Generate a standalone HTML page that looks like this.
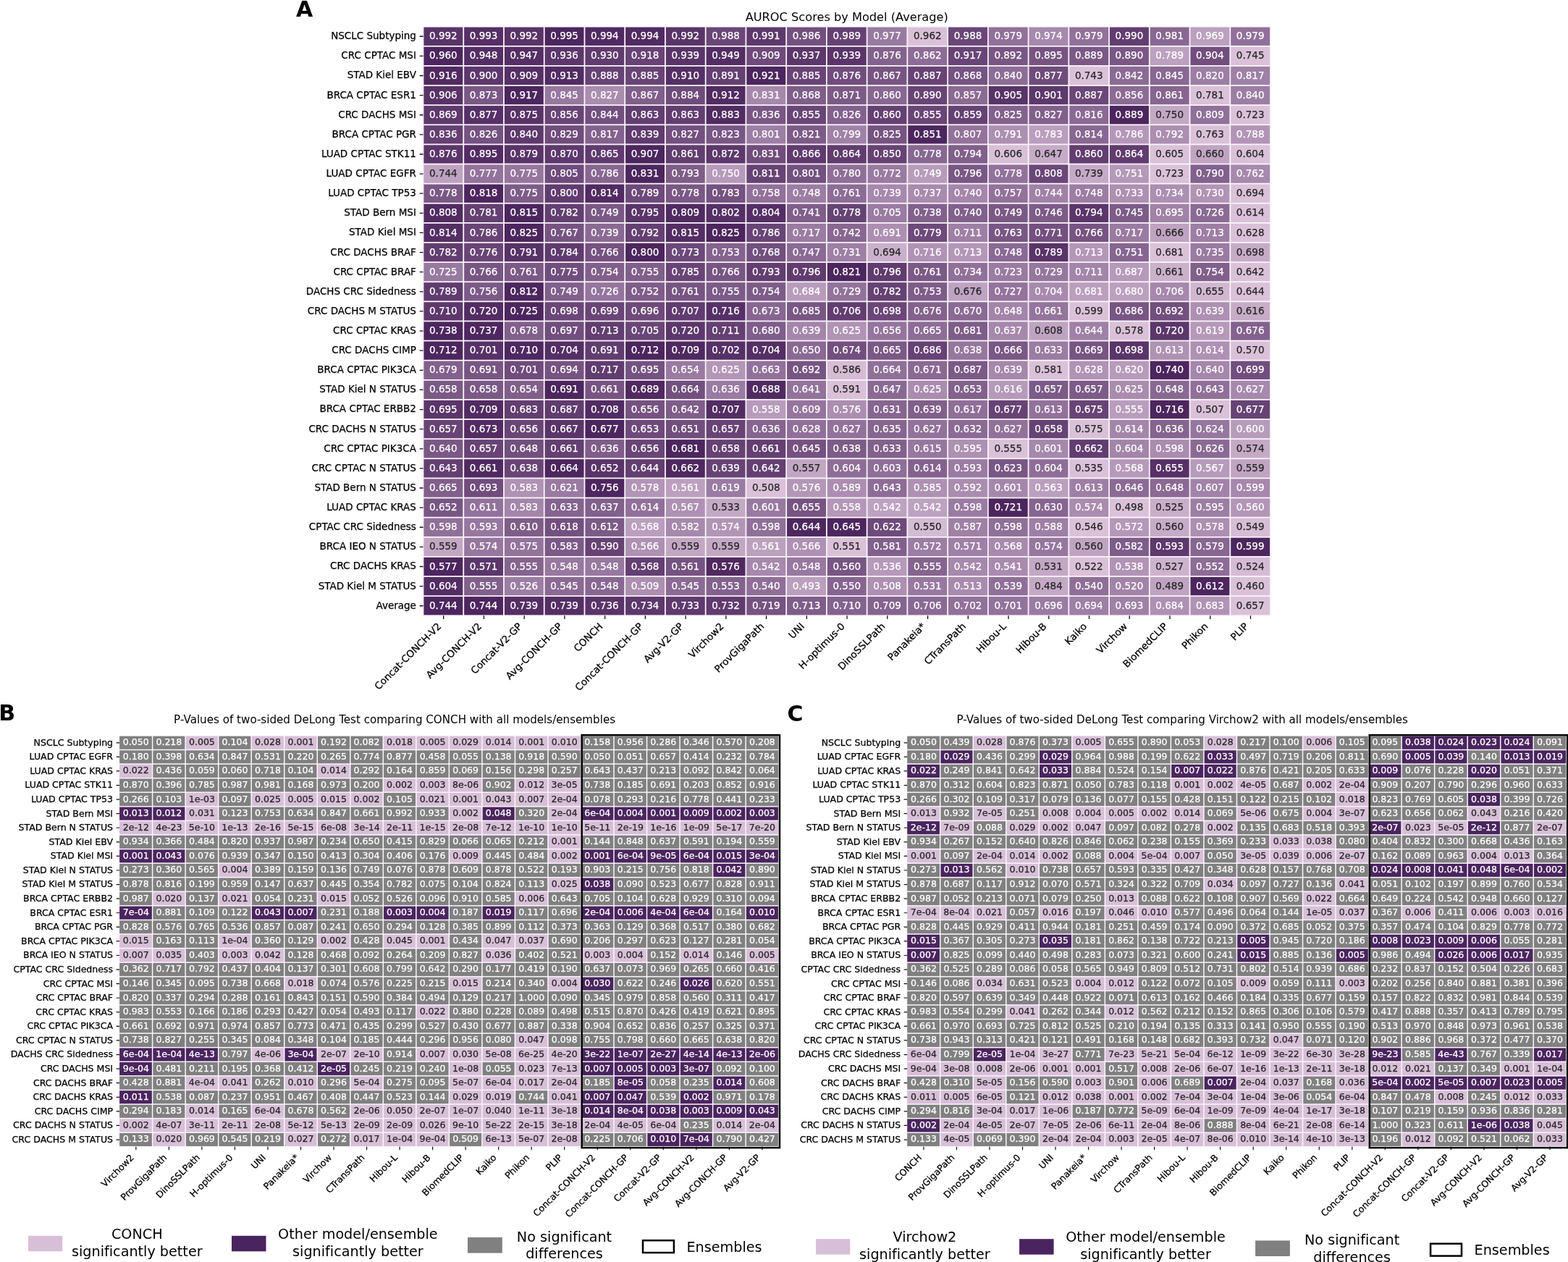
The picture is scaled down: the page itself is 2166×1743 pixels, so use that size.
<!DOCTYPE html>
<html><head><meta charset="utf-8"><title>AUROC heatmaps</title>
<style>
html,body{margin:0;padding:0;background:#fff;}
body{width:2166px;height:1743px;overflow:hidden;}
svg{display:block;font-family:'DejaVu Sans','Liberation Sans',sans-serif;font-variant-ligatures:none;font-feature-settings:'liga' 0;}
text{stroke-width:0.25px;}
</style></head><body>
<svg width="2166" height="1743" viewBox="0 0 2166 1743">
<rect width="2166" height="1743" fill="#fff"/>
<text x="1169.77" y="28.7" font-size="16.2" text-anchor="middle">AUROC Scores by Model (Average)</text>
<text x="409" y="22.8" font-size="30" font-weight="bold">A</text>
<rect x="583.60" y="35.80" width="1172.34" height="815.40" fill="#fbf6fb"/>
<rect x="585.40" y="37.60" width="53.94" height="25.32" fill="#593469"/>
<rect x="641.14" y="37.60" width="53.94" height="25.32" fill="#552f65"/>
<rect x="696.88" y="37.60" width="53.94" height="25.32" fill="#593469"/>
<rect x="752.62" y="37.60" width="53.94" height="25.32" fill="#4c265e"/>
<rect x="808.36" y="37.60" width="53.94" height="25.32" fill="#502b62"/>
<rect x="864.10" y="37.60" width="53.94" height="25.32" fill="#502b62"/>
<rect x="919.84" y="37.60" width="53.94" height="25.32" fill="#593469"/>
<rect x="975.58" y="37.60" width="53.94" height="25.32" fill="#6a4778"/>
<rect x="1031.32" y="37.60" width="53.94" height="25.32" fill="#5d396d"/>
<rect x="1087.06" y="37.60" width="53.94" height="25.32" fill="#735080"/>
<rect x="1142.80" y="37.60" width="53.94" height="25.32" fill="#664274"/>
<rect x="1198.54" y="37.60" width="53.94" height="25.32" fill="#997ba1"/>
<rect x="1254.28" y="37.60" width="53.94" height="25.32" fill="#dac1d9"/>
<rect x="1310.02" y="37.60" width="53.94" height="25.32" fill="#6a4778"/>
<rect x="1365.76" y="37.60" width="53.94" height="25.32" fill="#91719a"/>
<rect x="1421.50" y="37.60" width="53.94" height="25.32" fill="#a689ac"/>
<rect x="1477.24" y="37.60" width="53.94" height="25.32" fill="#91719a"/>
<rect x="1532.98" y="37.60" width="53.94" height="25.32" fill="#623d71"/>
<rect x="1588.72" y="37.60" width="53.94" height="25.32" fill="#886892"/>
<rect x="1644.46" y="37.60" width="53.94" height="25.32" fill="#bca0bf"/>
<rect x="1700.20" y="37.60" width="53.94" height="25.32" fill="#91719a"/>
<rect x="585.40" y="64.72" width="53.94" height="25.32" fill="#4c265e"/>
<rect x="641.14" y="64.72" width="53.94" height="25.32" fill="#542f65"/>
<rect x="696.88" y="64.72" width="53.94" height="25.32" fill="#552f65"/>
<rect x="752.62" y="64.72" width="53.94" height="25.32" fill="#5c376c"/>
<rect x="808.36" y="64.72" width="53.94" height="25.32" fill="#603c6f"/>
<rect x="864.10" y="64.72" width="53.94" height="25.32" fill="#684476"/>
<rect x="919.84" y="64.72" width="53.94" height="25.32" fill="#5a356a"/>
<rect x="975.58" y="64.72" width="53.94" height="25.32" fill="#532e64"/>
<rect x="1031.32" y="64.72" width="53.94" height="25.32" fill="#6e4b7b"/>
<rect x="1087.06" y="64.72" width="53.94" height="25.32" fill="#5b376b"/>
<rect x="1142.80" y="64.72" width="53.94" height="25.32" fill="#5a356a"/>
<rect x="1198.54" y="64.72" width="53.94" height="25.32" fill="#83638e"/>
<rect x="1254.28" y="64.72" width="53.94" height="25.32" fill="#8d6d96"/>
<rect x="1310.02" y="64.72" width="53.94" height="25.32" fill="#684577"/>
<rect x="1365.76" y="64.72" width="53.94" height="25.32" fill="#795785"/>
<rect x="1421.50" y="64.72" width="53.94" height="25.32" fill="#775583"/>
<rect x="1477.24" y="64.72" width="53.94" height="25.32" fill="#7b5987"/>
<rect x="1532.98" y="64.72" width="53.94" height="25.32" fill="#7a5886"/>
<rect x="1588.72" y="64.72" width="53.94" height="25.32" fill="#bda1c0"/>
<rect x="1644.46" y="64.72" width="53.94" height="25.32" fill="#714e7e"/>
<rect x="1700.20" y="64.72" width="53.94" height="25.32" fill="#dac1d9"/>
<rect x="585.40" y="91.84" width="53.94" height="25.32" fill="#502a61"/>
<rect x="641.14" y="91.84" width="53.94" height="25.32" fill="#5d386d"/>
<rect x="696.88" y="91.84" width="53.94" height="25.32" fill="#563066"/>
<rect x="752.62" y="91.84" width="53.94" height="25.32" fill="#522d64"/>
<rect x="808.36" y="91.84" width="53.94" height="25.32" fill="#664375"/>
<rect x="864.10" y="91.84" width="53.94" height="25.32" fill="#694577"/>
<rect x="919.84" y="91.84" width="53.94" height="25.32" fill="#553066"/>
<rect x="975.58" y="91.84" width="53.94" height="25.32" fill="#644073"/>
<rect x="1031.32" y="91.84" width="53.94" height="25.32" fill="#4c265e"/>
<rect x="1087.06" y="91.84" width="53.94" height="25.32" fill="#694577"/>
<rect x="1142.80" y="91.84" width="53.94" height="25.32" fill="#704d7d"/>
<rect x="1198.54" y="91.84" width="53.94" height="25.32" fill="#775583"/>
<rect x="1254.28" y="91.84" width="53.94" height="25.32" fill="#674475"/>
<rect x="1310.02" y="91.84" width="53.94" height="25.32" fill="#765483"/>
<rect x="1365.76" y="91.84" width="53.94" height="25.32" fill="#8d6d96"/>
<rect x="1421.50" y="91.84" width="53.94" height="25.32" fill="#6f4c7c"/>
<rect x="1477.24" y="91.84" width="53.94" height="25.32" fill="#dac1d9"/>
<rect x="1532.98" y="91.84" width="53.94" height="25.32" fill="#8b6b95"/>
<rect x="1588.72" y="91.84" width="53.94" height="25.32" fill="#896893"/>
<rect x="1644.46" y="91.84" width="53.94" height="25.32" fill="#9d7ea4"/>
<rect x="1700.20" y="91.84" width="53.94" height="25.32" fill="#9f81a6"/>
<rect x="585.40" y="118.96" width="53.94" height="25.32" fill="#573368"/>
<rect x="641.14" y="118.96" width="53.94" height="25.32" fill="#7a5886"/>
<rect x="696.88" y="118.96" width="53.94" height="25.32" fill="#4c265e"/>
<rect x="752.62" y="118.96" width="53.94" height="25.32" fill="#97789f"/>
<rect x="808.36" y="118.96" width="53.94" height="25.32" fill="#aa8daf"/>
<rect x="864.10" y="118.96" width="53.94" height="25.32" fill="#805f8b"/>
<rect x="919.84" y="118.96" width="53.94" height="25.32" fill="#6e4c7c"/>
<rect x="975.58" y="118.96" width="53.94" height="25.32" fill="#512c63"/>
<rect x="1031.32" y="118.96" width="53.94" height="25.32" fill="#a688ac"/>
<rect x="1087.06" y="118.96" width="53.94" height="25.32" fill="#7f5e8a"/>
<rect x="1142.80" y="118.96" width="53.94" height="25.32" fill="#7c5a88"/>
<rect x="1198.54" y="118.96" width="53.94" height="25.32" fill="#886792"/>
<rect x="1254.28" y="118.96" width="53.94" height="25.32" fill="#684576"/>
<rect x="1310.02" y="118.96" width="53.94" height="25.32" fill="#8b6a94"/>
<rect x="1365.76" y="118.96" width="53.94" height="25.32" fill="#593469"/>
<rect x="1421.50" y="118.96" width="53.94" height="25.32" fill="#5d386c"/>
<rect x="1477.24" y="118.96" width="53.94" height="25.32" fill="#6b4879"/>
<rect x="1532.98" y="118.96" width="53.94" height="25.32" fill="#8c6c95"/>
<rect x="1588.72" y="118.96" width="53.94" height="25.32" fill="#866691"/>
<rect x="1644.46" y="118.96" width="53.94" height="25.32" fill="#dac1d9"/>
<rect x="1700.20" y="118.96" width="53.94" height="25.32" fill="#9c7ea4"/>
<rect x="585.40" y="146.08" width="53.94" height="25.32" fill="#5d396d"/>
<rect x="641.14" y="146.08" width="53.94" height="25.32" fill="#563167"/>
<rect x="696.88" y="146.08" width="53.94" height="25.32" fill="#583368"/>
<rect x="752.62" y="146.08" width="53.94" height="25.32" fill="#684576"/>
<rect x="808.36" y="146.08" width="53.94" height="25.32" fill="#72507f"/>
<rect x="864.10" y="146.08" width="53.94" height="25.32" fill="#623e71"/>
<rect x="919.84" y="146.08" width="53.94" height="25.32" fill="#623e71"/>
<rect x="975.58" y="146.08" width="53.94" height="25.32" fill="#512c62"/>
<rect x="1031.32" y="146.08" width="53.94" height="25.32" fill="#795785"/>
<rect x="1087.06" y="146.08" width="53.94" height="25.32" fill="#694677"/>
<rect x="1142.80" y="146.08" width="53.94" height="25.32" fill="#82618d"/>
<rect x="1198.54" y="146.08" width="53.94" height="25.32" fill="#654173"/>
<rect x="1254.28" y="146.08" width="53.94" height="25.32" fill="#694677"/>
<rect x="1310.02" y="146.08" width="53.94" height="25.32" fill="#664274"/>
<rect x="1365.76" y="146.08" width="53.94" height="25.32" fill="#83628d"/>
<rect x="1421.50" y="146.08" width="53.94" height="25.32" fill="#81608c"/>
<rect x="1477.24" y="146.08" width="53.94" height="25.32" fill="#8a6a94"/>
<rect x="1532.98" y="146.08" width="53.94" height="25.32" fill="#4c265e"/>
<rect x="1588.72" y="146.08" width="53.94" height="25.32" fill="#c3a8c5"/>
<rect x="1644.46" y="146.08" width="53.94" height="25.32" fill="#907199"/>
<rect x="1700.20" y="146.08" width="53.94" height="25.32" fill="#dac1d9"/>
<rect x="585.40" y="173.20" width="53.94" height="25.32" fill="#644073"/>
<rect x="641.14" y="173.20" width="53.94" height="25.32" fill="#745281"/>
<rect x="696.88" y="173.20" width="53.94" height="25.32" fill="#5e396d"/>
<rect x="752.62" y="173.20" width="53.94" height="25.32" fill="#704d7d"/>
<rect x="808.36" y="173.20" width="53.94" height="25.32" fill="#83628e"/>
<rect x="864.10" y="173.20" width="53.94" height="25.32" fill="#5f3b6f"/>
<rect x="919.84" y="173.20" width="53.94" height="25.32" fill="#735080"/>
<rect x="975.58" y="173.20" width="53.94" height="25.32" fill="#795785"/>
<rect x="1031.32" y="173.20" width="53.94" height="25.32" fill="#9d7ea4"/>
<rect x="1087.06" y="173.20" width="53.94" height="25.32" fill="#7c5b88"/>
<rect x="1142.80" y="173.20" width="53.94" height="25.32" fill="#a082a7"/>
<rect x="1198.54" y="173.20" width="53.94" height="25.32" fill="#765482"/>
<rect x="1254.28" y="173.20" width="53.94" height="25.32" fill="#4c265e"/>
<rect x="1310.02" y="173.20" width="53.94" height="25.32" fill="#93739b"/>
<rect x="1365.76" y="173.20" width="53.94" height="25.32" fill="#ad90b2"/>
<rect x="1421.50" y="173.20" width="53.94" height="25.32" fill="#ba9ebd"/>
<rect x="1477.24" y="173.20" width="53.94" height="25.32" fill="#886792"/>
<rect x="1532.98" y="173.20" width="53.94" height="25.32" fill="#b598b9"/>
<rect x="1588.72" y="173.20" width="53.94" height="25.32" fill="#ab8eb0"/>
<rect x="1644.46" y="173.20" width="53.94" height="25.32" fill="#dac1d9"/>
<rect x="1700.20" y="173.20" width="53.94" height="25.32" fill="#b295b6"/>
<rect x="585.40" y="200.32" width="53.94" height="25.32" fill="#5b366b"/>
<rect x="641.14" y="200.32" width="53.94" height="25.32" fill="#522c63"/>
<rect x="696.88" y="200.32" width="53.94" height="25.32" fill="#593469"/>
<rect x="752.62" y="200.32" width="53.94" height="25.32" fill="#5d396d"/>
<rect x="808.36" y="200.32" width="53.94" height="25.32" fill="#603b6f"/>
<rect x="864.10" y="200.32" width="53.94" height="25.32" fill="#4c265e"/>
<rect x="919.84" y="200.32" width="53.94" height="25.32" fill="#623e71"/>
<rect x="975.58" y="200.32" width="53.94" height="25.32" fill="#5c386c"/>
<rect x="1031.32" y="200.32" width="53.94" height="25.32" fill="#704d7d"/>
<rect x="1087.06" y="200.32" width="53.94" height="25.32" fill="#5f3b6f"/>
<rect x="1142.80" y="200.32" width="53.94" height="25.32" fill="#603c6f"/>
<rect x="1198.54" y="200.32" width="53.94" height="25.32" fill="#674375"/>
<rect x="1254.28" y="200.32" width="53.94" height="25.32" fill="#886892"/>
<rect x="1310.02" y="200.32" width="53.94" height="25.32" fill="#81608c"/>
<rect x="1365.76" y="200.32" width="53.94" height="25.32" fill="#d9c0d8"/>
<rect x="1421.50" y="200.32" width="53.94" height="25.32" fill="#c6abc8"/>
<rect x="1477.24" y="200.32" width="53.94" height="25.32" fill="#623e71"/>
<rect x="1532.98" y="200.32" width="53.94" height="25.32" fill="#603c6f"/>
<rect x="1588.72" y="200.32" width="53.94" height="25.32" fill="#dac0d9"/>
<rect x="1644.46" y="200.32" width="53.94" height="25.32" fill="#c0a4c2"/>
<rect x="1700.20" y="200.32" width="53.94" height="25.32" fill="#dac1d9"/>
<rect x="585.40" y="227.44" width="53.94" height="25.32" fill="#bea3c1"/>
<rect x="641.14" y="227.44" width="53.94" height="25.32" fill="#93739b"/>
<rect x="696.88" y="227.44" width="53.94" height="25.32" fill="#96769e"/>
<rect x="752.62" y="227.44" width="53.94" height="25.32" fill="#6e4b7c"/>
<rect x="808.36" y="227.44" width="53.94" height="25.32" fill="#876791"/>
<rect x="864.10" y="227.44" width="53.94" height="25.32" fill="#4c265e"/>
<rect x="919.84" y="227.44" width="53.94" height="25.32" fill="#7e5d89"/>
<rect x="975.58" y="227.44" width="53.94" height="25.32" fill="#b69aba"/>
<rect x="1031.32" y="227.44" width="53.94" height="25.32" fill="#664375"/>
<rect x="1087.06" y="227.44" width="53.94" height="25.32" fill="#735180"/>
<rect x="1142.80" y="227.44" width="53.94" height="25.32" fill="#8f6f98"/>
<rect x="1198.54" y="227.44" width="53.94" height="25.32" fill="#9a7ba1"/>
<rect x="1254.28" y="227.44" width="53.94" height="25.32" fill="#b89cbb"/>
<rect x="1310.02" y="227.44" width="53.94" height="25.32" fill="#7a5886"/>
<rect x="1365.76" y="227.44" width="53.94" height="25.32" fill="#92729a"/>
<rect x="1421.50" y="227.44" width="53.94" height="25.32" fill="#6a4778"/>
<rect x="1477.24" y="227.44" width="53.94" height="25.32" fill="#c5aac7"/>
<rect x="1532.98" y="227.44" width="53.94" height="25.32" fill="#b599b9"/>
<rect x="1588.72" y="227.44" width="53.94" height="25.32" fill="#dac1d9"/>
<rect x="1644.46" y="227.44" width="53.94" height="25.32" fill="#82618d"/>
<rect x="1700.20" y="227.44" width="53.94" height="25.32" fill="#a789ad"/>
<rect x="585.40" y="254.56" width="53.94" height="25.32" fill="#7a5886"/>
<rect x="641.14" y="254.56" width="53.94" height="25.32" fill="#4c265e"/>
<rect x="696.88" y="254.56" width="53.94" height="25.32" fill="#7d5c89"/>
<rect x="752.62" y="254.56" width="53.94" height="25.32" fill="#613c70"/>
<rect x="808.36" y="254.56" width="53.94" height="25.32" fill="#512b62"/>
<rect x="864.10" y="254.56" width="53.94" height="25.32" fill="#6d4a7b"/>
<rect x="919.84" y="254.56" width="53.94" height="25.32" fill="#7a5886"/>
<rect x="975.58" y="254.56" width="53.94" height="25.32" fill="#745281"/>
<rect x="1031.32" y="254.56" width="53.94" height="25.32" fill="#91719a"/>
<rect x="1087.06" y="254.56" width="53.94" height="25.32" fill="#9c7da3"/>
<rect x="1142.80" y="254.56" width="53.94" height="25.32" fill="#8d6d97"/>
<rect x="1198.54" y="254.56" width="53.94" height="25.32" fill="#a689ac"/>
<rect x="1254.28" y="254.56" width="53.94" height="25.32" fill="#a98bae"/>
<rect x="1310.02" y="254.56" width="53.94" height="25.32" fill="#a587ab"/>
<rect x="1365.76" y="254.56" width="53.94" height="25.32" fill="#92729b"/>
<rect x="1421.50" y="254.56" width="53.94" height="25.32" fill="#a182a7"/>
<rect x="1477.24" y="254.56" width="53.94" height="25.32" fill="#9c7da3"/>
<rect x="1532.98" y="254.56" width="53.94" height="25.32" fill="#ad90b2"/>
<rect x="1588.72" y="254.56" width="53.94" height="25.32" fill="#ac8fb1"/>
<rect x="1644.46" y="254.56" width="53.94" height="25.32" fill="#b194b5"/>
<rect x="1700.20" y="254.56" width="53.94" height="25.32" fill="#dac1d9"/>
<rect x="585.40" y="281.68" width="53.94" height="25.32" fill="#512b62"/>
<rect x="641.14" y="281.68" width="53.94" height="25.32" fill="#644073"/>
<rect x="696.88" y="281.68" width="53.94" height="25.32" fill="#4c265e"/>
<rect x="752.62" y="281.68" width="53.94" height="25.32" fill="#633f72"/>
<rect x="808.36" y="281.68" width="53.94" height="25.32" fill="#7b5986"/>
<rect x="864.10" y="281.68" width="53.94" height="25.32" fill="#5a356a"/>
<rect x="919.84" y="281.68" width="53.94" height="25.32" fill="#502b62"/>
<rect x="975.58" y="281.68" width="53.94" height="25.32" fill="#553066"/>
<rect x="1031.32" y="281.68" width="53.94" height="25.32" fill="#542e65"/>
<rect x="1087.06" y="281.68" width="53.94" height="25.32" fill="#805f8b"/>
<rect x="1142.80" y="281.68" width="53.94" height="25.32" fill="#664375"/>
<rect x="1198.54" y="281.68" width="53.94" height="25.32" fill="#9a7ba1"/>
<rect x="1254.28" y="281.68" width="53.94" height="25.32" fill="#82618d"/>
<rect x="1310.02" y="281.68" width="53.94" height="25.32" fill="#81608c"/>
<rect x="1365.76" y="281.68" width="53.94" height="25.32" fill="#7b5986"/>
<rect x="1421.50" y="281.68" width="53.94" height="25.32" fill="#7d5b88"/>
<rect x="1477.24" y="281.68" width="53.94" height="25.32" fill="#5b366b"/>
<rect x="1532.98" y="281.68" width="53.94" height="25.32" fill="#7d5c89"/>
<rect x="1588.72" y="281.68" width="53.94" height="25.32" fill="#a183a7"/>
<rect x="1644.46" y="281.68" width="53.94" height="25.32" fill="#8b6b94"/>
<rect x="1700.20" y="281.68" width="53.94" height="25.32" fill="#dac1d9"/>
<rect x="585.40" y="308.80" width="53.94" height="25.32" fill="#542f65"/>
<rect x="641.14" y="308.80" width="53.94" height="25.32" fill="#684576"/>
<rect x="696.88" y="308.80" width="53.94" height="25.32" fill="#4c265e"/>
<rect x="752.62" y="308.80" width="53.94" height="25.32" fill="#765482"/>
<rect x="808.36" y="308.80" width="53.94" height="25.32" fill="#8a6a94"/>
<rect x="864.10" y="308.80" width="53.94" height="25.32" fill="#644073"/>
<rect x="919.84" y="308.80" width="53.94" height="25.32" fill="#532e64"/>
<rect x="975.58" y="308.80" width="53.94" height="25.32" fill="#4c265e"/>
<rect x="1031.32" y="308.80" width="53.94" height="25.32" fill="#684576"/>
<rect x="1087.06" y="308.80" width="53.94" height="25.32" fill="#9a7ba1"/>
<rect x="1142.80" y="308.80" width="53.94" height="25.32" fill="#886792"/>
<rect x="1198.54" y="308.80" width="53.94" height="25.32" fill="#ad8fb2"/>
<rect x="1254.28" y="308.80" width="53.94" height="25.32" fill="#6d4a7b"/>
<rect x="1310.02" y="308.80" width="53.94" height="25.32" fill="#9e80a5"/>
<rect x="1365.76" y="308.80" width="53.94" height="25.32" fill="#795785"/>
<rect x="1421.50" y="308.80" width="53.94" height="25.32" fill="#735080"/>
<rect x="1477.24" y="308.80" width="53.94" height="25.32" fill="#775483"/>
<rect x="1532.98" y="308.80" width="53.94" height="25.32" fill="#9a7ba1"/>
<rect x="1588.72" y="308.80" width="53.94" height="25.32" fill="#bfa3c1"/>
<rect x="1644.46" y="308.80" width="53.94" height="25.32" fill="#9d7ea4"/>
<rect x="1700.20" y="308.80" width="53.94" height="25.32" fill="#dac1d9"/>
<rect x="585.40" y="335.92" width="53.94" height="25.32" fill="#613d71"/>
<rect x="641.14" y="335.92" width="53.94" height="25.32" fill="#694577"/>
<rect x="696.88" y="335.92" width="53.94" height="25.32" fill="#573267"/>
<rect x="752.62" y="335.92" width="53.94" height="25.32" fill="#5f3b6f"/>
<rect x="808.36" y="335.92" width="53.94" height="25.32" fill="#755281"/>
<rect x="864.10" y="335.92" width="53.94" height="25.32" fill="#4c265e"/>
<rect x="919.84" y="335.92" width="53.94" height="25.32" fill="#6c497a"/>
<rect x="975.58" y="335.92" width="53.94" height="25.32" fill="#84638f"/>
<rect x="1031.32" y="335.92" width="53.94" height="25.32" fill="#72507f"/>
<rect x="1087.06" y="335.92" width="53.94" height="25.32" fill="#8b6b95"/>
<rect x="1142.80" y="335.92" width="53.94" height="25.32" fill="#9e80a5"/>
<rect x="1198.54" y="335.92" width="53.94" height="25.32" fill="#cab0cc"/>
<rect x="1254.28" y="335.92" width="53.94" height="25.32" fill="#b093b5"/>
<rect x="1310.02" y="335.92" width="53.94" height="25.32" fill="#b497b8"/>
<rect x="1365.76" y="335.92" width="53.94" height="25.32" fill="#8a6a94"/>
<rect x="1421.50" y="335.92" width="53.94" height="25.32" fill="#593469"/>
<rect x="1477.24" y="335.92" width="53.94" height="25.32" fill="#b497b8"/>
<rect x="1532.98" y="335.92" width="53.94" height="25.32" fill="#866691"/>
<rect x="1588.72" y="335.92" width="53.94" height="25.32" fill="#dac1d9"/>
<rect x="1644.46" y="335.92" width="53.94" height="25.32" fill="#9a7ba1"/>
<rect x="1700.20" y="335.92" width="53.94" height="25.32" fill="#c6abc7"/>
<rect x="585.40" y="363.04" width="53.94" height="25.32" fill="#9879a0"/>
<rect x="641.14" y="363.04" width="53.94" height="25.32" fill="#785684"/>
<rect x="696.88" y="363.04" width="53.94" height="25.32" fill="#7c5a87"/>
<rect x="752.62" y="363.04" width="53.94" height="25.32" fill="#704e7e"/>
<rect x="808.36" y="363.04" width="53.94" height="25.32" fill="#81608c"/>
<rect x="864.10" y="363.04" width="53.94" height="25.32" fill="#805f8b"/>
<rect x="919.84" y="363.04" width="53.94" height="25.32" fill="#694577"/>
<rect x="975.58" y="363.04" width="53.94" height="25.32" fill="#785684"/>
<rect x="1031.32" y="363.04" width="53.94" height="25.32" fill="#623e71"/>
<rect x="1087.06" y="363.04" width="53.94" height="25.32" fill="#603c6f"/>
<rect x="1142.80" y="363.04" width="53.94" height="25.32" fill="#4c265e"/>
<rect x="1198.54" y="363.04" width="53.94" height="25.32" fill="#603c6f"/>
<rect x="1254.28" y="363.04" width="53.94" height="25.32" fill="#7c5a87"/>
<rect x="1310.02" y="363.04" width="53.94" height="25.32" fill="#91719a"/>
<rect x="1365.76" y="363.04" width="53.94" height="25.32" fill="#9a7ba1"/>
<rect x="1421.50" y="363.04" width="53.94" height="25.32" fill="#95769d"/>
<rect x="1477.24" y="363.04" width="53.94" height="25.32" fill="#a385aa"/>
<rect x="1532.98" y="363.04" width="53.94" height="25.32" fill="#b69aba"/>
<rect x="1588.72" y="363.04" width="53.94" height="25.32" fill="#cbb1cc"/>
<rect x="1644.46" y="363.04" width="53.94" height="25.32" fill="#81608c"/>
<rect x="1700.20" y="363.04" width="53.94" height="25.32" fill="#dac1d9"/>
<rect x="585.40" y="390.16" width="53.94" height="25.32" fill="#5f3b6f"/>
<rect x="641.14" y="390.16" width="53.94" height="25.32" fill="#7b5a87"/>
<rect x="696.88" y="390.16" width="53.94" height="25.32" fill="#4c265e"/>
<rect x="752.62" y="390.16" width="53.94" height="25.32" fill="#81608c"/>
<rect x="808.36" y="390.16" width="53.94" height="25.32" fill="#95759d"/>
<rect x="864.10" y="390.16" width="53.94" height="25.32" fill="#7f5d8a"/>
<rect x="919.84" y="390.16" width="53.94" height="25.32" fill="#775583"/>
<rect x="975.58" y="390.16" width="53.94" height="25.32" fill="#7c5b88"/>
<rect x="1031.32" y="390.16" width="53.94" height="25.32" fill="#7d5c88"/>
<rect x="1087.06" y="390.16" width="53.94" height="25.32" fill="#b89cbc"/>
<rect x="1142.80" y="390.16" width="53.94" height="25.32" fill="#92739b"/>
<rect x="1198.54" y="390.16" width="53.94" height="25.32" fill="#654274"/>
<rect x="1254.28" y="390.16" width="53.94" height="25.32" fill="#7e5c89"/>
<rect x="1310.02" y="390.16" width="53.94" height="25.32" fill="#bfa3c2"/>
<rect x="1365.76" y="390.16" width="53.94" height="25.32" fill="#94749c"/>
<rect x="1421.50" y="390.16" width="53.94" height="25.32" fill="#a78aad"/>
<rect x="1477.24" y="390.16" width="53.94" height="25.32" fill="#bb9fbe"/>
<rect x="1532.98" y="390.16" width="53.94" height="25.32" fill="#bca0bf"/>
<rect x="1588.72" y="390.16" width="53.94" height="25.32" fill="#a688ac"/>
<rect x="1644.46" y="390.16" width="53.94" height="25.32" fill="#d1b7d1"/>
<rect x="1700.20" y="390.16" width="53.94" height="25.32" fill="#dac1d9"/>
<rect x="585.40" y="417.28" width="53.94" height="25.32" fill="#5d386d"/>
<rect x="641.14" y="417.28" width="53.94" height="25.32" fill="#522c63"/>
<rect x="696.88" y="417.28" width="53.94" height="25.32" fill="#4c265e"/>
<rect x="752.62" y="417.28" width="53.94" height="25.32" fill="#6a4778"/>
<rect x="808.36" y="417.28" width="53.94" height="25.32" fill="#694677"/>
<rect x="864.10" y="417.28" width="53.94" height="25.32" fill="#6d4a7a"/>
<rect x="919.84" y="417.28" width="53.94" height="25.32" fill="#603c70"/>
<rect x="975.58" y="417.28" width="53.94" height="25.32" fill="#563167"/>
<rect x="1031.32" y="417.28" width="53.94" height="25.32" fill="#876691"/>
<rect x="1087.06" y="417.28" width="53.94" height="25.32" fill="#795785"/>
<rect x="1142.80" y="417.28" width="53.94" height="25.32" fill="#613d71"/>
<rect x="1198.54" y="417.28" width="53.94" height="25.32" fill="#6a4778"/>
<rect x="1254.28" y="417.28" width="53.94" height="25.32" fill="#83628e"/>
<rect x="1310.02" y="417.28" width="53.94" height="25.32" fill="#8a6a94"/>
<rect x="1365.76" y="417.28" width="53.94" height="25.32" fill="#a385a9"/>
<rect x="1421.50" y="417.28" width="53.94" height="25.32" fill="#94759c"/>
<rect x="1477.24" y="417.28" width="53.94" height="25.32" fill="#dac1d9"/>
<rect x="1532.98" y="417.28" width="53.94" height="25.32" fill="#785684"/>
<rect x="1588.72" y="417.28" width="53.94" height="25.32" fill="#714f7e"/>
<rect x="1644.46" y="417.28" width="53.94" height="25.32" fill="#ad90b2"/>
<rect x="1700.20" y="417.28" width="53.94" height="25.32" fill="#c7acc8"/>
<rect x="585.40" y="444.40" width="53.94" height="25.32" fill="#4c265e"/>
<rect x="641.14" y="444.40" width="53.94" height="25.32" fill="#4d275f"/>
<rect x="696.88" y="444.40" width="53.94" height="25.32" fill="#81608c"/>
<rect x="752.62" y="444.40" width="53.94" height="25.32" fill="#704e7e"/>
<rect x="808.36" y="444.40" width="53.94" height="25.32" fill="#623e71"/>
<rect x="864.10" y="444.40" width="53.94" height="25.32" fill="#694677"/>
<rect x="919.84" y="444.40" width="53.94" height="25.32" fill="#5c376c"/>
<rect x="975.58" y="444.40" width="53.94" height="25.32" fill="#644073"/>
<rect x="1031.32" y="444.40" width="53.94" height="25.32" fill="#7f5e8b"/>
<rect x="1087.06" y="444.40" width="53.94" height="25.32" fill="#a486aa"/>
<rect x="1142.80" y="444.40" width="53.94" height="25.32" fill="#b093b5"/>
<rect x="1198.54" y="444.40" width="53.94" height="25.32" fill="#95759d"/>
<rect x="1254.28" y="444.40" width="53.94" height="25.32" fill="#8d6d96"/>
<rect x="1310.02" y="444.40" width="53.94" height="25.32" fill="#7f5d8a"/>
<rect x="1365.76" y="444.40" width="53.94" height="25.32" fill="#a688ac"/>
<rect x="1421.50" y="444.40" width="53.94" height="25.32" fill="#bfa4c2"/>
<rect x="1477.24" y="444.40" width="53.94" height="25.32" fill="#9f81a6"/>
<rect x="1532.98" y="444.40" width="53.94" height="25.32" fill="#dac1d9"/>
<rect x="1588.72" y="444.40" width="53.94" height="25.32" fill="#5c376c"/>
<rect x="1644.46" y="444.40" width="53.94" height="25.32" fill="#b699b9"/>
<rect x="1700.20" y="444.40" width="53.94" height="25.32" fill="#83628e"/>
<rect x="585.40" y="471.52" width="53.94" height="25.32" fill="#4c265e"/>
<rect x="641.14" y="471.52" width="53.94" height="25.32" fill="#573268"/>
<rect x="696.88" y="471.52" width="53.94" height="25.32" fill="#4e2860"/>
<rect x="752.62" y="471.52" width="53.94" height="25.32" fill="#542f65"/>
<rect x="808.36" y="471.52" width="53.94" height="25.32" fill="#613d70"/>
<rect x="864.10" y="471.52" width="53.94" height="25.32" fill="#4c265e"/>
<rect x="919.84" y="471.52" width="53.94" height="25.32" fill="#4f2961"/>
<rect x="975.58" y="471.52" width="53.94" height="25.32" fill="#563167"/>
<rect x="1031.32" y="471.52" width="53.94" height="25.32" fill="#542f65"/>
<rect x="1087.06" y="471.52" width="53.94" height="25.32" fill="#8a6a94"/>
<rect x="1142.80" y="471.52" width="53.94" height="25.32" fill="#724f7f"/>
<rect x="1198.54" y="471.52" width="53.94" height="25.32" fill="#7b5987"/>
<rect x="1254.28" y="471.52" width="53.94" height="25.32" fill="#664275"/>
<rect x="1310.02" y="471.52" width="53.94" height="25.32" fill="#96779e"/>
<rect x="1365.76" y="471.52" width="53.94" height="25.32" fill="#7a5886"/>
<rect x="1421.50" y="471.52" width="53.94" height="25.32" fill="#9b7ca2"/>
<rect x="1477.24" y="471.52" width="53.94" height="25.32" fill="#775583"/>
<rect x="1532.98" y="471.52" width="53.94" height="25.32" fill="#5a356a"/>
<rect x="1588.72" y="471.52" width="53.94" height="25.32" fill="#af92b4"/>
<rect x="1644.46" y="471.52" width="53.94" height="25.32" fill="#ae91b3"/>
<rect x="1700.20" y="471.52" width="53.94" height="25.32" fill="#dac1d9"/>
<rect x="585.40" y="498.64" width="53.94" height="25.32" fill="#82618d"/>
<rect x="641.14" y="498.64" width="53.94" height="25.32" fill="#785684"/>
<rect x="696.88" y="498.64" width="53.94" height="25.32" fill="#6f4c7c"/>
<rect x="752.62" y="498.64" width="53.94" height="25.32" fill="#755382"/>
<rect x="808.36" y="498.64" width="53.94" height="25.32" fill="#613c70"/>
<rect x="864.10" y="498.64" width="53.94" height="25.32" fill="#745281"/>
<rect x="919.84" y="498.64" width="53.94" height="25.32" fill="#997aa1"/>
<rect x="975.58" y="498.64" width="53.94" height="25.32" fill="#b396b7"/>
<rect x="1031.32" y="498.64" width="53.94" height="25.32" fill="#91719a"/>
<rect x="1087.06" y="498.64" width="53.94" height="25.32" fill="#775583"/>
<rect x="1142.80" y="498.64" width="53.94" height="25.32" fill="#d6bcd5"/>
<rect x="1198.54" y="498.64" width="53.94" height="25.32" fill="#907099"/>
<rect x="1254.28" y="498.64" width="53.94" height="25.32" fill="#8a6993"/>
<rect x="1310.02" y="498.64" width="53.94" height="25.32" fill="#7b5a87"/>
<rect x="1365.76" y="498.64" width="53.94" height="25.32" fill="#a688ac"/>
<rect x="1421.50" y="498.64" width="53.94" height="25.32" fill="#dac1d9"/>
<rect x="1477.24" y="498.64" width="53.94" height="25.32" fill="#b093b5"/>
<rect x="1532.98" y="498.64" width="53.94" height="25.32" fill="#b79bbb"/>
<rect x="1588.72" y="498.64" width="53.94" height="25.32" fill="#4c265e"/>
<rect x="1644.46" y="498.64" width="53.94" height="25.32" fill="#a587ab"/>
<rect x="1700.20" y="498.64" width="53.94" height="25.32" fill="#714e7e"/>
<rect x="585.40" y="525.76" width="53.94" height="25.32" fill="#7b5987"/>
<rect x="641.14" y="525.76" width="53.94" height="25.32" fill="#7b5987"/>
<rect x="696.88" y="525.76" width="53.94" height="25.32" fill="#815f8c"/>
<rect x="752.62" y="525.76" width="53.94" height="25.32" fill="#4c265e"/>
<rect x="808.36" y="525.76" width="53.94" height="25.32" fill="#775483"/>
<rect x="864.10" y="525.76" width="53.94" height="25.32" fill="#4f2960"/>
<rect x="919.84" y="525.76" width="53.94" height="25.32" fill="#72507f"/>
<rect x="975.58" y="525.76" width="53.94" height="25.32" fill="#9a7ba2"/>
<rect x="1031.32" y="525.76" width="53.94" height="25.32" fill="#502b62"/>
<rect x="1087.06" y="525.76" width="53.94" height="25.32" fill="#93739b"/>
<rect x="1142.80" y="525.76" width="53.94" height="25.32" fill="#dac1d9"/>
<rect x="1198.54" y="525.76" width="53.94" height="25.32" fill="#8a6a94"/>
<rect x="1254.28" y="525.76" width="53.94" height="25.32" fill="#aa8caf"/>
<rect x="1310.02" y="525.76" width="53.94" height="25.32" fill="#82618d"/>
<rect x="1365.76" y="525.76" width="53.94" height="25.32" fill="#b69aba"/>
<rect x="1421.50" y="525.76" width="53.94" height="25.32" fill="#7c5b88"/>
<rect x="1477.24" y="525.76" width="53.94" height="25.32" fill="#7c5b88"/>
<rect x="1532.98" y="525.76" width="53.94" height="25.32" fill="#aa8caf"/>
<rect x="1588.72" y="525.76" width="53.94" height="25.32" fill="#896993"/>
<rect x="1644.46" y="525.76" width="53.94" height="25.32" fill="#907099"/>
<rect x="1700.20" y="525.76" width="53.94" height="25.32" fill="#a789ad"/>
<rect x="585.40" y="552.88" width="53.94" height="25.32" fill="#5a366a"/>
<rect x="641.14" y="552.88" width="53.94" height="25.32" fill="#512b62"/>
<rect x="696.88" y="552.88" width="53.94" height="25.32" fill="#623e71"/>
<rect x="752.62" y="552.88" width="53.94" height="25.32" fill="#603c6f"/>
<rect x="808.36" y="552.88" width="53.94" height="25.32" fill="#512c63"/>
<rect x="864.10" y="552.88" width="53.94" height="25.32" fill="#755281"/>
<rect x="919.84" y="552.88" width="53.94" height="25.32" fill="#7e5d8a"/>
<rect x="975.58" y="552.88" width="53.94" height="25.32" fill="#522d63"/>
<rect x="1031.32" y="552.88" width="53.94" height="25.32" fill="#b79bbb"/>
<rect x="1087.06" y="552.88" width="53.94" height="25.32" fill="#95759d"/>
<rect x="1142.80" y="552.88" width="53.94" height="25.32" fill="#ab8eb0"/>
<rect x="1198.54" y="552.88" width="53.94" height="25.32" fill="#866590"/>
<rect x="1254.28" y="552.88" width="53.94" height="25.32" fill="#805f8b"/>
<rect x="1310.02" y="552.88" width="53.94" height="25.32" fill="#8f6f98"/>
<rect x="1365.76" y="552.88" width="53.94" height="25.32" fill="#664375"/>
<rect x="1421.50" y="552.88" width="53.94" height="25.32" fill="#92729b"/>
<rect x="1477.24" y="552.88" width="53.94" height="25.32" fill="#684476"/>
<rect x="1532.98" y="552.88" width="53.94" height="25.32" fill="#b99dbd"/>
<rect x="1588.72" y="552.88" width="53.94" height="25.32" fill="#4c265e"/>
<rect x="1644.46" y="552.88" width="53.94" height="25.32" fill="#dac1d9"/>
<rect x="1700.20" y="552.88" width="53.94" height="25.32" fill="#664375"/>
<rect x="585.40" y="580.00" width="53.94" height="25.32" fill="#684476"/>
<rect x="641.14" y="580.00" width="53.94" height="25.32" fill="#522c63"/>
<rect x="696.88" y="580.00" width="53.94" height="25.32" fill="#694677"/>
<rect x="752.62" y="580.00" width="53.94" height="25.32" fill="#5a356a"/>
<rect x="808.36" y="580.00" width="53.94" height="25.32" fill="#4c265e"/>
<rect x="864.10" y="580.00" width="53.94" height="25.32" fill="#6d4a7b"/>
<rect x="919.84" y="580.00" width="53.94" height="25.32" fill="#704e7d"/>
<rect x="975.58" y="580.00" width="53.94" height="25.32" fill="#684476"/>
<rect x="1031.32" y="580.00" width="53.94" height="25.32" fill="#85648f"/>
<rect x="1087.06" y="580.00" width="53.94" height="25.32" fill="#907099"/>
<rect x="1142.80" y="580.00" width="53.94" height="25.32" fill="#92729a"/>
<rect x="1198.54" y="580.00" width="53.94" height="25.32" fill="#866691"/>
<rect x="1254.28" y="580.00" width="53.94" height="25.32" fill="#92729a"/>
<rect x="1310.02" y="580.00" width="53.94" height="25.32" fill="#8b6a94"/>
<rect x="1365.76" y="580.00" width="53.94" height="25.32" fill="#92729a"/>
<rect x="1421.50" y="580.00" width="53.94" height="25.32" fill="#664375"/>
<rect x="1477.24" y="580.00" width="53.94" height="25.32" fill="#dac1d9"/>
<rect x="1532.98" y="580.00" width="53.94" height="25.32" fill="#a486aa"/>
<rect x="1588.72" y="580.00" width="53.94" height="25.32" fill="#85648f"/>
<rect x="1644.46" y="580.00" width="53.94" height="25.32" fill="#96779e"/>
<rect x="1700.20" y="580.00" width="53.94" height="25.32" fill="#b79bbb"/>
<rect x="585.40" y="607.12" width="53.94" height="25.32" fill="#7a5886"/>
<rect x="641.14" y="607.12" width="53.94" height="25.32" fill="#674475"/>
<rect x="696.88" y="607.12" width="53.94" height="25.32" fill="#714f7e"/>
<rect x="752.62" y="607.12" width="53.94" height="25.32" fill="#633f72"/>
<rect x="808.36" y="607.12" width="53.94" height="25.32" fill="#7f5d8a"/>
<rect x="864.10" y="607.12" width="53.94" height="25.32" fill="#684576"/>
<rect x="919.84" y="607.12" width="53.94" height="25.32" fill="#4c265e"/>
<rect x="975.58" y="607.12" width="53.94" height="25.32" fill="#664274"/>
<rect x="1031.32" y="607.12" width="53.94" height="25.32" fill="#633f72"/>
<rect x="1087.06" y="607.12" width="53.94" height="25.32" fill="#755281"/>
<rect x="1142.80" y="607.12" width="53.94" height="25.32" fill="#7c5b88"/>
<rect x="1198.54" y="607.12" width="53.94" height="25.32" fill="#82618d"/>
<rect x="1254.28" y="607.12" width="53.94" height="25.32" fill="#96779e"/>
<rect x="1310.02" y="607.12" width="53.94" height="25.32" fill="#ad90b2"/>
<rect x="1365.76" y="607.12" width="53.94" height="25.32" fill="#dac1d9"/>
<rect x="1421.50" y="607.12" width="53.94" height="25.32" fill="#a688ac"/>
<rect x="1477.24" y="607.12" width="53.94" height="25.32" fill="#613d71"/>
<rect x="1532.98" y="607.12" width="53.94" height="25.32" fill="#a385a9"/>
<rect x="1588.72" y="607.12" width="53.94" height="25.32" fill="#aa8caf"/>
<rect x="1644.46" y="607.12" width="53.94" height="25.32" fill="#8a6a94"/>
<rect x="1700.20" y="607.12" width="53.94" height="25.32" fill="#c5aac6"/>
<rect x="585.40" y="634.24" width="53.94" height="25.32" fill="#633f72"/>
<rect x="641.14" y="634.24" width="53.94" height="25.32" fill="#4f2a61"/>
<rect x="696.88" y="634.24" width="53.94" height="25.32" fill="#694577"/>
<rect x="752.62" y="634.24" width="53.94" height="25.32" fill="#4c265e"/>
<rect x="808.36" y="634.24" width="53.94" height="25.32" fill="#593469"/>
<rect x="864.10" y="634.24" width="53.94" height="25.32" fill="#623e71"/>
<rect x="919.84" y="634.24" width="53.94" height="25.32" fill="#4e2860"/>
<rect x="975.58" y="634.24" width="53.94" height="25.32" fill="#684476"/>
<rect x="1031.32" y="634.24" width="53.94" height="25.32" fill="#644073"/>
<rect x="1087.06" y="634.24" width="53.94" height="25.32" fill="#c2a7c4"/>
<rect x="1142.80" y="634.24" width="53.94" height="25.32" fill="#8e6e97"/>
<rect x="1198.54" y="634.24" width="53.94" height="25.32" fill="#8f6f98"/>
<rect x="1254.28" y="634.24" width="53.94" height="25.32" fill="#83628e"/>
<rect x="1310.02" y="634.24" width="53.94" height="25.32" fill="#9a7ba2"/>
<rect x="1365.76" y="634.24" width="53.94" height="25.32" fill="#795785"/>
<rect x="1421.50" y="634.24" width="53.94" height="25.32" fill="#8e6e97"/>
<rect x="1477.24" y="634.24" width="53.94" height="25.32" fill="#dac1d9"/>
<rect x="1532.98" y="634.24" width="53.94" height="25.32" fill="#b699ba"/>
<rect x="1588.72" y="634.24" width="53.94" height="25.32" fill="#563167"/>
<rect x="1644.46" y="634.24" width="53.94" height="25.32" fill="#b79bba"/>
<rect x="1700.20" y="634.24" width="53.94" height="25.32" fill="#c0a4c2"/>
<rect x="585.40" y="661.36" width="53.94" height="25.32" fill="#805f8b"/>
<rect x="641.14" y="661.36" width="53.94" height="25.32" fill="#704d7d"/>
<rect x="696.88" y="661.36" width="53.94" height="25.32" fill="#af92b4"/>
<rect x="752.62" y="661.36" width="53.94" height="25.32" fill="#997aa1"/>
<rect x="808.36" y="661.36" width="53.94" height="25.32" fill="#4c265e"/>
<rect x="864.10" y="661.36" width="53.94" height="25.32" fill="#b295b6"/>
<rect x="919.84" y="661.36" width="53.94" height="25.32" fill="#bca0bf"/>
<rect x="975.58" y="661.36" width="53.94" height="25.32" fill="#9a7ca2"/>
<rect x="1031.32" y="661.36" width="53.94" height="25.32" fill="#dac1d9"/>
<rect x="1087.06" y="661.36" width="53.94" height="25.32" fill="#b397b7"/>
<rect x="1142.80" y="661.36" width="53.94" height="25.32" fill="#ac8eb1"/>
<rect x="1198.54" y="661.36" width="53.94" height="25.32" fill="#8d6d96"/>
<rect x="1254.28" y="661.36" width="53.94" height="25.32" fill="#ae91b3"/>
<rect x="1310.02" y="661.36" width="53.94" height="25.32" fill="#aa8daf"/>
<rect x="1365.76" y="661.36" width="53.94" height="25.32" fill="#a587ab"/>
<rect x="1421.50" y="661.36" width="53.94" height="25.32" fill="#bb9fbe"/>
<rect x="1477.24" y="661.36" width="53.94" height="25.32" fill="#9e7fa5"/>
<rect x="1532.98" y="661.36" width="53.94" height="25.32" fill="#8b6b95"/>
<rect x="1588.72" y="661.36" width="53.94" height="25.32" fill="#8a6994"/>
<rect x="1644.46" y="661.36" width="53.94" height="25.32" fill="#a183a8"/>
<rect x="1700.20" y="661.36" width="53.94" height="25.32" fill="#a688ac"/>
<rect x="585.40" y="688.48" width="53.94" height="25.32" fill="#785684"/>
<rect x="641.14" y="688.48" width="53.94" height="25.32" fill="#92729b"/>
<rect x="696.88" y="688.48" width="53.94" height="25.32" fill="#a486aa"/>
<rect x="752.62" y="688.48" width="53.94" height="25.32" fill="#84638f"/>
<rect x="808.36" y="688.48" width="53.94" height="25.32" fill="#81608c"/>
<rect x="864.10" y="688.48" width="53.94" height="25.32" fill="#907099"/>
<rect x="919.84" y="688.48" width="53.94" height="25.32" fill="#ae91b3"/>
<rect x="975.58" y="688.48" width="53.94" height="25.32" fill="#c4a9c6"/>
<rect x="1031.32" y="688.48" width="53.94" height="25.32" fill="#9879a0"/>
<rect x="1087.06" y="688.48" width="53.94" height="25.32" fill="#765482"/>
<rect x="1142.80" y="688.48" width="53.94" height="25.32" fill="#b497b8"/>
<rect x="1198.54" y="688.48" width="53.94" height="25.32" fill="#bea2c1"/>
<rect x="1254.28" y="688.48" width="53.94" height="25.32" fill="#bea2c1"/>
<rect x="1310.02" y="688.48" width="53.94" height="25.32" fill="#9a7ba2"/>
<rect x="1365.76" y="688.48" width="53.94" height="25.32" fill="#4c265e"/>
<rect x="1421.50" y="688.48" width="53.94" height="25.32" fill="#866590"/>
<rect x="1477.24" y="688.48" width="53.94" height="25.32" fill="#aa8caf"/>
<rect x="1532.98" y="688.48" width="53.94" height="25.32" fill="#dac1d9"/>
<rect x="1588.72" y="688.48" width="53.94" height="25.32" fill="#c9aeca"/>
<rect x="1644.46" y="688.48" width="53.94" height="25.32" fill="#9c7ea3"/>
<rect x="1700.20" y="688.48" width="53.94" height="25.32" fill="#b396b7"/>
<rect x="585.40" y="715.60" width="53.94" height="25.32" fill="#8f7098"/>
<rect x="641.14" y="715.60" width="53.94" height="25.32" fill="#97779f"/>
<rect x="696.88" y="715.60" width="53.94" height="25.32" fill="#7e5d89"/>
<rect x="752.62" y="715.60" width="53.94" height="25.32" fill="#735080"/>
<rect x="808.36" y="715.60" width="53.94" height="25.32" fill="#7b5a87"/>
<rect x="864.10" y="715.60" width="53.94" height="25.32" fill="#ba9fbe"/>
<rect x="919.84" y="715.60" width="53.94" height="25.32" fill="#a689ac"/>
<rect x="975.58" y="715.60" width="53.94" height="25.32" fill="#b295b6"/>
<rect x="1031.32" y="715.60" width="53.94" height="25.32" fill="#8f7098"/>
<rect x="1087.06" y="715.60" width="53.94" height="25.32" fill="#4d285f"/>
<rect x="1142.80" y="715.60" width="53.94" height="25.32" fill="#4c265e"/>
<rect x="1198.54" y="715.60" width="53.94" height="25.32" fill="#6d4a7b"/>
<rect x="1254.28" y="715.60" width="53.94" height="25.32" fill="#d4bbd4"/>
<rect x="1310.02" y="715.60" width="53.94" height="25.32" fill="#9f81a6"/>
<rect x="1365.76" y="715.60" width="53.94" height="25.32" fill="#8f7098"/>
<rect x="1421.50" y="715.60" width="53.94" height="25.32" fill="#9e7fa5"/>
<rect x="1477.24" y="715.60" width="53.94" height="25.32" fill="#dac1d9"/>
<rect x="1532.98" y="715.60" width="53.94" height="25.32" fill="#b598b9"/>
<rect x="1588.72" y="715.60" width="53.94" height="25.32" fill="#c6abc8"/>
<rect x="1644.46" y="715.60" width="53.94" height="25.32" fill="#ac8fb1"/>
<rect x="1700.20" y="715.60" width="53.94" height="25.32" fill="#d6bcd5"/>
<rect x="585.40" y="742.72" width="53.94" height="25.32" fill="#c2a7c4"/>
<rect x="641.14" y="742.72" width="53.94" height="25.32" fill="#96779e"/>
<rect x="696.88" y="742.72" width="53.94" height="25.32" fill="#93749c"/>
<rect x="752.62" y="742.72" width="53.94" height="25.32" fill="#7b5a87"/>
<rect x="808.36" y="742.72" width="53.94" height="25.32" fill="#674375"/>
<rect x="864.10" y="742.72" width="53.94" height="25.32" fill="#ae91b3"/>
<rect x="919.84" y="742.72" width="53.94" height="25.32" fill="#c2a7c4"/>
<rect x="975.58" y="742.72" width="53.94" height="25.32" fill="#c2a7c4"/>
<rect x="1031.32" y="742.72" width="53.94" height="25.32" fill="#bca1bf"/>
<rect x="1087.06" y="742.72" width="53.94" height="25.32" fill="#ae91b3"/>
<rect x="1142.80" y="742.72" width="53.94" height="25.32" fill="#dac1d9"/>
<rect x="1198.54" y="742.72" width="53.94" height="25.32" fill="#81608c"/>
<rect x="1254.28" y="742.72" width="53.94" height="25.32" fill="#9c7da3"/>
<rect x="1310.02" y="742.72" width="53.94" height="25.32" fill="#9f80a6"/>
<rect x="1365.76" y="742.72" width="53.94" height="25.32" fill="#a88aad"/>
<rect x="1421.50" y="742.72" width="53.94" height="25.32" fill="#96779e"/>
<rect x="1477.24" y="742.72" width="53.94" height="25.32" fill="#bfa4c2"/>
<rect x="1532.98" y="742.72" width="53.94" height="25.32" fill="#7e5d8a"/>
<rect x="1588.72" y="742.72" width="53.94" height="25.32" fill="#5e396d"/>
<rect x="1644.46" y="742.72" width="53.94" height="25.32" fill="#876791"/>
<rect x="1700.20" y="742.72" width="53.94" height="25.32" fill="#4c265e"/>
<rect x="585.40" y="769.84" width="53.94" height="25.32" fill="#4c265e"/>
<rect x="641.14" y="769.84" width="53.94" height="25.32" fill="#5b376b"/>
<rect x="696.88" y="769.84" width="53.94" height="25.32" fill="#85648f"/>
<rect x="752.62" y="769.84" width="53.94" height="25.32" fill="#97789f"/>
<rect x="808.36" y="769.84" width="53.94" height="25.32" fill="#97789f"/>
<rect x="864.10" y="769.84" width="53.94" height="25.32" fill="#633f72"/>
<rect x="919.84" y="769.84" width="53.94" height="25.32" fill="#755382"/>
<rect x="975.58" y="769.84" width="53.94" height="25.32" fill="#4f2960"/>
<rect x="1031.32" y="769.84" width="53.94" height="25.32" fill="#a689ac"/>
<rect x="1087.06" y="769.84" width="53.94" height="25.32" fill="#97789f"/>
<rect x="1142.80" y="769.84" width="53.94" height="25.32" fill="#785684"/>
<rect x="1198.54" y="769.84" width="53.94" height="25.32" fill="#b69aba"/>
<rect x="1254.28" y="769.84" width="53.94" height="25.32" fill="#85648f"/>
<rect x="1310.02" y="769.84" width="53.94" height="25.32" fill="#a689ac"/>
<rect x="1365.76" y="769.84" width="53.94" height="25.32" fill="#a98baf"/>
<rect x="1421.50" y="769.84" width="53.94" height="25.32" fill="#c3a8c5"/>
<rect x="1477.24" y="769.84" width="53.94" height="25.32" fill="#dac1d9"/>
<rect x="1532.98" y="769.84" width="53.94" height="25.32" fill="#b194b5"/>
<rect x="1588.72" y="769.84" width="53.94" height="25.32" fill="#cdb3ce"/>
<rect x="1644.46" y="769.84" width="53.94" height="25.32" fill="#8d6c96"/>
<rect x="1700.20" y="769.84" width="53.94" height="25.32" fill="#d5bbd5"/>
<rect x="585.40" y="796.96" width="53.94" height="25.32" fill="#532e64"/>
<rect x="641.14" y="796.96" width="53.94" height="25.32" fill="#81608c"/>
<rect x="696.88" y="796.96" width="53.94" height="25.32" fill="#9c7ea4"/>
<rect x="752.62" y="796.96" width="53.94" height="25.32" fill="#8b6a94"/>
<rect x="808.36" y="796.96" width="53.94" height="25.32" fill="#886792"/>
<rect x="864.10" y="796.96" width="53.94" height="25.32" fill="#ac8fb1"/>
<rect x="919.84" y="796.96" width="53.94" height="25.32" fill="#8b6a94"/>
<rect x="975.58" y="796.96" width="53.94" height="25.32" fill="#83628e"/>
<rect x="1031.32" y="796.96" width="53.94" height="25.32" fill="#8f6f98"/>
<rect x="1087.06" y="796.96" width="53.94" height="25.32" fill="#bb9fbe"/>
<rect x="1142.80" y="796.96" width="53.94" height="25.32" fill="#866590"/>
<rect x="1198.54" y="796.96" width="53.94" height="25.32" fill="#ad90b2"/>
<rect x="1254.28" y="796.96" width="53.94" height="25.32" fill="#9879a0"/>
<rect x="1310.02" y="796.96" width="53.94" height="25.32" fill="#a88bae"/>
<rect x="1365.76" y="796.96" width="53.94" height="25.32" fill="#907099"/>
<rect x="1421.50" y="796.96" width="53.94" height="25.32" fill="#c4a9c6"/>
<rect x="1477.24" y="796.96" width="53.94" height="25.32" fill="#8f6f98"/>
<rect x="1532.98" y="796.96" width="53.94" height="25.32" fill="#a284a8"/>
<rect x="1588.72" y="796.96" width="53.94" height="25.32" fill="#bfa3c2"/>
<rect x="1644.46" y="796.96" width="53.94" height="25.32" fill="#4c265e"/>
<rect x="1700.20" y="796.96" width="53.94" height="25.32" fill="#dac1d9"/>
<rect x="585.40" y="824.08" width="53.94" height="25.32" fill="#4c265e"/>
<rect x="641.14" y="824.08" width="53.94" height="25.32" fill="#4c265e"/>
<rect x="696.88" y="824.08" width="53.94" height="25.32" fill="#542f65"/>
<rect x="752.62" y="824.08" width="53.94" height="25.32" fill="#542f65"/>
<rect x="808.36" y="824.08" width="53.94" height="25.32" fill="#593469"/>
<rect x="864.10" y="824.08" width="53.94" height="25.32" fill="#5c386c"/>
<rect x="919.84" y="824.08" width="53.94" height="25.32" fill="#5e3a6e"/>
<rect x="975.58" y="824.08" width="53.94" height="25.32" fill="#603b6f"/>
<rect x="1031.32" y="824.08" width="53.94" height="25.32" fill="#755381"/>
<rect x="1087.06" y="824.08" width="53.94" height="25.32" fill="#7f5d8a"/>
<rect x="1142.80" y="824.08" width="53.94" height="25.32" fill="#83638e"/>
<rect x="1198.54" y="824.08" width="53.94" height="25.32" fill="#85648f"/>
<rect x="1254.28" y="824.08" width="53.94" height="25.32" fill="#8a6a94"/>
<rect x="1310.02" y="824.08" width="53.94" height="25.32" fill="#917199"/>
<rect x="1365.76" y="824.08" width="53.94" height="25.32" fill="#92739b"/>
<rect x="1421.50" y="824.08" width="53.94" height="25.32" fill="#9a7ca2"/>
<rect x="1477.24" y="824.08" width="53.94" height="25.32" fill="#9e7fa5"/>
<rect x="1532.98" y="824.08" width="53.94" height="25.32" fill="#9f81a6"/>
<rect x="1588.72" y="824.08" width="53.94" height="25.32" fill="#ae91b3"/>
<rect x="1644.46" y="824.08" width="53.94" height="25.32" fill="#b093b4"/>
<rect x="1700.20" y="824.08" width="53.94" height="25.32" fill="#dac1d9"/>
<g font-size="13.5" text-anchor="middle">
<text x="612.37" y="54.33" fill="#fff" stroke="#fff">0.992</text>
<text x="668.11" y="54.33" fill="#fff" stroke="#fff">0.993</text>
<text x="723.85" y="54.33" fill="#fff" stroke="#fff">0.992</text>
<text x="779.59" y="54.33" fill="#fff" stroke="#fff">0.995</text>
<text x="835.33" y="54.33" fill="#fff" stroke="#fff">0.994</text>
<text x="891.07" y="54.33" fill="#fff" stroke="#fff">0.994</text>
<text x="946.81" y="54.33" fill="#fff" stroke="#fff">0.992</text>
<text x="1002.55" y="54.33" fill="#fff" stroke="#fff">0.988</text>
<text x="1058.29" y="54.33" fill="#fff" stroke="#fff">0.991</text>
<text x="1114.03" y="54.33" fill="#fff" stroke="#fff">0.986</text>
<text x="1169.77" y="54.33" fill="#fff" stroke="#fff">0.989</text>
<text x="1225.51" y="54.33" fill="#fff" stroke="#fff">0.977</text>
<text x="1281.25" y="54.33" fill="#262626" stroke="#262626">0.962</text>
<text x="1336.99" y="54.33" fill="#fff" stroke="#fff">0.988</text>
<text x="1392.73" y="54.33" fill="#fff" stroke="#fff">0.979</text>
<text x="1448.47" y="54.33" fill="#fff" stroke="#fff">0.974</text>
<text x="1504.21" y="54.33" fill="#fff" stroke="#fff">0.979</text>
<text x="1559.95" y="54.33" fill="#fff" stroke="#fff">0.990</text>
<text x="1615.69" y="54.33" fill="#fff" stroke="#fff">0.981</text>
<text x="1671.43" y="54.33" fill="#fff" stroke="#fff">0.969</text>
<text x="1727.17" y="54.33" fill="#fff" stroke="#fff">0.979</text>
<text x="612.37" y="81.45" fill="#fff" stroke="#fff">0.960</text>
<text x="668.11" y="81.45" fill="#fff" stroke="#fff">0.948</text>
<text x="723.85" y="81.45" fill="#fff" stroke="#fff">0.947</text>
<text x="779.59" y="81.45" fill="#fff" stroke="#fff">0.936</text>
<text x="835.33" y="81.45" fill="#fff" stroke="#fff">0.930</text>
<text x="891.07" y="81.45" fill="#fff" stroke="#fff">0.918</text>
<text x="946.81" y="81.45" fill="#fff" stroke="#fff">0.939</text>
<text x="1002.55" y="81.45" fill="#fff" stroke="#fff">0.949</text>
<text x="1058.29" y="81.45" fill="#fff" stroke="#fff">0.909</text>
<text x="1114.03" y="81.45" fill="#fff" stroke="#fff">0.937</text>
<text x="1169.77" y="81.45" fill="#fff" stroke="#fff">0.939</text>
<text x="1225.51" y="81.45" fill="#fff" stroke="#fff">0.876</text>
<text x="1281.25" y="81.45" fill="#fff" stroke="#fff">0.862</text>
<text x="1336.99" y="81.45" fill="#fff" stroke="#fff">0.917</text>
<text x="1392.73" y="81.45" fill="#fff" stroke="#fff">0.892</text>
<text x="1448.47" y="81.45" fill="#fff" stroke="#fff">0.895</text>
<text x="1504.21" y="81.45" fill="#fff" stroke="#fff">0.889</text>
<text x="1559.95" y="81.45" fill="#fff" stroke="#fff">0.890</text>
<text x="1615.69" y="81.45" fill="#fff" stroke="#fff">0.789</text>
<text x="1671.43" y="81.45" fill="#fff" stroke="#fff">0.904</text>
<text x="1727.17" y="81.45" fill="#262626" stroke="#262626">0.745</text>
<text x="612.37" y="108.57" fill="#fff" stroke="#fff">0.916</text>
<text x="668.11" y="108.57" fill="#fff" stroke="#fff">0.900</text>
<text x="723.85" y="108.57" fill="#fff" stroke="#fff">0.909</text>
<text x="779.59" y="108.57" fill="#fff" stroke="#fff">0.913</text>
<text x="835.33" y="108.57" fill="#fff" stroke="#fff">0.888</text>
<text x="891.07" y="108.57" fill="#fff" stroke="#fff">0.885</text>
<text x="946.81" y="108.57" fill="#fff" stroke="#fff">0.910</text>
<text x="1002.55" y="108.57" fill="#fff" stroke="#fff">0.891</text>
<text x="1058.29" y="108.57" fill="#fff" stroke="#fff">0.921</text>
<text x="1114.03" y="108.57" fill="#fff" stroke="#fff">0.885</text>
<text x="1169.77" y="108.57" fill="#fff" stroke="#fff">0.876</text>
<text x="1225.51" y="108.57" fill="#fff" stroke="#fff">0.867</text>
<text x="1281.25" y="108.57" fill="#fff" stroke="#fff">0.887</text>
<text x="1336.99" y="108.57" fill="#fff" stroke="#fff">0.868</text>
<text x="1392.73" y="108.57" fill="#fff" stroke="#fff">0.840</text>
<text x="1448.47" y="108.57" fill="#fff" stroke="#fff">0.877</text>
<text x="1504.21" y="108.57" fill="#262626" stroke="#262626">0.743</text>
<text x="1559.95" y="108.57" fill="#fff" stroke="#fff">0.842</text>
<text x="1615.69" y="108.57" fill="#fff" stroke="#fff">0.845</text>
<text x="1671.43" y="108.57" fill="#fff" stroke="#fff">0.820</text>
<text x="1727.17" y="108.57" fill="#fff" stroke="#fff">0.817</text>
<text x="612.37" y="135.69" fill="#fff" stroke="#fff">0.906</text>
<text x="668.11" y="135.69" fill="#fff" stroke="#fff">0.873</text>
<text x="723.85" y="135.69" fill="#fff" stroke="#fff">0.917</text>
<text x="779.59" y="135.69" fill="#fff" stroke="#fff">0.845</text>
<text x="835.33" y="135.69" fill="#fff" stroke="#fff">0.827</text>
<text x="891.07" y="135.69" fill="#fff" stroke="#fff">0.867</text>
<text x="946.81" y="135.69" fill="#fff" stroke="#fff">0.884</text>
<text x="1002.55" y="135.69" fill="#fff" stroke="#fff">0.912</text>
<text x="1058.29" y="135.69" fill="#fff" stroke="#fff">0.831</text>
<text x="1114.03" y="135.69" fill="#fff" stroke="#fff">0.868</text>
<text x="1169.77" y="135.69" fill="#fff" stroke="#fff">0.871</text>
<text x="1225.51" y="135.69" fill="#fff" stroke="#fff">0.860</text>
<text x="1281.25" y="135.69" fill="#fff" stroke="#fff">0.890</text>
<text x="1336.99" y="135.69" fill="#fff" stroke="#fff">0.857</text>
<text x="1392.73" y="135.69" fill="#fff" stroke="#fff">0.905</text>
<text x="1448.47" y="135.69" fill="#fff" stroke="#fff">0.901</text>
<text x="1504.21" y="135.69" fill="#fff" stroke="#fff">0.887</text>
<text x="1559.95" y="135.69" fill="#fff" stroke="#fff">0.856</text>
<text x="1615.69" y="135.69" fill="#fff" stroke="#fff">0.861</text>
<text x="1671.43" y="135.69" fill="#262626" stroke="#262626">0.781</text>
<text x="1727.17" y="135.69" fill="#fff" stroke="#fff">0.840</text>
<text x="612.37" y="162.81" fill="#fff" stroke="#fff">0.869</text>
<text x="668.11" y="162.81" fill="#fff" stroke="#fff">0.877</text>
<text x="723.85" y="162.81" fill="#fff" stroke="#fff">0.875</text>
<text x="779.59" y="162.81" fill="#fff" stroke="#fff">0.856</text>
<text x="835.33" y="162.81" fill="#fff" stroke="#fff">0.844</text>
<text x="891.07" y="162.81" fill="#fff" stroke="#fff">0.863</text>
<text x="946.81" y="162.81" fill="#fff" stroke="#fff">0.863</text>
<text x="1002.55" y="162.81" fill="#fff" stroke="#fff">0.883</text>
<text x="1058.29" y="162.81" fill="#fff" stroke="#fff">0.836</text>
<text x="1114.03" y="162.81" fill="#fff" stroke="#fff">0.855</text>
<text x="1169.77" y="162.81" fill="#fff" stroke="#fff">0.826</text>
<text x="1225.51" y="162.81" fill="#fff" stroke="#fff">0.860</text>
<text x="1281.25" y="162.81" fill="#fff" stroke="#fff">0.855</text>
<text x="1336.99" y="162.81" fill="#fff" stroke="#fff">0.859</text>
<text x="1392.73" y="162.81" fill="#fff" stroke="#fff">0.825</text>
<text x="1448.47" y="162.81" fill="#fff" stroke="#fff">0.827</text>
<text x="1504.21" y="162.81" fill="#fff" stroke="#fff">0.816</text>
<text x="1559.95" y="162.81" fill="#fff" stroke="#fff">0.889</text>
<text x="1615.69" y="162.81" fill="#262626" stroke="#262626">0.750</text>
<text x="1671.43" y="162.81" fill="#fff" stroke="#fff">0.809</text>
<text x="1727.17" y="162.81" fill="#262626" stroke="#262626">0.723</text>
<text x="612.37" y="189.93" fill="#fff" stroke="#fff">0.836</text>
<text x="668.11" y="189.93" fill="#fff" stroke="#fff">0.826</text>
<text x="723.85" y="189.93" fill="#fff" stroke="#fff">0.840</text>
<text x="779.59" y="189.93" fill="#fff" stroke="#fff">0.829</text>
<text x="835.33" y="189.93" fill="#fff" stroke="#fff">0.817</text>
<text x="891.07" y="189.93" fill="#fff" stroke="#fff">0.839</text>
<text x="946.81" y="189.93" fill="#fff" stroke="#fff">0.827</text>
<text x="1002.55" y="189.93" fill="#fff" stroke="#fff">0.823</text>
<text x="1058.29" y="189.93" fill="#fff" stroke="#fff">0.801</text>
<text x="1114.03" y="189.93" fill="#fff" stroke="#fff">0.821</text>
<text x="1169.77" y="189.93" fill="#fff" stroke="#fff">0.799</text>
<text x="1225.51" y="189.93" fill="#fff" stroke="#fff">0.825</text>
<text x="1281.25" y="189.93" fill="#fff" stroke="#fff">0.851</text>
<text x="1336.99" y="189.93" fill="#fff" stroke="#fff">0.807</text>
<text x="1392.73" y="189.93" fill="#fff" stroke="#fff">0.791</text>
<text x="1448.47" y="189.93" fill="#fff" stroke="#fff">0.783</text>
<text x="1504.21" y="189.93" fill="#fff" stroke="#fff">0.814</text>
<text x="1559.95" y="189.93" fill="#fff" stroke="#fff">0.786</text>
<text x="1615.69" y="189.93" fill="#fff" stroke="#fff">0.792</text>
<text x="1671.43" y="189.93" fill="#262626" stroke="#262626">0.763</text>
<text x="1727.17" y="189.93" fill="#fff" stroke="#fff">0.788</text>
<text x="612.37" y="217.05" fill="#fff" stroke="#fff">0.876</text>
<text x="668.11" y="217.05" fill="#fff" stroke="#fff">0.895</text>
<text x="723.85" y="217.05" fill="#fff" stroke="#fff">0.879</text>
<text x="779.59" y="217.05" fill="#fff" stroke="#fff">0.870</text>
<text x="835.33" y="217.05" fill="#fff" stroke="#fff">0.865</text>
<text x="891.07" y="217.05" fill="#fff" stroke="#fff">0.907</text>
<text x="946.81" y="217.05" fill="#fff" stroke="#fff">0.861</text>
<text x="1002.55" y="217.05" fill="#fff" stroke="#fff">0.872</text>
<text x="1058.29" y="217.05" fill="#fff" stroke="#fff">0.831</text>
<text x="1114.03" y="217.05" fill="#fff" stroke="#fff">0.866</text>
<text x="1169.77" y="217.05" fill="#fff" stroke="#fff">0.864</text>
<text x="1225.51" y="217.05" fill="#fff" stroke="#fff">0.850</text>
<text x="1281.25" y="217.05" fill="#fff" stroke="#fff">0.778</text>
<text x="1336.99" y="217.05" fill="#fff" stroke="#fff">0.794</text>
<text x="1392.73" y="217.05" fill="#262626" stroke="#262626">0.606</text>
<text x="1448.47" y="217.05" fill="#262626" stroke="#262626">0.647</text>
<text x="1504.21" y="217.05" fill="#fff" stroke="#fff">0.860</text>
<text x="1559.95" y="217.05" fill="#fff" stroke="#fff">0.864</text>
<text x="1615.69" y="217.05" fill="#262626" stroke="#262626">0.605</text>
<text x="1671.43" y="217.05" fill="#262626" stroke="#262626">0.660</text>
<text x="1727.17" y="217.05" fill="#262626" stroke="#262626">0.604</text>
<text x="612.37" y="244.17" fill="#262626" stroke="#262626">0.744</text>
<text x="668.11" y="244.17" fill="#fff" stroke="#fff">0.777</text>
<text x="723.85" y="244.17" fill="#fff" stroke="#fff">0.775</text>
<text x="779.59" y="244.17" fill="#fff" stroke="#fff">0.805</text>
<text x="835.33" y="244.17" fill="#fff" stroke="#fff">0.786</text>
<text x="891.07" y="244.17" fill="#fff" stroke="#fff">0.831</text>
<text x="946.81" y="244.17" fill="#fff" stroke="#fff">0.793</text>
<text x="1002.55" y="244.17" fill="#fff" stroke="#fff">0.750</text>
<text x="1058.29" y="244.17" fill="#fff" stroke="#fff">0.811</text>
<text x="1114.03" y="244.17" fill="#fff" stroke="#fff">0.801</text>
<text x="1169.77" y="244.17" fill="#fff" stroke="#fff">0.780</text>
<text x="1225.51" y="244.17" fill="#fff" stroke="#fff">0.772</text>
<text x="1281.25" y="244.17" fill="#fff" stroke="#fff">0.749</text>
<text x="1336.99" y="244.17" fill="#fff" stroke="#fff">0.796</text>
<text x="1392.73" y="244.17" fill="#fff" stroke="#fff">0.778</text>
<text x="1448.47" y="244.17" fill="#fff" stroke="#fff">0.808</text>
<text x="1504.21" y="244.17" fill="#262626" stroke="#262626">0.739</text>
<text x="1559.95" y="244.17" fill="#fff" stroke="#fff">0.751</text>
<text x="1615.69" y="244.17" fill="#262626" stroke="#262626">0.723</text>
<text x="1671.43" y="244.17" fill="#fff" stroke="#fff">0.790</text>
<text x="1727.17" y="244.17" fill="#fff" stroke="#fff">0.762</text>
<text x="612.37" y="271.29" fill="#fff" stroke="#fff">0.778</text>
<text x="668.11" y="271.29" fill="#fff" stroke="#fff">0.818</text>
<text x="723.85" y="271.29" fill="#fff" stroke="#fff">0.775</text>
<text x="779.59" y="271.29" fill="#fff" stroke="#fff">0.800</text>
<text x="835.33" y="271.29" fill="#fff" stroke="#fff">0.814</text>
<text x="891.07" y="271.29" fill="#fff" stroke="#fff">0.789</text>
<text x="946.81" y="271.29" fill="#fff" stroke="#fff">0.778</text>
<text x="1002.55" y="271.29" fill="#fff" stroke="#fff">0.783</text>
<text x="1058.29" y="271.29" fill="#fff" stroke="#fff">0.758</text>
<text x="1114.03" y="271.29" fill="#fff" stroke="#fff">0.748</text>
<text x="1169.77" y="271.29" fill="#fff" stroke="#fff">0.761</text>
<text x="1225.51" y="271.29" fill="#fff" stroke="#fff">0.739</text>
<text x="1281.25" y="271.29" fill="#fff" stroke="#fff">0.737</text>
<text x="1336.99" y="271.29" fill="#fff" stroke="#fff">0.740</text>
<text x="1392.73" y="271.29" fill="#fff" stroke="#fff">0.757</text>
<text x="1448.47" y="271.29" fill="#fff" stroke="#fff">0.744</text>
<text x="1504.21" y="271.29" fill="#fff" stroke="#fff">0.748</text>
<text x="1559.95" y="271.29" fill="#fff" stroke="#fff">0.733</text>
<text x="1615.69" y="271.29" fill="#fff" stroke="#fff">0.734</text>
<text x="1671.43" y="271.29" fill="#fff" stroke="#fff">0.730</text>
<text x="1727.17" y="271.29" fill="#262626" stroke="#262626">0.694</text>
<text x="612.37" y="298.41" fill="#fff" stroke="#fff">0.808</text>
<text x="668.11" y="298.41" fill="#fff" stroke="#fff">0.781</text>
<text x="723.85" y="298.41" fill="#fff" stroke="#fff">0.815</text>
<text x="779.59" y="298.41" fill="#fff" stroke="#fff">0.782</text>
<text x="835.33" y="298.41" fill="#fff" stroke="#fff">0.749</text>
<text x="891.07" y="298.41" fill="#fff" stroke="#fff">0.795</text>
<text x="946.81" y="298.41" fill="#fff" stroke="#fff">0.809</text>
<text x="1002.55" y="298.41" fill="#fff" stroke="#fff">0.802</text>
<text x="1058.29" y="298.41" fill="#fff" stroke="#fff">0.804</text>
<text x="1114.03" y="298.41" fill="#fff" stroke="#fff">0.741</text>
<text x="1169.77" y="298.41" fill="#fff" stroke="#fff">0.778</text>
<text x="1225.51" y="298.41" fill="#fff" stroke="#fff">0.705</text>
<text x="1281.25" y="298.41" fill="#fff" stroke="#fff">0.738</text>
<text x="1336.99" y="298.41" fill="#fff" stroke="#fff">0.740</text>
<text x="1392.73" y="298.41" fill="#fff" stroke="#fff">0.749</text>
<text x="1448.47" y="298.41" fill="#fff" stroke="#fff">0.746</text>
<text x="1504.21" y="298.41" fill="#fff" stroke="#fff">0.794</text>
<text x="1559.95" y="298.41" fill="#fff" stroke="#fff">0.745</text>
<text x="1615.69" y="298.41" fill="#fff" stroke="#fff">0.695</text>
<text x="1671.43" y="298.41" fill="#fff" stroke="#fff">0.726</text>
<text x="1727.17" y="298.41" fill="#262626" stroke="#262626">0.614</text>
<text x="612.37" y="325.53" fill="#fff" stroke="#fff">0.814</text>
<text x="668.11" y="325.53" fill="#fff" stroke="#fff">0.786</text>
<text x="723.85" y="325.53" fill="#fff" stroke="#fff">0.825</text>
<text x="779.59" y="325.53" fill="#fff" stroke="#fff">0.767</text>
<text x="835.33" y="325.53" fill="#fff" stroke="#fff">0.739</text>
<text x="891.07" y="325.53" fill="#fff" stroke="#fff">0.792</text>
<text x="946.81" y="325.53" fill="#fff" stroke="#fff">0.815</text>
<text x="1002.55" y="325.53" fill="#fff" stroke="#fff">0.825</text>
<text x="1058.29" y="325.53" fill="#fff" stroke="#fff">0.786</text>
<text x="1114.03" y="325.53" fill="#fff" stroke="#fff">0.717</text>
<text x="1169.77" y="325.53" fill="#fff" stroke="#fff">0.742</text>
<text x="1225.51" y="325.53" fill="#fff" stroke="#fff">0.691</text>
<text x="1281.25" y="325.53" fill="#fff" stroke="#fff">0.779</text>
<text x="1336.99" y="325.53" fill="#fff" stroke="#fff">0.711</text>
<text x="1392.73" y="325.53" fill="#fff" stroke="#fff">0.763</text>
<text x="1448.47" y="325.53" fill="#fff" stroke="#fff">0.771</text>
<text x="1504.21" y="325.53" fill="#fff" stroke="#fff">0.766</text>
<text x="1559.95" y="325.53" fill="#fff" stroke="#fff">0.717</text>
<text x="1615.69" y="325.53" fill="#262626" stroke="#262626">0.666</text>
<text x="1671.43" y="325.53" fill="#fff" stroke="#fff">0.713</text>
<text x="1727.17" y="325.53" fill="#262626" stroke="#262626">0.628</text>
<text x="612.37" y="352.65" fill="#fff" stroke="#fff">0.782</text>
<text x="668.11" y="352.65" fill="#fff" stroke="#fff">0.776</text>
<text x="723.85" y="352.65" fill="#fff" stroke="#fff">0.791</text>
<text x="779.59" y="352.65" fill="#fff" stroke="#fff">0.784</text>
<text x="835.33" y="352.65" fill="#fff" stroke="#fff">0.766</text>
<text x="891.07" y="352.65" fill="#fff" stroke="#fff">0.800</text>
<text x="946.81" y="352.65" fill="#fff" stroke="#fff">0.773</text>
<text x="1002.55" y="352.65" fill="#fff" stroke="#fff">0.753</text>
<text x="1058.29" y="352.65" fill="#fff" stroke="#fff">0.768</text>
<text x="1114.03" y="352.65" fill="#fff" stroke="#fff">0.747</text>
<text x="1169.77" y="352.65" fill="#fff" stroke="#fff">0.731</text>
<text x="1225.51" y="352.65" fill="#262626" stroke="#262626">0.694</text>
<text x="1281.25" y="352.65" fill="#fff" stroke="#fff">0.716</text>
<text x="1336.99" y="352.65" fill="#fff" stroke="#fff">0.713</text>
<text x="1392.73" y="352.65" fill="#fff" stroke="#fff">0.748</text>
<text x="1448.47" y="352.65" fill="#fff" stroke="#fff">0.789</text>
<text x="1504.21" y="352.65" fill="#fff" stroke="#fff">0.713</text>
<text x="1559.95" y="352.65" fill="#fff" stroke="#fff">0.751</text>
<text x="1615.69" y="352.65" fill="#262626" stroke="#262626">0.681</text>
<text x="1671.43" y="352.65" fill="#fff" stroke="#fff">0.735</text>
<text x="1727.17" y="352.65" fill="#262626" stroke="#262626">0.698</text>
<text x="612.37" y="379.77" fill="#fff" stroke="#fff">0.725</text>
<text x="668.11" y="379.77" fill="#fff" stroke="#fff">0.766</text>
<text x="723.85" y="379.77" fill="#fff" stroke="#fff">0.761</text>
<text x="779.59" y="379.77" fill="#fff" stroke="#fff">0.775</text>
<text x="835.33" y="379.77" fill="#fff" stroke="#fff">0.754</text>
<text x="891.07" y="379.77" fill="#fff" stroke="#fff">0.755</text>
<text x="946.81" y="379.77" fill="#fff" stroke="#fff">0.785</text>
<text x="1002.55" y="379.77" fill="#fff" stroke="#fff">0.766</text>
<text x="1058.29" y="379.77" fill="#fff" stroke="#fff">0.793</text>
<text x="1114.03" y="379.77" fill="#fff" stroke="#fff">0.796</text>
<text x="1169.77" y="379.77" fill="#fff" stroke="#fff">0.821</text>
<text x="1225.51" y="379.77" fill="#fff" stroke="#fff">0.796</text>
<text x="1281.25" y="379.77" fill="#fff" stroke="#fff">0.761</text>
<text x="1336.99" y="379.77" fill="#fff" stroke="#fff">0.734</text>
<text x="1392.73" y="379.77" fill="#fff" stroke="#fff">0.723</text>
<text x="1448.47" y="379.77" fill="#fff" stroke="#fff">0.729</text>
<text x="1504.21" y="379.77" fill="#fff" stroke="#fff">0.711</text>
<text x="1559.95" y="379.77" fill="#fff" stroke="#fff">0.687</text>
<text x="1615.69" y="379.77" fill="#262626" stroke="#262626">0.661</text>
<text x="1671.43" y="379.77" fill="#fff" stroke="#fff">0.754</text>
<text x="1727.17" y="379.77" fill="#262626" stroke="#262626">0.642</text>
<text x="612.37" y="406.89" fill="#fff" stroke="#fff">0.789</text>
<text x="668.11" y="406.89" fill="#fff" stroke="#fff">0.756</text>
<text x="723.85" y="406.89" fill="#fff" stroke="#fff">0.812</text>
<text x="779.59" y="406.89" fill="#fff" stroke="#fff">0.749</text>
<text x="835.33" y="406.89" fill="#fff" stroke="#fff">0.726</text>
<text x="891.07" y="406.89" fill="#fff" stroke="#fff">0.752</text>
<text x="946.81" y="406.89" fill="#fff" stroke="#fff">0.761</text>
<text x="1002.55" y="406.89" fill="#fff" stroke="#fff">0.755</text>
<text x="1058.29" y="406.89" fill="#fff" stroke="#fff">0.754</text>
<text x="1114.03" y="406.89" fill="#fff" stroke="#fff">0.684</text>
<text x="1169.77" y="406.89" fill="#fff" stroke="#fff">0.729</text>
<text x="1225.51" y="406.89" fill="#fff" stroke="#fff">0.782</text>
<text x="1281.25" y="406.89" fill="#fff" stroke="#fff">0.753</text>
<text x="1336.99" y="406.89" fill="#262626" stroke="#262626">0.676</text>
<text x="1392.73" y="406.89" fill="#fff" stroke="#fff">0.727</text>
<text x="1448.47" y="406.89" fill="#fff" stroke="#fff">0.704</text>
<text x="1504.21" y="406.89" fill="#fff" stroke="#fff">0.681</text>
<text x="1559.95" y="406.89" fill="#fff" stroke="#fff">0.680</text>
<text x="1615.69" y="406.89" fill="#fff" stroke="#fff">0.706</text>
<text x="1671.43" y="406.89" fill="#262626" stroke="#262626">0.655</text>
<text x="1727.17" y="406.89" fill="#262626" stroke="#262626">0.644</text>
<text x="612.37" y="434.01" fill="#fff" stroke="#fff">0.710</text>
<text x="668.11" y="434.01" fill="#fff" stroke="#fff">0.720</text>
<text x="723.85" y="434.01" fill="#fff" stroke="#fff">0.725</text>
<text x="779.59" y="434.01" fill="#fff" stroke="#fff">0.698</text>
<text x="835.33" y="434.01" fill="#fff" stroke="#fff">0.699</text>
<text x="891.07" y="434.01" fill="#fff" stroke="#fff">0.696</text>
<text x="946.81" y="434.01" fill="#fff" stroke="#fff">0.707</text>
<text x="1002.55" y="434.01" fill="#fff" stroke="#fff">0.716</text>
<text x="1058.29" y="434.01" fill="#fff" stroke="#fff">0.673</text>
<text x="1114.03" y="434.01" fill="#fff" stroke="#fff">0.685</text>
<text x="1169.77" y="434.01" fill="#fff" stroke="#fff">0.706</text>
<text x="1225.51" y="434.01" fill="#fff" stroke="#fff">0.698</text>
<text x="1281.25" y="434.01" fill="#fff" stroke="#fff">0.676</text>
<text x="1336.99" y="434.01" fill="#fff" stroke="#fff">0.670</text>
<text x="1392.73" y="434.01" fill="#fff" stroke="#fff">0.648</text>
<text x="1448.47" y="434.01" fill="#fff" stroke="#fff">0.661</text>
<text x="1504.21" y="434.01" fill="#262626" stroke="#262626">0.599</text>
<text x="1559.95" y="434.01" fill="#fff" stroke="#fff">0.686</text>
<text x="1615.69" y="434.01" fill="#fff" stroke="#fff">0.692</text>
<text x="1671.43" y="434.01" fill="#fff" stroke="#fff">0.639</text>
<text x="1727.17" y="434.01" fill="#262626" stroke="#262626">0.616</text>
<text x="612.37" y="461.13" fill="#fff" stroke="#fff">0.738</text>
<text x="668.11" y="461.13" fill="#fff" stroke="#fff">0.737</text>
<text x="723.85" y="461.13" fill="#fff" stroke="#fff">0.678</text>
<text x="779.59" y="461.13" fill="#fff" stroke="#fff">0.697</text>
<text x="835.33" y="461.13" fill="#fff" stroke="#fff">0.713</text>
<text x="891.07" y="461.13" fill="#fff" stroke="#fff">0.705</text>
<text x="946.81" y="461.13" fill="#fff" stroke="#fff">0.720</text>
<text x="1002.55" y="461.13" fill="#fff" stroke="#fff">0.711</text>
<text x="1058.29" y="461.13" fill="#fff" stroke="#fff">0.680</text>
<text x="1114.03" y="461.13" fill="#fff" stroke="#fff">0.639</text>
<text x="1169.77" y="461.13" fill="#fff" stroke="#fff">0.625</text>
<text x="1225.51" y="461.13" fill="#fff" stroke="#fff">0.656</text>
<text x="1281.25" y="461.13" fill="#fff" stroke="#fff">0.665</text>
<text x="1336.99" y="461.13" fill="#fff" stroke="#fff">0.681</text>
<text x="1392.73" y="461.13" fill="#fff" stroke="#fff">0.637</text>
<text x="1448.47" y="461.13" fill="#262626" stroke="#262626">0.608</text>
<text x="1504.21" y="461.13" fill="#fff" stroke="#fff">0.644</text>
<text x="1559.95" y="461.13" fill="#262626" stroke="#262626">0.578</text>
<text x="1615.69" y="461.13" fill="#fff" stroke="#fff">0.720</text>
<text x="1671.43" y="461.13" fill="#fff" stroke="#fff">0.619</text>
<text x="1727.17" y="461.13" fill="#fff" stroke="#fff">0.676</text>
<text x="612.37" y="488.25" fill="#fff" stroke="#fff">0.712</text>
<text x="668.11" y="488.25" fill="#fff" stroke="#fff">0.701</text>
<text x="723.85" y="488.25" fill="#fff" stroke="#fff">0.710</text>
<text x="779.59" y="488.25" fill="#fff" stroke="#fff">0.704</text>
<text x="835.33" y="488.25" fill="#fff" stroke="#fff">0.691</text>
<text x="891.07" y="488.25" fill="#fff" stroke="#fff">0.712</text>
<text x="946.81" y="488.25" fill="#fff" stroke="#fff">0.709</text>
<text x="1002.55" y="488.25" fill="#fff" stroke="#fff">0.702</text>
<text x="1058.29" y="488.25" fill="#fff" stroke="#fff">0.704</text>
<text x="1114.03" y="488.25" fill="#fff" stroke="#fff">0.650</text>
<text x="1169.77" y="488.25" fill="#fff" stroke="#fff">0.674</text>
<text x="1225.51" y="488.25" fill="#fff" stroke="#fff">0.665</text>
<text x="1281.25" y="488.25" fill="#fff" stroke="#fff">0.686</text>
<text x="1336.99" y="488.25" fill="#fff" stroke="#fff">0.638</text>
<text x="1392.73" y="488.25" fill="#fff" stroke="#fff">0.666</text>
<text x="1448.47" y="488.25" fill="#fff" stroke="#fff">0.633</text>
<text x="1504.21" y="488.25" fill="#fff" stroke="#fff">0.669</text>
<text x="1559.95" y="488.25" fill="#fff" stroke="#fff">0.698</text>
<text x="1615.69" y="488.25" fill="#fff" stroke="#fff">0.613</text>
<text x="1671.43" y="488.25" fill="#fff" stroke="#fff">0.614</text>
<text x="1727.17" y="488.25" fill="#262626" stroke="#262626">0.570</text>
<text x="612.37" y="515.37" fill="#fff" stroke="#fff">0.679</text>
<text x="668.11" y="515.37" fill="#fff" stroke="#fff">0.691</text>
<text x="723.85" y="515.37" fill="#fff" stroke="#fff">0.701</text>
<text x="779.59" y="515.37" fill="#fff" stroke="#fff">0.694</text>
<text x="835.33" y="515.37" fill="#fff" stroke="#fff">0.717</text>
<text x="891.07" y="515.37" fill="#fff" stroke="#fff">0.695</text>
<text x="946.81" y="515.37" fill="#fff" stroke="#fff">0.654</text>
<text x="1002.55" y="515.37" fill="#fff" stroke="#fff">0.625</text>
<text x="1058.29" y="515.37" fill="#fff" stroke="#fff">0.663</text>
<text x="1114.03" y="515.37" fill="#fff" stroke="#fff">0.692</text>
<text x="1169.77" y="515.37" fill="#262626" stroke="#262626">0.586</text>
<text x="1225.51" y="515.37" fill="#fff" stroke="#fff">0.664</text>
<text x="1281.25" y="515.37" fill="#fff" stroke="#fff">0.671</text>
<text x="1336.99" y="515.37" fill="#fff" stroke="#fff">0.687</text>
<text x="1392.73" y="515.37" fill="#fff" stroke="#fff">0.639</text>
<text x="1448.47" y="515.37" fill="#262626" stroke="#262626">0.581</text>
<text x="1504.21" y="515.37" fill="#fff" stroke="#fff">0.628</text>
<text x="1559.95" y="515.37" fill="#fff" stroke="#fff">0.620</text>
<text x="1615.69" y="515.37" fill="#fff" stroke="#fff">0.740</text>
<text x="1671.43" y="515.37" fill="#fff" stroke="#fff">0.640</text>
<text x="1727.17" y="515.37" fill="#fff" stroke="#fff">0.699</text>
<text x="612.37" y="542.49" fill="#fff" stroke="#fff">0.658</text>
<text x="668.11" y="542.49" fill="#fff" stroke="#fff">0.658</text>
<text x="723.85" y="542.49" fill="#fff" stroke="#fff">0.654</text>
<text x="779.59" y="542.49" fill="#fff" stroke="#fff">0.691</text>
<text x="835.33" y="542.49" fill="#fff" stroke="#fff">0.661</text>
<text x="891.07" y="542.49" fill="#fff" stroke="#fff">0.689</text>
<text x="946.81" y="542.49" fill="#fff" stroke="#fff">0.664</text>
<text x="1002.55" y="542.49" fill="#fff" stroke="#fff">0.636</text>
<text x="1058.29" y="542.49" fill="#fff" stroke="#fff">0.688</text>
<text x="1114.03" y="542.49" fill="#fff" stroke="#fff">0.641</text>
<text x="1169.77" y="542.49" fill="#262626" stroke="#262626">0.591</text>
<text x="1225.51" y="542.49" fill="#fff" stroke="#fff">0.647</text>
<text x="1281.25" y="542.49" fill="#fff" stroke="#fff">0.625</text>
<text x="1336.99" y="542.49" fill="#fff" stroke="#fff">0.653</text>
<text x="1392.73" y="542.49" fill="#fff" stroke="#fff">0.616</text>
<text x="1448.47" y="542.49" fill="#fff" stroke="#fff">0.657</text>
<text x="1504.21" y="542.49" fill="#fff" stroke="#fff">0.657</text>
<text x="1559.95" y="542.49" fill="#fff" stroke="#fff">0.625</text>
<text x="1615.69" y="542.49" fill="#fff" stroke="#fff">0.648</text>
<text x="1671.43" y="542.49" fill="#fff" stroke="#fff">0.643</text>
<text x="1727.17" y="542.49" fill="#fff" stroke="#fff">0.627</text>
<text x="612.37" y="569.61" fill="#fff" stroke="#fff">0.695</text>
<text x="668.11" y="569.61" fill="#fff" stroke="#fff">0.709</text>
<text x="723.85" y="569.61" fill="#fff" stroke="#fff">0.683</text>
<text x="779.59" y="569.61" fill="#fff" stroke="#fff">0.687</text>
<text x="835.33" y="569.61" fill="#fff" stroke="#fff">0.708</text>
<text x="891.07" y="569.61" fill="#fff" stroke="#fff">0.656</text>
<text x="946.81" y="569.61" fill="#fff" stroke="#fff">0.642</text>
<text x="1002.55" y="569.61" fill="#fff" stroke="#fff">0.707</text>
<text x="1058.29" y="569.61" fill="#fff" stroke="#fff">0.558</text>
<text x="1114.03" y="569.61" fill="#fff" stroke="#fff">0.609</text>
<text x="1169.77" y="569.61" fill="#fff" stroke="#fff">0.576</text>
<text x="1225.51" y="569.61" fill="#fff" stroke="#fff">0.631</text>
<text x="1281.25" y="569.61" fill="#fff" stroke="#fff">0.639</text>
<text x="1336.99" y="569.61" fill="#fff" stroke="#fff">0.617</text>
<text x="1392.73" y="569.61" fill="#fff" stroke="#fff">0.677</text>
<text x="1448.47" y="569.61" fill="#fff" stroke="#fff">0.613</text>
<text x="1504.21" y="569.61" fill="#fff" stroke="#fff">0.675</text>
<text x="1559.95" y="569.61" fill="#fff" stroke="#fff">0.555</text>
<text x="1615.69" y="569.61" fill="#fff" stroke="#fff">0.716</text>
<text x="1671.43" y="569.61" fill="#262626" stroke="#262626">0.507</text>
<text x="1727.17" y="569.61" fill="#fff" stroke="#fff">0.677</text>
<text x="612.37" y="596.73" fill="#fff" stroke="#fff">0.657</text>
<text x="668.11" y="596.73" fill="#fff" stroke="#fff">0.673</text>
<text x="723.85" y="596.73" fill="#fff" stroke="#fff">0.656</text>
<text x="779.59" y="596.73" fill="#fff" stroke="#fff">0.667</text>
<text x="835.33" y="596.73" fill="#fff" stroke="#fff">0.677</text>
<text x="891.07" y="596.73" fill="#fff" stroke="#fff">0.653</text>
<text x="946.81" y="596.73" fill="#fff" stroke="#fff">0.651</text>
<text x="1002.55" y="596.73" fill="#fff" stroke="#fff">0.657</text>
<text x="1058.29" y="596.73" fill="#fff" stroke="#fff">0.636</text>
<text x="1114.03" y="596.73" fill="#fff" stroke="#fff">0.628</text>
<text x="1169.77" y="596.73" fill="#fff" stroke="#fff">0.627</text>
<text x="1225.51" y="596.73" fill="#fff" stroke="#fff">0.635</text>
<text x="1281.25" y="596.73" fill="#fff" stroke="#fff">0.627</text>
<text x="1336.99" y="596.73" fill="#fff" stroke="#fff">0.632</text>
<text x="1392.73" y="596.73" fill="#fff" stroke="#fff">0.627</text>
<text x="1448.47" y="596.73" fill="#fff" stroke="#fff">0.658</text>
<text x="1504.21" y="596.73" fill="#262626" stroke="#262626">0.575</text>
<text x="1559.95" y="596.73" fill="#fff" stroke="#fff">0.614</text>
<text x="1615.69" y="596.73" fill="#fff" stroke="#fff">0.636</text>
<text x="1671.43" y="596.73" fill="#fff" stroke="#fff">0.624</text>
<text x="1727.17" y="596.73" fill="#fff" stroke="#fff">0.600</text>
<text x="612.37" y="623.85" fill="#fff" stroke="#fff">0.640</text>
<text x="668.11" y="623.85" fill="#fff" stroke="#fff">0.657</text>
<text x="723.85" y="623.85" fill="#fff" stroke="#fff">0.648</text>
<text x="779.59" y="623.85" fill="#fff" stroke="#fff">0.661</text>
<text x="835.33" y="623.85" fill="#fff" stroke="#fff">0.636</text>
<text x="891.07" y="623.85" fill="#fff" stroke="#fff">0.656</text>
<text x="946.81" y="623.85" fill="#fff" stroke="#fff">0.681</text>
<text x="1002.55" y="623.85" fill="#fff" stroke="#fff">0.658</text>
<text x="1058.29" y="623.85" fill="#fff" stroke="#fff">0.661</text>
<text x="1114.03" y="623.85" fill="#fff" stroke="#fff">0.645</text>
<text x="1169.77" y="623.85" fill="#fff" stroke="#fff">0.638</text>
<text x="1225.51" y="623.85" fill="#fff" stroke="#fff">0.633</text>
<text x="1281.25" y="623.85" fill="#fff" stroke="#fff">0.615</text>
<text x="1336.99" y="623.85" fill="#fff" stroke="#fff">0.595</text>
<text x="1392.73" y="623.85" fill="#262626" stroke="#262626">0.555</text>
<text x="1448.47" y="623.85" fill="#fff" stroke="#fff">0.601</text>
<text x="1504.21" y="623.85" fill="#fff" stroke="#fff">0.662</text>
<text x="1559.95" y="623.85" fill="#fff" stroke="#fff">0.604</text>
<text x="1615.69" y="623.85" fill="#fff" stroke="#fff">0.598</text>
<text x="1671.43" y="623.85" fill="#fff" stroke="#fff">0.626</text>
<text x="1727.17" y="623.85" fill="#262626" stroke="#262626">0.574</text>
<text x="612.37" y="650.97" fill="#fff" stroke="#fff">0.643</text>
<text x="668.11" y="650.97" fill="#fff" stroke="#fff">0.661</text>
<text x="723.85" y="650.97" fill="#fff" stroke="#fff">0.638</text>
<text x="779.59" y="650.97" fill="#fff" stroke="#fff">0.664</text>
<text x="835.33" y="650.97" fill="#fff" stroke="#fff">0.652</text>
<text x="891.07" y="650.97" fill="#fff" stroke="#fff">0.644</text>
<text x="946.81" y="650.97" fill="#fff" stroke="#fff">0.662</text>
<text x="1002.55" y="650.97" fill="#fff" stroke="#fff">0.639</text>
<text x="1058.29" y="650.97" fill="#fff" stroke="#fff">0.642</text>
<text x="1114.03" y="650.97" fill="#262626" stroke="#262626">0.557</text>
<text x="1169.77" y="650.97" fill="#fff" stroke="#fff">0.604</text>
<text x="1225.51" y="650.97" fill="#fff" stroke="#fff">0.603</text>
<text x="1281.25" y="650.97" fill="#fff" stroke="#fff">0.614</text>
<text x="1336.99" y="650.97" fill="#fff" stroke="#fff">0.593</text>
<text x="1392.73" y="650.97" fill="#fff" stroke="#fff">0.623</text>
<text x="1448.47" y="650.97" fill="#fff" stroke="#fff">0.604</text>
<text x="1504.21" y="650.97" fill="#262626" stroke="#262626">0.535</text>
<text x="1559.95" y="650.97" fill="#fff" stroke="#fff">0.568</text>
<text x="1615.69" y="650.97" fill="#fff" stroke="#fff">0.655</text>
<text x="1671.43" y="650.97" fill="#fff" stroke="#fff">0.567</text>
<text x="1727.17" y="650.97" fill="#262626" stroke="#262626">0.559</text>
<text x="612.37" y="678.09" fill="#fff" stroke="#fff">0.665</text>
<text x="668.11" y="678.09" fill="#fff" stroke="#fff">0.693</text>
<text x="723.85" y="678.09" fill="#fff" stroke="#fff">0.583</text>
<text x="779.59" y="678.09" fill="#fff" stroke="#fff">0.621</text>
<text x="835.33" y="678.09" fill="#fff" stroke="#fff">0.756</text>
<text x="891.07" y="678.09" fill="#fff" stroke="#fff">0.578</text>
<text x="946.81" y="678.09" fill="#fff" stroke="#fff">0.561</text>
<text x="1002.55" y="678.09" fill="#fff" stroke="#fff">0.619</text>
<text x="1058.29" y="678.09" fill="#262626" stroke="#262626">0.508</text>
<text x="1114.03" y="678.09" fill="#fff" stroke="#fff">0.576</text>
<text x="1169.77" y="678.09" fill="#fff" stroke="#fff">0.589</text>
<text x="1225.51" y="678.09" fill="#fff" stroke="#fff">0.643</text>
<text x="1281.25" y="678.09" fill="#fff" stroke="#fff">0.585</text>
<text x="1336.99" y="678.09" fill="#fff" stroke="#fff">0.592</text>
<text x="1392.73" y="678.09" fill="#fff" stroke="#fff">0.601</text>
<text x="1448.47" y="678.09" fill="#fff" stroke="#fff">0.563</text>
<text x="1504.21" y="678.09" fill="#fff" stroke="#fff">0.613</text>
<text x="1559.95" y="678.09" fill="#fff" stroke="#fff">0.646</text>
<text x="1615.69" y="678.09" fill="#fff" stroke="#fff">0.648</text>
<text x="1671.43" y="678.09" fill="#fff" stroke="#fff">0.607</text>
<text x="1727.17" y="678.09" fill="#fff" stroke="#fff">0.599</text>
<text x="612.37" y="705.21" fill="#fff" stroke="#fff">0.652</text>
<text x="668.11" y="705.21" fill="#fff" stroke="#fff">0.611</text>
<text x="723.85" y="705.21" fill="#fff" stroke="#fff">0.583</text>
<text x="779.59" y="705.21" fill="#fff" stroke="#fff">0.633</text>
<text x="835.33" y="705.21" fill="#fff" stroke="#fff">0.637</text>
<text x="891.07" y="705.21" fill="#fff" stroke="#fff">0.614</text>
<text x="946.81" y="705.21" fill="#fff" stroke="#fff">0.567</text>
<text x="1002.55" y="705.21" fill="#262626" stroke="#262626">0.533</text>
<text x="1058.29" y="705.21" fill="#fff" stroke="#fff">0.601</text>
<text x="1114.03" y="705.21" fill="#fff" stroke="#fff">0.655</text>
<text x="1169.77" y="705.21" fill="#fff" stroke="#fff">0.558</text>
<text x="1225.51" y="705.21" fill="#fff" stroke="#fff">0.542</text>
<text x="1281.25" y="705.21" fill="#fff" stroke="#fff">0.542</text>
<text x="1336.99" y="705.21" fill="#fff" stroke="#fff">0.598</text>
<text x="1392.73" y="705.21" fill="#fff" stroke="#fff">0.721</text>
<text x="1448.47" y="705.21" fill="#fff" stroke="#fff">0.630</text>
<text x="1504.21" y="705.21" fill="#fff" stroke="#fff">0.574</text>
<text x="1559.95" y="705.21" fill="#262626" stroke="#262626">0.498</text>
<text x="1615.69" y="705.21" fill="#262626" stroke="#262626">0.525</text>
<text x="1671.43" y="705.21" fill="#fff" stroke="#fff">0.595</text>
<text x="1727.17" y="705.21" fill="#fff" stroke="#fff">0.560</text>
<text x="612.37" y="732.33" fill="#fff" stroke="#fff">0.598</text>
<text x="668.11" y="732.33" fill="#fff" stroke="#fff">0.593</text>
<text x="723.85" y="732.33" fill="#fff" stroke="#fff">0.610</text>
<text x="779.59" y="732.33" fill="#fff" stroke="#fff">0.618</text>
<text x="835.33" y="732.33" fill="#fff" stroke="#fff">0.612</text>
<text x="891.07" y="732.33" fill="#fff" stroke="#fff">0.568</text>
<text x="946.81" y="732.33" fill="#fff" stroke="#fff">0.582</text>
<text x="1002.55" y="732.33" fill="#fff" stroke="#fff">0.574</text>
<text x="1058.29" y="732.33" fill="#fff" stroke="#fff">0.598</text>
<text x="1114.03" y="732.33" fill="#fff" stroke="#fff">0.644</text>
<text x="1169.77" y="732.33" fill="#fff" stroke="#fff">0.645</text>
<text x="1225.51" y="732.33" fill="#fff" stroke="#fff">0.622</text>
<text x="1281.25" y="732.33" fill="#262626" stroke="#262626">0.550</text>
<text x="1336.99" y="732.33" fill="#fff" stroke="#fff">0.587</text>
<text x="1392.73" y="732.33" fill="#fff" stroke="#fff">0.598</text>
<text x="1448.47" y="732.33" fill="#fff" stroke="#fff">0.588</text>
<text x="1504.21" y="732.33" fill="#262626" stroke="#262626">0.546</text>
<text x="1559.95" y="732.33" fill="#fff" stroke="#fff">0.572</text>
<text x="1615.69" y="732.33" fill="#262626" stroke="#262626">0.560</text>
<text x="1671.43" y="732.33" fill="#fff" stroke="#fff">0.578</text>
<text x="1727.17" y="732.33" fill="#262626" stroke="#262626">0.549</text>
<text x="612.37" y="759.45" fill="#262626" stroke="#262626">0.559</text>
<text x="668.11" y="759.45" fill="#fff" stroke="#fff">0.574</text>
<text x="723.85" y="759.45" fill="#fff" stroke="#fff">0.575</text>
<text x="779.59" y="759.45" fill="#fff" stroke="#fff">0.583</text>
<text x="835.33" y="759.45" fill="#fff" stroke="#fff">0.590</text>
<text x="891.07" y="759.45" fill="#fff" stroke="#fff">0.566</text>
<text x="946.81" y="759.45" fill="#262626" stroke="#262626">0.559</text>
<text x="1002.55" y="759.45" fill="#262626" stroke="#262626">0.559</text>
<text x="1058.29" y="759.45" fill="#fff" stroke="#fff">0.561</text>
<text x="1114.03" y="759.45" fill="#fff" stroke="#fff">0.566</text>
<text x="1169.77" y="759.45" fill="#262626" stroke="#262626">0.551</text>
<text x="1225.51" y="759.45" fill="#fff" stroke="#fff">0.581</text>
<text x="1281.25" y="759.45" fill="#fff" stroke="#fff">0.572</text>
<text x="1336.99" y="759.45" fill="#fff" stroke="#fff">0.571</text>
<text x="1392.73" y="759.45" fill="#fff" stroke="#fff">0.568</text>
<text x="1448.47" y="759.45" fill="#fff" stroke="#fff">0.574</text>
<text x="1504.21" y="759.45" fill="#262626" stroke="#262626">0.560</text>
<text x="1559.95" y="759.45" fill="#fff" stroke="#fff">0.582</text>
<text x="1615.69" y="759.45" fill="#fff" stroke="#fff">0.593</text>
<text x="1671.43" y="759.45" fill="#fff" stroke="#fff">0.579</text>
<text x="1727.17" y="759.45" fill="#fff" stroke="#fff">0.599</text>
<text x="612.37" y="786.57" fill="#fff" stroke="#fff">0.577</text>
<text x="668.11" y="786.57" fill="#fff" stroke="#fff">0.571</text>
<text x="723.85" y="786.57" fill="#fff" stroke="#fff">0.555</text>
<text x="779.59" y="786.57" fill="#fff" stroke="#fff">0.548</text>
<text x="835.33" y="786.57" fill="#fff" stroke="#fff">0.548</text>
<text x="891.07" y="786.57" fill="#fff" stroke="#fff">0.568</text>
<text x="946.81" y="786.57" fill="#fff" stroke="#fff">0.561</text>
<text x="1002.55" y="786.57" fill="#fff" stroke="#fff">0.576</text>
<text x="1058.29" y="786.57" fill="#fff" stroke="#fff">0.542</text>
<text x="1114.03" y="786.57" fill="#fff" stroke="#fff">0.548</text>
<text x="1169.77" y="786.57" fill="#fff" stroke="#fff">0.560</text>
<text x="1225.51" y="786.57" fill="#fff" stroke="#fff">0.536</text>
<text x="1281.25" y="786.57" fill="#fff" stroke="#fff">0.555</text>
<text x="1336.99" y="786.57" fill="#fff" stroke="#fff">0.542</text>
<text x="1392.73" y="786.57" fill="#fff" stroke="#fff">0.541</text>
<text x="1448.47" y="786.57" fill="#262626" stroke="#262626">0.531</text>
<text x="1504.21" y="786.57" fill="#262626" stroke="#262626">0.522</text>
<text x="1559.95" y="786.57" fill="#fff" stroke="#fff">0.538</text>
<text x="1615.69" y="786.57" fill="#262626" stroke="#262626">0.527</text>
<text x="1671.43" y="786.57" fill="#fff" stroke="#fff">0.552</text>
<text x="1727.17" y="786.57" fill="#262626" stroke="#262626">0.524</text>
<text x="612.37" y="813.69" fill="#fff" stroke="#fff">0.604</text>
<text x="668.11" y="813.69" fill="#fff" stroke="#fff">0.555</text>
<text x="723.85" y="813.69" fill="#fff" stroke="#fff">0.526</text>
<text x="779.59" y="813.69" fill="#fff" stroke="#fff">0.545</text>
<text x="835.33" y="813.69" fill="#fff" stroke="#fff">0.548</text>
<text x="891.07" y="813.69" fill="#fff" stroke="#fff">0.509</text>
<text x="946.81" y="813.69" fill="#fff" stroke="#fff">0.545</text>
<text x="1002.55" y="813.69" fill="#fff" stroke="#fff">0.553</text>
<text x="1058.29" y="813.69" fill="#fff" stroke="#fff">0.540</text>
<text x="1114.03" y="813.69" fill="#fff" stroke="#fff">0.493</text>
<text x="1169.77" y="813.69" fill="#fff" stroke="#fff">0.550</text>
<text x="1225.51" y="813.69" fill="#fff" stroke="#fff">0.508</text>
<text x="1281.25" y="813.69" fill="#fff" stroke="#fff">0.531</text>
<text x="1336.99" y="813.69" fill="#fff" stroke="#fff">0.513</text>
<text x="1392.73" y="813.69" fill="#fff" stroke="#fff">0.539</text>
<text x="1448.47" y="813.69" fill="#262626" stroke="#262626">0.484</text>
<text x="1504.21" y="813.69" fill="#fff" stroke="#fff">0.540</text>
<text x="1559.95" y="813.69" fill="#fff" stroke="#fff">0.520</text>
<text x="1615.69" y="813.69" fill="#262626" stroke="#262626">0.489</text>
<text x="1671.43" y="813.69" fill="#fff" stroke="#fff">0.612</text>
<text x="1727.17" y="813.69" fill="#262626" stroke="#262626">0.460</text>
<text x="612.37" y="840.81" fill="#fff" stroke="#fff">0.744</text>
<text x="668.11" y="840.81" fill="#fff" stroke="#fff">0.744</text>
<text x="723.85" y="840.81" fill="#fff" stroke="#fff">0.739</text>
<text x="779.59" y="840.81" fill="#fff" stroke="#fff">0.739</text>
<text x="835.33" y="840.81" fill="#fff" stroke="#fff">0.736</text>
<text x="891.07" y="840.81" fill="#fff" stroke="#fff">0.734</text>
<text x="946.81" y="840.81" fill="#fff" stroke="#fff">0.733</text>
<text x="1002.55" y="840.81" fill="#fff" stroke="#fff">0.732</text>
<text x="1058.29" y="840.81" fill="#fff" stroke="#fff">0.719</text>
<text x="1114.03" y="840.81" fill="#fff" stroke="#fff">0.713</text>
<text x="1169.77" y="840.81" fill="#fff" stroke="#fff">0.710</text>
<text x="1225.51" y="840.81" fill="#fff" stroke="#fff">0.709</text>
<text x="1281.25" y="840.81" fill="#fff" stroke="#fff">0.706</text>
<text x="1336.99" y="840.81" fill="#fff" stroke="#fff">0.702</text>
<text x="1392.73" y="840.81" fill="#fff" stroke="#fff">0.701</text>
<text x="1448.47" y="840.81" fill="#fff" stroke="#fff">0.696</text>
<text x="1504.21" y="840.81" fill="#fff" stroke="#fff">0.694</text>
<text x="1559.95" y="840.81" fill="#fff" stroke="#fff">0.693</text>
<text x="1615.69" y="840.81" fill="#fff" stroke="#fff">0.684</text>
<text x="1671.43" y="840.81" fill="#fff" stroke="#fff">0.683</text>
<text x="1727.17" y="840.81" fill="#262626" stroke="#262626">0.657</text>
</g>
<g font-size="13.5" text-anchor="end" fill="#000" stroke="#000">
<text x="574.90" y="54.19">NSCLC Subtyping</text>
<text x="574.90" y="81.31">CRC CPTAC MSI</text>
<text x="574.90" y="108.43">STAD Kiel EBV</text>
<text x="574.90" y="135.55">BRCA CPTAC ESR1</text>
<text x="574.90" y="162.67">CRC DACHS MSI</text>
<text x="574.90" y="189.79">BRCA CPTAC PGR</text>
<text x="574.90" y="216.91">LUAD CPTAC STK11</text>
<text x="574.90" y="244.03">LUAD CPTAC EGFR</text>
<text x="574.90" y="271.15">LUAD CPTAC TP53</text>
<text x="574.90" y="298.27">STAD Bern MSI</text>
<text x="574.90" y="325.39">STAD Kiel MSI</text>
<text x="574.90" y="352.51">CRC DACHS BRAF</text>
<text x="574.90" y="379.63">CRC CPTAC BRAF</text>
<text x="574.90" y="406.75">DACHS CRC Sidedness</text>
<text x="574.90" y="433.87">CRC DACHS M STATUS</text>
<text x="574.90" y="460.99">CRC CPTAC KRAS</text>
<text x="574.90" y="488.11">CRC DACHS CIMP</text>
<text x="574.90" y="515.23">BRCA CPTAC PIK3CA</text>
<text x="574.90" y="542.35">STAD Kiel N STATUS</text>
<text x="574.90" y="569.47">BRCA CPTAC ERBB2</text>
<text x="574.90" y="596.59">CRC DACHS N STATUS</text>
<text x="574.90" y="623.71">CRC CPTAC PIK3CA</text>
<text x="574.90" y="650.83">CRC CPTAC N STATUS</text>
<text x="574.90" y="677.95">STAD Bern N STATUS</text>
<text x="574.90" y="705.07">LUAD CPTAC KRAS</text>
<text x="574.90" y="732.19">CPTAC CRC Sidedness</text>
<text x="574.90" y="759.31">BRCA IEO N STATUS</text>
<text x="574.90" y="786.43">CRC DACHS KRAS</text>
<text x="574.90" y="813.55">STAD Kiel M STATUS</text>
<text x="574.90" y="840.67">Average</text>
</g>
<path d="M579.70 50.26h4.80M579.70 77.38h4.80M579.70 104.50h4.80M579.70 131.62h4.80M579.70 158.74h4.80M579.70 185.86h4.80M579.70 212.98h4.80M579.70 240.10h4.80M579.70 267.22h4.80M579.70 294.34h4.80M579.70 321.46h4.80M579.70 348.58h4.80M579.70 375.70h4.80M579.70 402.82h4.80M579.70 429.94h4.80M579.70 457.06h4.80M579.70 484.18h4.80M579.70 511.30h4.80M579.70 538.42h4.80M579.70 565.54h4.80M579.70 592.66h4.80M579.70 619.78h4.80M579.70 646.90h4.80M579.70 674.02h4.80M579.70 701.14h4.80M579.70 728.26h4.80M579.70 755.38h4.80M579.70 782.50h4.80M579.70 809.62h4.80M579.70 836.74h4.80" stroke="#111" stroke-width="1.3" fill="none"/>
<path d="M612.67 850.30v4.80M668.41 850.30v4.80M724.15 850.30v4.80M779.89 850.30v4.80M835.63 850.30v4.80M891.37 850.30v4.80M947.11 850.30v4.80M1002.85 850.30v4.80M1058.59 850.30v4.80M1114.33 850.30v4.80M1170.07 850.30v4.80M1225.81 850.30v4.80M1281.55 850.30v4.80M1337.29 850.30v4.80M1393.03 850.30v4.80M1448.77 850.30v4.80M1504.51 850.30v4.80M1560.25 850.30v4.80M1615.99 850.30v4.80M1671.73 850.30v4.80M1727.47 850.30v4.80" stroke="#111" stroke-width="1.3" fill="none"/>
<g font-size="13.5" text-anchor="end" fill="#000" stroke="#000">
<text transform="translate(610.38 865.95) rotate(-45)">Concat-CONCH-V2</text>
<text transform="translate(666.12 865.95) rotate(-45)">Avg-CONCH-V2</text>
<text transform="translate(721.86 865.95) rotate(-45)">Concat-V2-GP</text>
<text transform="translate(777.60 865.95) rotate(-45)">Avg-CONCH-GP</text>
<text transform="translate(833.34 865.95) rotate(-45)">CONCH</text>
<text transform="translate(889.08 865.95) rotate(-45)">Concat-CONCH-GP</text>
<text transform="translate(944.82 865.95) rotate(-45)">Avg-V2-GP</text>
<text transform="translate(1000.56 865.95) rotate(-45)">Virchow2</text>
<text transform="translate(1056.30 865.95) rotate(-45)">ProvGigaPath</text>
<text transform="translate(1112.04 865.95) rotate(-45)">UNI</text>
<text transform="translate(1167.78 865.95) rotate(-45)">H-optimus-0</text>
<text transform="translate(1223.52 865.95) rotate(-45)">DinoSSLPath</text>
<text transform="translate(1279.26 865.95) rotate(-45)">Panakeia*</text>
<text transform="translate(1335.00 865.95) rotate(-45)">CTransPath</text>
<text transform="translate(1390.74 865.95) rotate(-45)">Hibou-L</text>
<text transform="translate(1446.48 865.95) rotate(-45)">Hibou-B</text>
<text transform="translate(1502.22 865.95) rotate(-45)">Kaiko</text>
<text transform="translate(1557.96 865.95) rotate(-45)">Virchow</text>
<text transform="translate(1613.70 865.95) rotate(-45)">BiomedCLIP</text>
<text transform="translate(1669.44 865.95) rotate(-45)">Phikon</text>
<text transform="translate(1725.18 865.95) rotate(-45)">PLIP</text>
</g>
<text x="545.10" y="998.9" font-size="15.14" text-anchor="middle">P-Values of two-sided DeLong Test comparing CONCH with all models/ensembles</text>
<text x="-1.8" y="994.8" font-size="30" font-weight="bold">B</text>
<rect x="164.32" y="1015.25" width="912.10" height="569.32" fill="#fbf6fb"/>
<rect x="165.12" y="1016.75" width="44.73" height="18.08" fill="#808080"/>
<rect x="211.35" y="1016.75" width="44.03" height="18.08" fill="#808080"/>
<rect x="256.88" y="1016.75" width="44.03" height="18.08" fill="#d8bfd8"/>
<rect x="302.41" y="1016.75" width="44.03" height="18.08" fill="#808080"/>
<rect x="347.94" y="1016.75" width="44.03" height="18.08" fill="#d8bfd8"/>
<rect x="393.47" y="1016.75" width="44.03" height="18.08" fill="#d8bfd8"/>
<rect x="439.00" y="1016.75" width="44.03" height="18.08" fill="#808080"/>
<rect x="484.53" y="1016.75" width="44.03" height="18.08" fill="#808080"/>
<rect x="530.06" y="1016.75" width="44.03" height="18.08" fill="#d8bfd8"/>
<rect x="575.59" y="1016.75" width="44.03" height="18.08" fill="#d8bfd8"/>
<rect x="621.12" y="1016.75" width="44.03" height="18.08" fill="#d8bfd8"/>
<rect x="666.65" y="1016.75" width="44.03" height="18.08" fill="#d8bfd8"/>
<rect x="712.18" y="1016.75" width="44.03" height="18.08" fill="#d8bfd8"/>
<rect x="757.71" y="1016.75" width="44.03" height="18.08" fill="#d8bfd8"/>
<rect x="803.24" y="1016.75" width="44.03" height="18.08" fill="#808080"/>
<rect x="848.77" y="1016.75" width="44.03" height="18.08" fill="#808080"/>
<rect x="894.30" y="1016.75" width="44.03" height="18.08" fill="#808080"/>
<rect x="939.83" y="1016.75" width="44.03" height="18.08" fill="#808080"/>
<rect x="985.36" y="1016.75" width="44.03" height="18.08" fill="#808080"/>
<rect x="1030.89" y="1016.75" width="44.03" height="18.08" fill="#808080"/>
<rect x="165.12" y="1036.33" width="44.73" height="18.08" fill="#808080"/>
<rect x="211.35" y="1036.33" width="44.03" height="18.08" fill="#808080"/>
<rect x="256.88" y="1036.33" width="44.03" height="18.08" fill="#808080"/>
<rect x="302.41" y="1036.33" width="44.03" height="18.08" fill="#808080"/>
<rect x="347.94" y="1036.33" width="44.03" height="18.08" fill="#808080"/>
<rect x="393.47" y="1036.33" width="44.03" height="18.08" fill="#808080"/>
<rect x="439.00" y="1036.33" width="44.03" height="18.08" fill="#808080"/>
<rect x="484.53" y="1036.33" width="44.03" height="18.08" fill="#808080"/>
<rect x="530.06" y="1036.33" width="44.03" height="18.08" fill="#808080"/>
<rect x="575.59" y="1036.33" width="44.03" height="18.08" fill="#808080"/>
<rect x="621.12" y="1036.33" width="44.03" height="18.08" fill="#808080"/>
<rect x="666.65" y="1036.33" width="44.03" height="18.08" fill="#808080"/>
<rect x="712.18" y="1036.33" width="44.03" height="18.08" fill="#808080"/>
<rect x="757.71" y="1036.33" width="44.03" height="18.08" fill="#808080"/>
<rect x="803.24" y="1036.33" width="44.03" height="18.08" fill="#808080"/>
<rect x="848.77" y="1036.33" width="44.03" height="18.08" fill="#808080"/>
<rect x="894.30" y="1036.33" width="44.03" height="18.08" fill="#808080"/>
<rect x="939.83" y="1036.33" width="44.03" height="18.08" fill="#808080"/>
<rect x="985.36" y="1036.33" width="44.03" height="18.08" fill="#808080"/>
<rect x="1030.89" y="1036.33" width="44.03" height="18.08" fill="#808080"/>
<rect x="165.12" y="1055.91" width="44.73" height="18.08" fill="#d8bfd8"/>
<rect x="211.35" y="1055.91" width="44.03" height="18.08" fill="#808080"/>
<rect x="256.88" y="1055.91" width="44.03" height="18.08" fill="#808080"/>
<rect x="302.41" y="1055.91" width="44.03" height="18.08" fill="#808080"/>
<rect x="347.94" y="1055.91" width="44.03" height="18.08" fill="#808080"/>
<rect x="393.47" y="1055.91" width="44.03" height="18.08" fill="#808080"/>
<rect x="439.00" y="1055.91" width="44.03" height="18.08" fill="#d8bfd8"/>
<rect x="484.53" y="1055.91" width="44.03" height="18.08" fill="#808080"/>
<rect x="530.06" y="1055.91" width="44.03" height="18.08" fill="#808080"/>
<rect x="575.59" y="1055.91" width="44.03" height="18.08" fill="#808080"/>
<rect x="621.12" y="1055.91" width="44.03" height="18.08" fill="#808080"/>
<rect x="666.65" y="1055.91" width="44.03" height="18.08" fill="#808080"/>
<rect x="712.18" y="1055.91" width="44.03" height="18.08" fill="#808080"/>
<rect x="757.71" y="1055.91" width="44.03" height="18.08" fill="#808080"/>
<rect x="803.24" y="1055.91" width="44.03" height="18.08" fill="#808080"/>
<rect x="848.77" y="1055.91" width="44.03" height="18.08" fill="#808080"/>
<rect x="894.30" y="1055.91" width="44.03" height="18.08" fill="#808080"/>
<rect x="939.83" y="1055.91" width="44.03" height="18.08" fill="#808080"/>
<rect x="985.36" y="1055.91" width="44.03" height="18.08" fill="#808080"/>
<rect x="1030.89" y="1055.91" width="44.03" height="18.08" fill="#808080"/>
<rect x="165.12" y="1075.49" width="44.73" height="18.08" fill="#808080"/>
<rect x="211.35" y="1075.49" width="44.03" height="18.08" fill="#808080"/>
<rect x="256.88" y="1075.49" width="44.03" height="18.08" fill="#808080"/>
<rect x="302.41" y="1075.49" width="44.03" height="18.08" fill="#808080"/>
<rect x="347.94" y="1075.49" width="44.03" height="18.08" fill="#808080"/>
<rect x="393.47" y="1075.49" width="44.03" height="18.08" fill="#808080"/>
<rect x="439.00" y="1075.49" width="44.03" height="18.08" fill="#808080"/>
<rect x="484.53" y="1075.49" width="44.03" height="18.08" fill="#808080"/>
<rect x="530.06" y="1075.49" width="44.03" height="18.08" fill="#d8bfd8"/>
<rect x="575.59" y="1075.49" width="44.03" height="18.08" fill="#d8bfd8"/>
<rect x="621.12" y="1075.49" width="44.03" height="18.08" fill="#d8bfd8"/>
<rect x="666.65" y="1075.49" width="44.03" height="18.08" fill="#808080"/>
<rect x="712.18" y="1075.49" width="44.03" height="18.08" fill="#d8bfd8"/>
<rect x="757.71" y="1075.49" width="44.03" height="18.08" fill="#d8bfd8"/>
<rect x="803.24" y="1075.49" width="44.03" height="18.08" fill="#808080"/>
<rect x="848.77" y="1075.49" width="44.03" height="18.08" fill="#808080"/>
<rect x="894.30" y="1075.49" width="44.03" height="18.08" fill="#808080"/>
<rect x="939.83" y="1075.49" width="44.03" height="18.08" fill="#808080"/>
<rect x="985.36" y="1075.49" width="44.03" height="18.08" fill="#808080"/>
<rect x="1030.89" y="1075.49" width="44.03" height="18.08" fill="#808080"/>
<rect x="165.12" y="1095.07" width="44.73" height="18.08" fill="#808080"/>
<rect x="211.35" y="1095.07" width="44.03" height="18.08" fill="#808080"/>
<rect x="256.88" y="1095.07" width="44.03" height="18.08" fill="#d8bfd8"/>
<rect x="302.41" y="1095.07" width="44.03" height="18.08" fill="#808080"/>
<rect x="347.94" y="1095.07" width="44.03" height="18.08" fill="#d8bfd8"/>
<rect x="393.47" y="1095.07" width="44.03" height="18.08" fill="#d8bfd8"/>
<rect x="439.00" y="1095.07" width="44.03" height="18.08" fill="#d8bfd8"/>
<rect x="484.53" y="1095.07" width="44.03" height="18.08" fill="#d8bfd8"/>
<rect x="530.06" y="1095.07" width="44.03" height="18.08" fill="#808080"/>
<rect x="575.59" y="1095.07" width="44.03" height="18.08" fill="#d8bfd8"/>
<rect x="621.12" y="1095.07" width="44.03" height="18.08" fill="#d8bfd8"/>
<rect x="666.65" y="1095.07" width="44.03" height="18.08" fill="#d8bfd8"/>
<rect x="712.18" y="1095.07" width="44.03" height="18.08" fill="#d8bfd8"/>
<rect x="757.71" y="1095.07" width="44.03" height="18.08" fill="#d8bfd8"/>
<rect x="803.24" y="1095.07" width="44.03" height="18.08" fill="#808080"/>
<rect x="848.77" y="1095.07" width="44.03" height="18.08" fill="#808080"/>
<rect x="894.30" y="1095.07" width="44.03" height="18.08" fill="#808080"/>
<rect x="939.83" y="1095.07" width="44.03" height="18.08" fill="#808080"/>
<rect x="985.36" y="1095.07" width="44.03" height="18.08" fill="#808080"/>
<rect x="1030.89" y="1095.07" width="44.03" height="18.08" fill="#808080"/>
<rect x="165.12" y="1114.65" width="44.73" height="18.08" fill="#4a245f"/>
<rect x="211.35" y="1114.65" width="44.03" height="18.08" fill="#4a245f"/>
<rect x="256.88" y="1114.65" width="44.03" height="18.08" fill="#d8bfd8"/>
<rect x="302.41" y="1114.65" width="44.03" height="18.08" fill="#808080"/>
<rect x="347.94" y="1114.65" width="44.03" height="18.08" fill="#808080"/>
<rect x="393.47" y="1114.65" width="44.03" height="18.08" fill="#808080"/>
<rect x="439.00" y="1114.65" width="44.03" height="18.08" fill="#808080"/>
<rect x="484.53" y="1114.65" width="44.03" height="18.08" fill="#808080"/>
<rect x="530.06" y="1114.65" width="44.03" height="18.08" fill="#808080"/>
<rect x="575.59" y="1114.65" width="44.03" height="18.08" fill="#808080"/>
<rect x="621.12" y="1114.65" width="44.03" height="18.08" fill="#d8bfd8"/>
<rect x="666.65" y="1114.65" width="44.03" height="18.08" fill="#4a245f"/>
<rect x="712.18" y="1114.65" width="44.03" height="18.08" fill="#808080"/>
<rect x="757.71" y="1114.65" width="44.03" height="18.08" fill="#d8bfd8"/>
<rect x="803.24" y="1114.65" width="44.03" height="18.08" fill="#4a245f"/>
<rect x="848.77" y="1114.65" width="44.03" height="18.08" fill="#4a245f"/>
<rect x="894.30" y="1114.65" width="44.03" height="18.08" fill="#4a245f"/>
<rect x="939.83" y="1114.65" width="44.03" height="18.08" fill="#4a245f"/>
<rect x="985.36" y="1114.65" width="44.03" height="18.08" fill="#4a245f"/>
<rect x="1030.89" y="1114.65" width="44.03" height="18.08" fill="#4a245f"/>
<rect x="165.12" y="1134.23" width="44.73" height="18.08" fill="#d8bfd8"/>
<rect x="211.35" y="1134.23" width="44.03" height="18.08" fill="#d8bfd8"/>
<rect x="256.88" y="1134.23" width="44.03" height="18.08" fill="#d8bfd8"/>
<rect x="302.41" y="1134.23" width="44.03" height="18.08" fill="#d8bfd8"/>
<rect x="347.94" y="1134.23" width="44.03" height="18.08" fill="#d8bfd8"/>
<rect x="393.47" y="1134.23" width="44.03" height="18.08" fill="#d8bfd8"/>
<rect x="439.00" y="1134.23" width="44.03" height="18.08" fill="#d8bfd8"/>
<rect x="484.53" y="1134.23" width="44.03" height="18.08" fill="#d8bfd8"/>
<rect x="530.06" y="1134.23" width="44.03" height="18.08" fill="#d8bfd8"/>
<rect x="575.59" y="1134.23" width="44.03" height="18.08" fill="#d8bfd8"/>
<rect x="621.12" y="1134.23" width="44.03" height="18.08" fill="#d8bfd8"/>
<rect x="666.65" y="1134.23" width="44.03" height="18.08" fill="#d8bfd8"/>
<rect x="712.18" y="1134.23" width="44.03" height="18.08" fill="#d8bfd8"/>
<rect x="757.71" y="1134.23" width="44.03" height="18.08" fill="#d8bfd8"/>
<rect x="803.24" y="1134.23" width="44.03" height="18.08" fill="#d8bfd8"/>
<rect x="848.77" y="1134.23" width="44.03" height="18.08" fill="#d8bfd8"/>
<rect x="894.30" y="1134.23" width="44.03" height="18.08" fill="#d8bfd8"/>
<rect x="939.83" y="1134.23" width="44.03" height="18.08" fill="#d8bfd8"/>
<rect x="985.36" y="1134.23" width="44.03" height="18.08" fill="#d8bfd8"/>
<rect x="1030.89" y="1134.23" width="44.03" height="18.08" fill="#d8bfd8"/>
<rect x="165.12" y="1153.81" width="44.73" height="18.08" fill="#808080"/>
<rect x="211.35" y="1153.81" width="44.03" height="18.08" fill="#808080"/>
<rect x="256.88" y="1153.81" width="44.03" height="18.08" fill="#808080"/>
<rect x="302.41" y="1153.81" width="44.03" height="18.08" fill="#808080"/>
<rect x="347.94" y="1153.81" width="44.03" height="18.08" fill="#808080"/>
<rect x="393.47" y="1153.81" width="44.03" height="18.08" fill="#808080"/>
<rect x="439.00" y="1153.81" width="44.03" height="18.08" fill="#808080"/>
<rect x="484.53" y="1153.81" width="44.03" height="18.08" fill="#808080"/>
<rect x="530.06" y="1153.81" width="44.03" height="18.08" fill="#808080"/>
<rect x="575.59" y="1153.81" width="44.03" height="18.08" fill="#808080"/>
<rect x="621.12" y="1153.81" width="44.03" height="18.08" fill="#808080"/>
<rect x="666.65" y="1153.81" width="44.03" height="18.08" fill="#808080"/>
<rect x="712.18" y="1153.81" width="44.03" height="18.08" fill="#808080"/>
<rect x="757.71" y="1153.81" width="44.03" height="18.08" fill="#d8bfd8"/>
<rect x="803.24" y="1153.81" width="44.03" height="18.08" fill="#808080"/>
<rect x="848.77" y="1153.81" width="44.03" height="18.08" fill="#808080"/>
<rect x="894.30" y="1153.81" width="44.03" height="18.08" fill="#808080"/>
<rect x="939.83" y="1153.81" width="44.03" height="18.08" fill="#808080"/>
<rect x="985.36" y="1153.81" width="44.03" height="18.08" fill="#808080"/>
<rect x="1030.89" y="1153.81" width="44.03" height="18.08" fill="#808080"/>
<rect x="165.12" y="1173.39" width="44.73" height="18.08" fill="#4a245f"/>
<rect x="211.35" y="1173.39" width="44.03" height="18.08" fill="#4a245f"/>
<rect x="256.88" y="1173.39" width="44.03" height="18.08" fill="#808080"/>
<rect x="302.41" y="1173.39" width="44.03" height="18.08" fill="#808080"/>
<rect x="347.94" y="1173.39" width="44.03" height="18.08" fill="#808080"/>
<rect x="393.47" y="1173.39" width="44.03" height="18.08" fill="#808080"/>
<rect x="439.00" y="1173.39" width="44.03" height="18.08" fill="#808080"/>
<rect x="484.53" y="1173.39" width="44.03" height="18.08" fill="#808080"/>
<rect x="530.06" y="1173.39" width="44.03" height="18.08" fill="#808080"/>
<rect x="575.59" y="1173.39" width="44.03" height="18.08" fill="#808080"/>
<rect x="621.12" y="1173.39" width="44.03" height="18.08" fill="#d8bfd8"/>
<rect x="666.65" y="1173.39" width="44.03" height="18.08" fill="#808080"/>
<rect x="712.18" y="1173.39" width="44.03" height="18.08" fill="#808080"/>
<rect x="757.71" y="1173.39" width="44.03" height="18.08" fill="#d8bfd8"/>
<rect x="803.24" y="1173.39" width="44.03" height="18.08" fill="#4a245f"/>
<rect x="848.77" y="1173.39" width="44.03" height="18.08" fill="#4a245f"/>
<rect x="894.30" y="1173.39" width="44.03" height="18.08" fill="#4a245f"/>
<rect x="939.83" y="1173.39" width="44.03" height="18.08" fill="#4a245f"/>
<rect x="985.36" y="1173.39" width="44.03" height="18.08" fill="#4a245f"/>
<rect x="1030.89" y="1173.39" width="44.03" height="18.08" fill="#4a245f"/>
<rect x="165.12" y="1192.97" width="44.73" height="18.08" fill="#808080"/>
<rect x="211.35" y="1192.97" width="44.03" height="18.08" fill="#808080"/>
<rect x="256.88" y="1192.97" width="44.03" height="18.08" fill="#808080"/>
<rect x="302.41" y="1192.97" width="44.03" height="18.08" fill="#d8bfd8"/>
<rect x="347.94" y="1192.97" width="44.03" height="18.08" fill="#808080"/>
<rect x="393.47" y="1192.97" width="44.03" height="18.08" fill="#808080"/>
<rect x="439.00" y="1192.97" width="44.03" height="18.08" fill="#808080"/>
<rect x="484.53" y="1192.97" width="44.03" height="18.08" fill="#808080"/>
<rect x="530.06" y="1192.97" width="44.03" height="18.08" fill="#808080"/>
<rect x="575.59" y="1192.97" width="44.03" height="18.08" fill="#808080"/>
<rect x="621.12" y="1192.97" width="44.03" height="18.08" fill="#808080"/>
<rect x="666.65" y="1192.97" width="44.03" height="18.08" fill="#808080"/>
<rect x="712.18" y="1192.97" width="44.03" height="18.08" fill="#808080"/>
<rect x="757.71" y="1192.97" width="44.03" height="18.08" fill="#808080"/>
<rect x="803.24" y="1192.97" width="44.03" height="18.08" fill="#808080"/>
<rect x="848.77" y="1192.97" width="44.03" height="18.08" fill="#808080"/>
<rect x="894.30" y="1192.97" width="44.03" height="18.08" fill="#808080"/>
<rect x="939.83" y="1192.97" width="44.03" height="18.08" fill="#808080"/>
<rect x="985.36" y="1192.97" width="44.03" height="18.08" fill="#4a245f"/>
<rect x="1030.89" y="1192.97" width="44.03" height="18.08" fill="#808080"/>
<rect x="165.12" y="1212.55" width="44.73" height="18.08" fill="#808080"/>
<rect x="211.35" y="1212.55" width="44.03" height="18.08" fill="#808080"/>
<rect x="256.88" y="1212.55" width="44.03" height="18.08" fill="#808080"/>
<rect x="302.41" y="1212.55" width="44.03" height="18.08" fill="#808080"/>
<rect x="347.94" y="1212.55" width="44.03" height="18.08" fill="#808080"/>
<rect x="393.47" y="1212.55" width="44.03" height="18.08" fill="#808080"/>
<rect x="439.00" y="1212.55" width="44.03" height="18.08" fill="#808080"/>
<rect x="484.53" y="1212.55" width="44.03" height="18.08" fill="#808080"/>
<rect x="530.06" y="1212.55" width="44.03" height="18.08" fill="#808080"/>
<rect x="575.59" y="1212.55" width="44.03" height="18.08" fill="#808080"/>
<rect x="621.12" y="1212.55" width="44.03" height="18.08" fill="#808080"/>
<rect x="666.65" y="1212.55" width="44.03" height="18.08" fill="#808080"/>
<rect x="712.18" y="1212.55" width="44.03" height="18.08" fill="#808080"/>
<rect x="757.71" y="1212.55" width="44.03" height="18.08" fill="#d8bfd8"/>
<rect x="803.24" y="1212.55" width="44.03" height="18.08" fill="#4a245f"/>
<rect x="848.77" y="1212.55" width="44.03" height="18.08" fill="#808080"/>
<rect x="894.30" y="1212.55" width="44.03" height="18.08" fill="#808080"/>
<rect x="939.83" y="1212.55" width="44.03" height="18.08" fill="#808080"/>
<rect x="985.36" y="1212.55" width="44.03" height="18.08" fill="#808080"/>
<rect x="1030.89" y="1212.55" width="44.03" height="18.08" fill="#808080"/>
<rect x="165.12" y="1232.13" width="44.73" height="18.08" fill="#808080"/>
<rect x="211.35" y="1232.13" width="44.03" height="18.08" fill="#d8bfd8"/>
<rect x="256.88" y="1232.13" width="44.03" height="18.08" fill="#808080"/>
<rect x="302.41" y="1232.13" width="44.03" height="18.08" fill="#d8bfd8"/>
<rect x="347.94" y="1232.13" width="44.03" height="18.08" fill="#808080"/>
<rect x="393.47" y="1232.13" width="44.03" height="18.08" fill="#808080"/>
<rect x="439.00" y="1232.13" width="44.03" height="18.08" fill="#d8bfd8"/>
<rect x="484.53" y="1232.13" width="44.03" height="18.08" fill="#808080"/>
<rect x="530.06" y="1232.13" width="44.03" height="18.08" fill="#808080"/>
<rect x="575.59" y="1232.13" width="44.03" height="18.08" fill="#808080"/>
<rect x="621.12" y="1232.13" width="44.03" height="18.08" fill="#808080"/>
<rect x="666.65" y="1232.13" width="44.03" height="18.08" fill="#808080"/>
<rect x="712.18" y="1232.13" width="44.03" height="18.08" fill="#d8bfd8"/>
<rect x="757.71" y="1232.13" width="44.03" height="18.08" fill="#808080"/>
<rect x="803.24" y="1232.13" width="44.03" height="18.08" fill="#808080"/>
<rect x="848.77" y="1232.13" width="44.03" height="18.08" fill="#808080"/>
<rect x="894.30" y="1232.13" width="44.03" height="18.08" fill="#808080"/>
<rect x="939.83" y="1232.13" width="44.03" height="18.08" fill="#808080"/>
<rect x="985.36" y="1232.13" width="44.03" height="18.08" fill="#808080"/>
<rect x="1030.89" y="1232.13" width="44.03" height="18.08" fill="#808080"/>
<rect x="165.12" y="1251.71" width="44.73" height="18.08" fill="#4a245f"/>
<rect x="211.35" y="1251.71" width="44.03" height="18.08" fill="#808080"/>
<rect x="256.88" y="1251.71" width="44.03" height="18.08" fill="#808080"/>
<rect x="302.41" y="1251.71" width="44.03" height="18.08" fill="#808080"/>
<rect x="347.94" y="1251.71" width="44.03" height="18.08" fill="#4a245f"/>
<rect x="393.47" y="1251.71" width="44.03" height="18.08" fill="#4a245f"/>
<rect x="439.00" y="1251.71" width="44.03" height="18.08" fill="#808080"/>
<rect x="484.53" y="1251.71" width="44.03" height="18.08" fill="#808080"/>
<rect x="530.06" y="1251.71" width="44.03" height="18.08" fill="#4a245f"/>
<rect x="575.59" y="1251.71" width="44.03" height="18.08" fill="#4a245f"/>
<rect x="621.12" y="1251.71" width="44.03" height="18.08" fill="#808080"/>
<rect x="666.65" y="1251.71" width="44.03" height="18.08" fill="#4a245f"/>
<rect x="712.18" y="1251.71" width="44.03" height="18.08" fill="#808080"/>
<rect x="757.71" y="1251.71" width="44.03" height="18.08" fill="#808080"/>
<rect x="803.24" y="1251.71" width="44.03" height="18.08" fill="#4a245f"/>
<rect x="848.77" y="1251.71" width="44.03" height="18.08" fill="#4a245f"/>
<rect x="894.30" y="1251.71" width="44.03" height="18.08" fill="#4a245f"/>
<rect x="939.83" y="1251.71" width="44.03" height="18.08" fill="#4a245f"/>
<rect x="985.36" y="1251.71" width="44.03" height="18.08" fill="#808080"/>
<rect x="1030.89" y="1251.71" width="44.03" height="18.08" fill="#4a245f"/>
<rect x="165.12" y="1271.29" width="44.73" height="18.08" fill="#808080"/>
<rect x="211.35" y="1271.29" width="44.03" height="18.08" fill="#808080"/>
<rect x="256.88" y="1271.29" width="44.03" height="18.08" fill="#808080"/>
<rect x="302.41" y="1271.29" width="44.03" height="18.08" fill="#808080"/>
<rect x="347.94" y="1271.29" width="44.03" height="18.08" fill="#808080"/>
<rect x="393.47" y="1271.29" width="44.03" height="18.08" fill="#808080"/>
<rect x="439.00" y="1271.29" width="44.03" height="18.08" fill="#808080"/>
<rect x="484.53" y="1271.29" width="44.03" height="18.08" fill="#808080"/>
<rect x="530.06" y="1271.29" width="44.03" height="18.08" fill="#808080"/>
<rect x="575.59" y="1271.29" width="44.03" height="18.08" fill="#808080"/>
<rect x="621.12" y="1271.29" width="44.03" height="18.08" fill="#808080"/>
<rect x="666.65" y="1271.29" width="44.03" height="18.08" fill="#808080"/>
<rect x="712.18" y="1271.29" width="44.03" height="18.08" fill="#808080"/>
<rect x="757.71" y="1271.29" width="44.03" height="18.08" fill="#808080"/>
<rect x="803.24" y="1271.29" width="44.03" height="18.08" fill="#808080"/>
<rect x="848.77" y="1271.29" width="44.03" height="18.08" fill="#808080"/>
<rect x="894.30" y="1271.29" width="44.03" height="18.08" fill="#808080"/>
<rect x="939.83" y="1271.29" width="44.03" height="18.08" fill="#808080"/>
<rect x="985.36" y="1271.29" width="44.03" height="18.08" fill="#808080"/>
<rect x="1030.89" y="1271.29" width="44.03" height="18.08" fill="#808080"/>
<rect x="165.12" y="1290.87" width="44.73" height="18.08" fill="#d8bfd8"/>
<rect x="211.35" y="1290.87" width="44.03" height="18.08" fill="#808080"/>
<rect x="256.88" y="1290.87" width="44.03" height="18.08" fill="#808080"/>
<rect x="302.41" y="1290.87" width="44.03" height="18.08" fill="#d8bfd8"/>
<rect x="347.94" y="1290.87" width="44.03" height="18.08" fill="#808080"/>
<rect x="393.47" y="1290.87" width="44.03" height="18.08" fill="#808080"/>
<rect x="439.00" y="1290.87" width="44.03" height="18.08" fill="#d8bfd8"/>
<rect x="484.53" y="1290.87" width="44.03" height="18.08" fill="#808080"/>
<rect x="530.06" y="1290.87" width="44.03" height="18.08" fill="#d8bfd8"/>
<rect x="575.59" y="1290.87" width="44.03" height="18.08" fill="#d8bfd8"/>
<rect x="621.12" y="1290.87" width="44.03" height="18.08" fill="#808080"/>
<rect x="666.65" y="1290.87" width="44.03" height="18.08" fill="#d8bfd8"/>
<rect x="712.18" y="1290.87" width="44.03" height="18.08" fill="#d8bfd8"/>
<rect x="757.71" y="1290.87" width="44.03" height="18.08" fill="#808080"/>
<rect x="803.24" y="1290.87" width="44.03" height="18.08" fill="#808080"/>
<rect x="848.77" y="1290.87" width="44.03" height="18.08" fill="#808080"/>
<rect x="894.30" y="1290.87" width="44.03" height="18.08" fill="#808080"/>
<rect x="939.83" y="1290.87" width="44.03" height="18.08" fill="#808080"/>
<rect x="985.36" y="1290.87" width="44.03" height="18.08" fill="#808080"/>
<rect x="1030.89" y="1290.87" width="44.03" height="18.08" fill="#808080"/>
<rect x="165.12" y="1310.45" width="44.73" height="18.08" fill="#d8bfd8"/>
<rect x="211.35" y="1310.45" width="44.03" height="18.08" fill="#d8bfd8"/>
<rect x="256.88" y="1310.45" width="44.03" height="18.08" fill="#808080"/>
<rect x="302.41" y="1310.45" width="44.03" height="18.08" fill="#d8bfd8"/>
<rect x="347.94" y="1310.45" width="44.03" height="18.08" fill="#d8bfd8"/>
<rect x="393.47" y="1310.45" width="44.03" height="18.08" fill="#808080"/>
<rect x="439.00" y="1310.45" width="44.03" height="18.08" fill="#808080"/>
<rect x="484.53" y="1310.45" width="44.03" height="18.08" fill="#808080"/>
<rect x="530.06" y="1310.45" width="44.03" height="18.08" fill="#808080"/>
<rect x="575.59" y="1310.45" width="44.03" height="18.08" fill="#808080"/>
<rect x="621.12" y="1310.45" width="44.03" height="18.08" fill="#808080"/>
<rect x="666.65" y="1310.45" width="44.03" height="18.08" fill="#d8bfd8"/>
<rect x="712.18" y="1310.45" width="44.03" height="18.08" fill="#808080"/>
<rect x="757.71" y="1310.45" width="44.03" height="18.08" fill="#808080"/>
<rect x="803.24" y="1310.45" width="44.03" height="18.08" fill="#d8bfd8"/>
<rect x="848.77" y="1310.45" width="44.03" height="18.08" fill="#d8bfd8"/>
<rect x="894.30" y="1310.45" width="44.03" height="18.08" fill="#808080"/>
<rect x="939.83" y="1310.45" width="44.03" height="18.08" fill="#d8bfd8"/>
<rect x="985.36" y="1310.45" width="44.03" height="18.08" fill="#808080"/>
<rect x="1030.89" y="1310.45" width="44.03" height="18.08" fill="#d8bfd8"/>
<rect x="165.12" y="1330.03" width="44.73" height="18.08" fill="#808080"/>
<rect x="211.35" y="1330.03" width="44.03" height="18.08" fill="#808080"/>
<rect x="256.88" y="1330.03" width="44.03" height="18.08" fill="#808080"/>
<rect x="302.41" y="1330.03" width="44.03" height="18.08" fill="#808080"/>
<rect x="347.94" y="1330.03" width="44.03" height="18.08" fill="#808080"/>
<rect x="393.47" y="1330.03" width="44.03" height="18.08" fill="#808080"/>
<rect x="439.00" y="1330.03" width="44.03" height="18.08" fill="#808080"/>
<rect x="484.53" y="1330.03" width="44.03" height="18.08" fill="#808080"/>
<rect x="530.06" y="1330.03" width="44.03" height="18.08" fill="#808080"/>
<rect x="575.59" y="1330.03" width="44.03" height="18.08" fill="#808080"/>
<rect x="621.12" y="1330.03" width="44.03" height="18.08" fill="#808080"/>
<rect x="666.65" y="1330.03" width="44.03" height="18.08" fill="#808080"/>
<rect x="712.18" y="1330.03" width="44.03" height="18.08" fill="#808080"/>
<rect x="757.71" y="1330.03" width="44.03" height="18.08" fill="#808080"/>
<rect x="803.24" y="1330.03" width="44.03" height="18.08" fill="#808080"/>
<rect x="848.77" y="1330.03" width="44.03" height="18.08" fill="#808080"/>
<rect x="894.30" y="1330.03" width="44.03" height="18.08" fill="#808080"/>
<rect x="939.83" y="1330.03" width="44.03" height="18.08" fill="#808080"/>
<rect x="985.36" y="1330.03" width="44.03" height="18.08" fill="#808080"/>
<rect x="1030.89" y="1330.03" width="44.03" height="18.08" fill="#808080"/>
<rect x="165.12" y="1349.61" width="44.73" height="18.08" fill="#808080"/>
<rect x="211.35" y="1349.61" width="44.03" height="18.08" fill="#808080"/>
<rect x="256.88" y="1349.61" width="44.03" height="18.08" fill="#808080"/>
<rect x="302.41" y="1349.61" width="44.03" height="18.08" fill="#808080"/>
<rect x="347.94" y="1349.61" width="44.03" height="18.08" fill="#808080"/>
<rect x="393.47" y="1349.61" width="44.03" height="18.08" fill="#d8bfd8"/>
<rect x="439.00" y="1349.61" width="44.03" height="18.08" fill="#808080"/>
<rect x="484.53" y="1349.61" width="44.03" height="18.08" fill="#808080"/>
<rect x="530.06" y="1349.61" width="44.03" height="18.08" fill="#808080"/>
<rect x="575.59" y="1349.61" width="44.03" height="18.08" fill="#808080"/>
<rect x="621.12" y="1349.61" width="44.03" height="18.08" fill="#d8bfd8"/>
<rect x="666.65" y="1349.61" width="44.03" height="18.08" fill="#808080"/>
<rect x="712.18" y="1349.61" width="44.03" height="18.08" fill="#808080"/>
<rect x="757.71" y="1349.61" width="44.03" height="18.08" fill="#d8bfd8"/>
<rect x="803.24" y="1349.61" width="44.03" height="18.08" fill="#4a245f"/>
<rect x="848.77" y="1349.61" width="44.03" height="18.08" fill="#808080"/>
<rect x="894.30" y="1349.61" width="44.03" height="18.08" fill="#808080"/>
<rect x="939.83" y="1349.61" width="44.03" height="18.08" fill="#4a245f"/>
<rect x="985.36" y="1349.61" width="44.03" height="18.08" fill="#808080"/>
<rect x="1030.89" y="1349.61" width="44.03" height="18.08" fill="#808080"/>
<rect x="165.12" y="1369.19" width="44.73" height="18.08" fill="#808080"/>
<rect x="211.35" y="1369.19" width="44.03" height="18.08" fill="#808080"/>
<rect x="256.88" y="1369.19" width="44.03" height="18.08" fill="#808080"/>
<rect x="302.41" y="1369.19" width="44.03" height="18.08" fill="#808080"/>
<rect x="347.94" y="1369.19" width="44.03" height="18.08" fill="#808080"/>
<rect x="393.47" y="1369.19" width="44.03" height="18.08" fill="#808080"/>
<rect x="439.00" y="1369.19" width="44.03" height="18.08" fill="#808080"/>
<rect x="484.53" y="1369.19" width="44.03" height="18.08" fill="#808080"/>
<rect x="530.06" y="1369.19" width="44.03" height="18.08" fill="#808080"/>
<rect x="575.59" y="1369.19" width="44.03" height="18.08" fill="#808080"/>
<rect x="621.12" y="1369.19" width="44.03" height="18.08" fill="#808080"/>
<rect x="666.65" y="1369.19" width="44.03" height="18.08" fill="#808080"/>
<rect x="712.18" y="1369.19" width="44.03" height="18.08" fill="#808080"/>
<rect x="757.71" y="1369.19" width="44.03" height="18.08" fill="#808080"/>
<rect x="803.24" y="1369.19" width="44.03" height="18.08" fill="#808080"/>
<rect x="848.77" y="1369.19" width="44.03" height="18.08" fill="#808080"/>
<rect x="894.30" y="1369.19" width="44.03" height="18.08" fill="#808080"/>
<rect x="939.83" y="1369.19" width="44.03" height="18.08" fill="#808080"/>
<rect x="985.36" y="1369.19" width="44.03" height="18.08" fill="#808080"/>
<rect x="1030.89" y="1369.19" width="44.03" height="18.08" fill="#808080"/>
<rect x="165.12" y="1388.77" width="44.73" height="18.08" fill="#808080"/>
<rect x="211.35" y="1388.77" width="44.03" height="18.08" fill="#808080"/>
<rect x="256.88" y="1388.77" width="44.03" height="18.08" fill="#808080"/>
<rect x="302.41" y="1388.77" width="44.03" height="18.08" fill="#808080"/>
<rect x="347.94" y="1388.77" width="44.03" height="18.08" fill="#808080"/>
<rect x="393.47" y="1388.77" width="44.03" height="18.08" fill="#808080"/>
<rect x="439.00" y="1388.77" width="44.03" height="18.08" fill="#808080"/>
<rect x="484.53" y="1388.77" width="44.03" height="18.08" fill="#808080"/>
<rect x="530.06" y="1388.77" width="44.03" height="18.08" fill="#808080"/>
<rect x="575.59" y="1388.77" width="44.03" height="18.08" fill="#d8bfd8"/>
<rect x="621.12" y="1388.77" width="44.03" height="18.08" fill="#808080"/>
<rect x="666.65" y="1388.77" width="44.03" height="18.08" fill="#808080"/>
<rect x="712.18" y="1388.77" width="44.03" height="18.08" fill="#808080"/>
<rect x="757.71" y="1388.77" width="44.03" height="18.08" fill="#808080"/>
<rect x="803.24" y="1388.77" width="44.03" height="18.08" fill="#808080"/>
<rect x="848.77" y="1388.77" width="44.03" height="18.08" fill="#808080"/>
<rect x="894.30" y="1388.77" width="44.03" height="18.08" fill="#808080"/>
<rect x="939.83" y="1388.77" width="44.03" height="18.08" fill="#808080"/>
<rect x="985.36" y="1388.77" width="44.03" height="18.08" fill="#808080"/>
<rect x="1030.89" y="1388.77" width="44.03" height="18.08" fill="#808080"/>
<rect x="165.12" y="1408.35" width="44.73" height="18.08" fill="#808080"/>
<rect x="211.35" y="1408.35" width="44.03" height="18.08" fill="#808080"/>
<rect x="256.88" y="1408.35" width="44.03" height="18.08" fill="#808080"/>
<rect x="302.41" y="1408.35" width="44.03" height="18.08" fill="#808080"/>
<rect x="347.94" y="1408.35" width="44.03" height="18.08" fill="#808080"/>
<rect x="393.47" y="1408.35" width="44.03" height="18.08" fill="#808080"/>
<rect x="439.00" y="1408.35" width="44.03" height="18.08" fill="#808080"/>
<rect x="484.53" y="1408.35" width="44.03" height="18.08" fill="#808080"/>
<rect x="530.06" y="1408.35" width="44.03" height="18.08" fill="#808080"/>
<rect x="575.59" y="1408.35" width="44.03" height="18.08" fill="#808080"/>
<rect x="621.12" y="1408.35" width="44.03" height="18.08" fill="#808080"/>
<rect x="666.65" y="1408.35" width="44.03" height="18.08" fill="#808080"/>
<rect x="712.18" y="1408.35" width="44.03" height="18.08" fill="#808080"/>
<rect x="757.71" y="1408.35" width="44.03" height="18.08" fill="#808080"/>
<rect x="803.24" y="1408.35" width="44.03" height="18.08" fill="#808080"/>
<rect x="848.77" y="1408.35" width="44.03" height="18.08" fill="#808080"/>
<rect x="894.30" y="1408.35" width="44.03" height="18.08" fill="#808080"/>
<rect x="939.83" y="1408.35" width="44.03" height="18.08" fill="#808080"/>
<rect x="985.36" y="1408.35" width="44.03" height="18.08" fill="#808080"/>
<rect x="1030.89" y="1408.35" width="44.03" height="18.08" fill="#808080"/>
<rect x="165.12" y="1427.93" width="44.73" height="18.08" fill="#808080"/>
<rect x="211.35" y="1427.93" width="44.03" height="18.08" fill="#808080"/>
<rect x="256.88" y="1427.93" width="44.03" height="18.08" fill="#808080"/>
<rect x="302.41" y="1427.93" width="44.03" height="18.08" fill="#808080"/>
<rect x="347.94" y="1427.93" width="44.03" height="18.08" fill="#808080"/>
<rect x="393.47" y="1427.93" width="44.03" height="18.08" fill="#808080"/>
<rect x="439.00" y="1427.93" width="44.03" height="18.08" fill="#808080"/>
<rect x="484.53" y="1427.93" width="44.03" height="18.08" fill="#808080"/>
<rect x="530.06" y="1427.93" width="44.03" height="18.08" fill="#808080"/>
<rect x="575.59" y="1427.93" width="44.03" height="18.08" fill="#808080"/>
<rect x="621.12" y="1427.93" width="44.03" height="18.08" fill="#808080"/>
<rect x="666.65" y="1427.93" width="44.03" height="18.08" fill="#808080"/>
<rect x="712.18" y="1427.93" width="44.03" height="18.08" fill="#d8bfd8"/>
<rect x="757.71" y="1427.93" width="44.03" height="18.08" fill="#808080"/>
<rect x="803.24" y="1427.93" width="44.03" height="18.08" fill="#808080"/>
<rect x="848.77" y="1427.93" width="44.03" height="18.08" fill="#808080"/>
<rect x="894.30" y="1427.93" width="44.03" height="18.08" fill="#808080"/>
<rect x="939.83" y="1427.93" width="44.03" height="18.08" fill="#808080"/>
<rect x="985.36" y="1427.93" width="44.03" height="18.08" fill="#808080"/>
<rect x="1030.89" y="1427.93" width="44.03" height="18.08" fill="#808080"/>
<rect x="165.12" y="1447.51" width="44.73" height="18.08" fill="#4a245f"/>
<rect x="211.35" y="1447.51" width="44.03" height="18.08" fill="#4a245f"/>
<rect x="256.88" y="1447.51" width="44.03" height="18.08" fill="#4a245f"/>
<rect x="302.41" y="1447.51" width="44.03" height="18.08" fill="#808080"/>
<rect x="347.94" y="1447.51" width="44.03" height="18.08" fill="#d8bfd8"/>
<rect x="393.47" y="1447.51" width="44.03" height="18.08" fill="#4a245f"/>
<rect x="439.00" y="1447.51" width="44.03" height="18.08" fill="#d8bfd8"/>
<rect x="484.53" y="1447.51" width="44.03" height="18.08" fill="#d8bfd8"/>
<rect x="530.06" y="1447.51" width="44.03" height="18.08" fill="#808080"/>
<rect x="575.59" y="1447.51" width="44.03" height="18.08" fill="#d8bfd8"/>
<rect x="621.12" y="1447.51" width="44.03" height="18.08" fill="#d8bfd8"/>
<rect x="666.65" y="1447.51" width="44.03" height="18.08" fill="#d8bfd8"/>
<rect x="712.18" y="1447.51" width="44.03" height="18.08" fill="#d8bfd8"/>
<rect x="757.71" y="1447.51" width="44.03" height="18.08" fill="#d8bfd8"/>
<rect x="803.24" y="1447.51" width="44.03" height="18.08" fill="#4a245f"/>
<rect x="848.77" y="1447.51" width="44.03" height="18.08" fill="#4a245f"/>
<rect x="894.30" y="1447.51" width="44.03" height="18.08" fill="#4a245f"/>
<rect x="939.83" y="1447.51" width="44.03" height="18.08" fill="#4a245f"/>
<rect x="985.36" y="1447.51" width="44.03" height="18.08" fill="#4a245f"/>
<rect x="1030.89" y="1447.51" width="44.03" height="18.08" fill="#4a245f"/>
<rect x="165.12" y="1467.09" width="44.73" height="18.08" fill="#4a245f"/>
<rect x="211.35" y="1467.09" width="44.03" height="18.08" fill="#808080"/>
<rect x="256.88" y="1467.09" width="44.03" height="18.08" fill="#808080"/>
<rect x="302.41" y="1467.09" width="44.03" height="18.08" fill="#808080"/>
<rect x="347.94" y="1467.09" width="44.03" height="18.08" fill="#808080"/>
<rect x="393.47" y="1467.09" width="44.03" height="18.08" fill="#808080"/>
<rect x="439.00" y="1467.09" width="44.03" height="18.08" fill="#4a245f"/>
<rect x="484.53" y="1467.09" width="44.03" height="18.08" fill="#808080"/>
<rect x="530.06" y="1467.09" width="44.03" height="18.08" fill="#808080"/>
<rect x="575.59" y="1467.09" width="44.03" height="18.08" fill="#808080"/>
<rect x="621.12" y="1467.09" width="44.03" height="18.08" fill="#d8bfd8"/>
<rect x="666.65" y="1467.09" width="44.03" height="18.08" fill="#808080"/>
<rect x="712.18" y="1467.09" width="44.03" height="18.08" fill="#d8bfd8"/>
<rect x="757.71" y="1467.09" width="44.03" height="18.08" fill="#d8bfd8"/>
<rect x="803.24" y="1467.09" width="44.03" height="18.08" fill="#4a245f"/>
<rect x="848.77" y="1467.09" width="44.03" height="18.08" fill="#4a245f"/>
<rect x="894.30" y="1467.09" width="44.03" height="18.08" fill="#4a245f"/>
<rect x="939.83" y="1467.09" width="44.03" height="18.08" fill="#4a245f"/>
<rect x="985.36" y="1467.09" width="44.03" height="18.08" fill="#808080"/>
<rect x="1030.89" y="1467.09" width="44.03" height="18.08" fill="#808080"/>
<rect x="165.12" y="1486.67" width="44.73" height="18.08" fill="#808080"/>
<rect x="211.35" y="1486.67" width="44.03" height="18.08" fill="#808080"/>
<rect x="256.88" y="1486.67" width="44.03" height="18.08" fill="#d8bfd8"/>
<rect x="302.41" y="1486.67" width="44.03" height="18.08" fill="#d8bfd8"/>
<rect x="347.94" y="1486.67" width="44.03" height="18.08" fill="#808080"/>
<rect x="393.47" y="1486.67" width="44.03" height="18.08" fill="#d8bfd8"/>
<rect x="439.00" y="1486.67" width="44.03" height="18.08" fill="#808080"/>
<rect x="484.53" y="1486.67" width="44.03" height="18.08" fill="#d8bfd8"/>
<rect x="530.06" y="1486.67" width="44.03" height="18.08" fill="#808080"/>
<rect x="575.59" y="1486.67" width="44.03" height="18.08" fill="#808080"/>
<rect x="621.12" y="1486.67" width="44.03" height="18.08" fill="#d8bfd8"/>
<rect x="666.65" y="1486.67" width="44.03" height="18.08" fill="#d8bfd8"/>
<rect x="712.18" y="1486.67" width="44.03" height="18.08" fill="#d8bfd8"/>
<rect x="757.71" y="1486.67" width="44.03" height="18.08" fill="#d8bfd8"/>
<rect x="803.24" y="1486.67" width="44.03" height="18.08" fill="#808080"/>
<rect x="848.77" y="1486.67" width="44.03" height="18.08" fill="#4a245f"/>
<rect x="894.30" y="1486.67" width="44.03" height="18.08" fill="#808080"/>
<rect x="939.83" y="1486.67" width="44.03" height="18.08" fill="#808080"/>
<rect x="985.36" y="1486.67" width="44.03" height="18.08" fill="#4a245f"/>
<rect x="1030.89" y="1486.67" width="44.03" height="18.08" fill="#808080"/>
<rect x="165.12" y="1506.25" width="44.73" height="18.08" fill="#4a245f"/>
<rect x="211.35" y="1506.25" width="44.03" height="18.08" fill="#808080"/>
<rect x="256.88" y="1506.25" width="44.03" height="18.08" fill="#808080"/>
<rect x="302.41" y="1506.25" width="44.03" height="18.08" fill="#808080"/>
<rect x="347.94" y="1506.25" width="44.03" height="18.08" fill="#808080"/>
<rect x="393.47" y="1506.25" width="44.03" height="18.08" fill="#808080"/>
<rect x="439.00" y="1506.25" width="44.03" height="18.08" fill="#808080"/>
<rect x="484.53" y="1506.25" width="44.03" height="18.08" fill="#808080"/>
<rect x="530.06" y="1506.25" width="44.03" height="18.08" fill="#808080"/>
<rect x="575.59" y="1506.25" width="44.03" height="18.08" fill="#808080"/>
<rect x="621.12" y="1506.25" width="44.03" height="18.08" fill="#d8bfd8"/>
<rect x="666.65" y="1506.25" width="44.03" height="18.08" fill="#d8bfd8"/>
<rect x="712.18" y="1506.25" width="44.03" height="18.08" fill="#808080"/>
<rect x="757.71" y="1506.25" width="44.03" height="18.08" fill="#d8bfd8"/>
<rect x="803.24" y="1506.25" width="44.03" height="18.08" fill="#4a245f"/>
<rect x="848.77" y="1506.25" width="44.03" height="18.08" fill="#4a245f"/>
<rect x="894.30" y="1506.25" width="44.03" height="18.08" fill="#808080"/>
<rect x="939.83" y="1506.25" width="44.03" height="18.08" fill="#4a245f"/>
<rect x="985.36" y="1506.25" width="44.03" height="18.08" fill="#808080"/>
<rect x="1030.89" y="1506.25" width="44.03" height="18.08" fill="#808080"/>
<rect x="165.12" y="1525.83" width="44.73" height="18.08" fill="#808080"/>
<rect x="211.35" y="1525.83" width="44.03" height="18.08" fill="#808080"/>
<rect x="256.88" y="1525.83" width="44.03" height="18.08" fill="#d8bfd8"/>
<rect x="302.41" y="1525.83" width="44.03" height="18.08" fill="#808080"/>
<rect x="347.94" y="1525.83" width="44.03" height="18.08" fill="#d8bfd8"/>
<rect x="393.47" y="1525.83" width="44.03" height="18.08" fill="#808080"/>
<rect x="439.00" y="1525.83" width="44.03" height="18.08" fill="#808080"/>
<rect x="484.53" y="1525.83" width="44.03" height="18.08" fill="#d8bfd8"/>
<rect x="530.06" y="1525.83" width="44.03" height="18.08" fill="#d8bfd8"/>
<rect x="575.59" y="1525.83" width="44.03" height="18.08" fill="#d8bfd8"/>
<rect x="621.12" y="1525.83" width="44.03" height="18.08" fill="#d8bfd8"/>
<rect x="666.65" y="1525.83" width="44.03" height="18.08" fill="#d8bfd8"/>
<rect x="712.18" y="1525.83" width="44.03" height="18.08" fill="#d8bfd8"/>
<rect x="757.71" y="1525.83" width="44.03" height="18.08" fill="#d8bfd8"/>
<rect x="803.24" y="1525.83" width="44.03" height="18.08" fill="#4a245f"/>
<rect x="848.77" y="1525.83" width="44.03" height="18.08" fill="#4a245f"/>
<rect x="894.30" y="1525.83" width="44.03" height="18.08" fill="#4a245f"/>
<rect x="939.83" y="1525.83" width="44.03" height="18.08" fill="#4a245f"/>
<rect x="985.36" y="1525.83" width="44.03" height="18.08" fill="#4a245f"/>
<rect x="1030.89" y="1525.83" width="44.03" height="18.08" fill="#4a245f"/>
<rect x="165.12" y="1545.41" width="44.73" height="18.08" fill="#d8bfd8"/>
<rect x="211.35" y="1545.41" width="44.03" height="18.08" fill="#d8bfd8"/>
<rect x="256.88" y="1545.41" width="44.03" height="18.08" fill="#d8bfd8"/>
<rect x="302.41" y="1545.41" width="44.03" height="18.08" fill="#d8bfd8"/>
<rect x="347.94" y="1545.41" width="44.03" height="18.08" fill="#d8bfd8"/>
<rect x="393.47" y="1545.41" width="44.03" height="18.08" fill="#d8bfd8"/>
<rect x="439.00" y="1545.41" width="44.03" height="18.08" fill="#d8bfd8"/>
<rect x="484.53" y="1545.41" width="44.03" height="18.08" fill="#d8bfd8"/>
<rect x="530.06" y="1545.41" width="44.03" height="18.08" fill="#d8bfd8"/>
<rect x="575.59" y="1545.41" width="44.03" height="18.08" fill="#d8bfd8"/>
<rect x="621.12" y="1545.41" width="44.03" height="18.08" fill="#d8bfd8"/>
<rect x="666.65" y="1545.41" width="44.03" height="18.08" fill="#d8bfd8"/>
<rect x="712.18" y="1545.41" width="44.03" height="18.08" fill="#d8bfd8"/>
<rect x="757.71" y="1545.41" width="44.03" height="18.08" fill="#d8bfd8"/>
<rect x="803.24" y="1545.41" width="44.03" height="18.08" fill="#d8bfd8"/>
<rect x="848.77" y="1545.41" width="44.03" height="18.08" fill="#d8bfd8"/>
<rect x="894.30" y="1545.41" width="44.03" height="18.08" fill="#d8bfd8"/>
<rect x="939.83" y="1545.41" width="44.03" height="18.08" fill="#808080"/>
<rect x="985.36" y="1545.41" width="44.03" height="18.08" fill="#d8bfd8"/>
<rect x="1030.89" y="1545.41" width="44.03" height="18.08" fill="#d8bfd8"/>
<rect x="165.12" y="1564.99" width="44.73" height="18.08" fill="#808080"/>
<rect x="211.35" y="1564.99" width="44.03" height="18.08" fill="#d8bfd8"/>
<rect x="256.88" y="1564.99" width="44.03" height="18.08" fill="#808080"/>
<rect x="302.41" y="1564.99" width="44.03" height="18.08" fill="#808080"/>
<rect x="347.94" y="1564.99" width="44.03" height="18.08" fill="#808080"/>
<rect x="393.47" y="1564.99" width="44.03" height="18.08" fill="#d8bfd8"/>
<rect x="439.00" y="1564.99" width="44.03" height="18.08" fill="#808080"/>
<rect x="484.53" y="1564.99" width="44.03" height="18.08" fill="#d8bfd8"/>
<rect x="530.06" y="1564.99" width="44.03" height="18.08" fill="#d8bfd8"/>
<rect x="575.59" y="1564.99" width="44.03" height="18.08" fill="#d8bfd8"/>
<rect x="621.12" y="1564.99" width="44.03" height="18.08" fill="#808080"/>
<rect x="666.65" y="1564.99" width="44.03" height="18.08" fill="#d8bfd8"/>
<rect x="712.18" y="1564.99" width="44.03" height="18.08" fill="#d8bfd8"/>
<rect x="757.71" y="1564.99" width="44.03" height="18.08" fill="#d8bfd8"/>
<rect x="803.24" y="1564.99" width="44.03" height="18.08" fill="#808080"/>
<rect x="848.77" y="1564.99" width="44.03" height="18.08" fill="#808080"/>
<rect x="894.30" y="1564.99" width="44.03" height="18.08" fill="#4a245f"/>
<rect x="939.83" y="1564.99" width="44.03" height="18.08" fill="#4a245f"/>
<rect x="985.36" y="1564.99" width="44.03" height="18.08" fill="#808080"/>
<rect x="1030.89" y="1564.99" width="44.03" height="18.08" fill="#808080"/>
<g font-size="12.55" text-anchor="middle">
<text x="187.83" y="1029.20" fill="#fff" stroke="#fff">0.050</text>
<text x="233.37" y="1029.20" fill="#fff" stroke="#fff">0.218</text>
<text x="278.89" y="1029.20" fill="#262626" stroke="#262626">0.005</text>
<text x="324.43" y="1029.20" fill="#fff" stroke="#fff">0.104</text>
<text x="369.95" y="1029.20" fill="#262626" stroke="#262626">0.028</text>
<text x="415.49" y="1029.20" fill="#262626" stroke="#262626">0.001</text>
<text x="461.01" y="1029.20" fill="#fff" stroke="#fff">0.192</text>
<text x="506.55" y="1029.20" fill="#fff" stroke="#fff">0.082</text>
<text x="552.08" y="1029.20" fill="#262626" stroke="#262626">0.018</text>
<text x="597.61" y="1029.20" fill="#262626" stroke="#262626">0.005</text>
<text x="643.13" y="1029.20" fill="#262626" stroke="#262626">0.029</text>
<text x="688.66" y="1029.20" fill="#262626" stroke="#262626">0.014</text>
<text x="734.19" y="1029.20" fill="#262626" stroke="#262626">0.001</text>
<text x="779.72" y="1029.20" fill="#262626" stroke="#262626">0.010</text>
<text x="825.26" y="1029.20" fill="#fff" stroke="#fff">0.158</text>
<text x="870.79" y="1029.20" fill="#fff" stroke="#fff">0.956</text>
<text x="916.32" y="1029.20" fill="#fff" stroke="#fff">0.286</text>
<text x="961.85" y="1029.20" fill="#fff" stroke="#fff">0.346</text>
<text x="1007.38" y="1029.20" fill="#fff" stroke="#fff">0.570</text>
<text x="1052.90" y="1029.20" fill="#fff" stroke="#fff">0.208</text>
<text x="187.83" y="1048.78" fill="#fff" stroke="#fff">0.180</text>
<text x="233.37" y="1048.78" fill="#fff" stroke="#fff">0.398</text>
<text x="278.89" y="1048.78" fill="#fff" stroke="#fff">0.634</text>
<text x="324.43" y="1048.78" fill="#fff" stroke="#fff">0.847</text>
<text x="369.95" y="1048.78" fill="#fff" stroke="#fff">0.531</text>
<text x="415.49" y="1048.78" fill="#fff" stroke="#fff">0.220</text>
<text x="461.01" y="1048.78" fill="#fff" stroke="#fff">0.265</text>
<text x="506.55" y="1048.78" fill="#fff" stroke="#fff">0.774</text>
<text x="552.08" y="1048.78" fill="#fff" stroke="#fff">0.877</text>
<text x="597.61" y="1048.78" fill="#fff" stroke="#fff">0.458</text>
<text x="643.13" y="1048.78" fill="#fff" stroke="#fff">0.055</text>
<text x="688.66" y="1048.78" fill="#fff" stroke="#fff">0.138</text>
<text x="734.19" y="1048.78" fill="#fff" stroke="#fff">0.918</text>
<text x="779.72" y="1048.78" fill="#fff" stroke="#fff">0.590</text>
<text x="825.26" y="1048.78" fill="#fff" stroke="#fff">0.050</text>
<text x="870.79" y="1048.78" fill="#fff" stroke="#fff">0.051</text>
<text x="916.32" y="1048.78" fill="#fff" stroke="#fff">0.657</text>
<text x="961.85" y="1048.78" fill="#fff" stroke="#fff">0.414</text>
<text x="1007.38" y="1048.78" fill="#fff" stroke="#fff">0.232</text>
<text x="1052.90" y="1048.78" fill="#fff" stroke="#fff">0.784</text>
<text x="187.83" y="1068.37" fill="#262626" stroke="#262626">0.022</text>
<text x="233.37" y="1068.37" fill="#fff" stroke="#fff">0.436</text>
<text x="278.89" y="1068.37" fill="#fff" stroke="#fff">0.059</text>
<text x="324.43" y="1068.37" fill="#fff" stroke="#fff">0.060</text>
<text x="369.95" y="1068.37" fill="#fff" stroke="#fff">0.718</text>
<text x="415.49" y="1068.37" fill="#fff" stroke="#fff">0.104</text>
<text x="461.01" y="1068.37" fill="#262626" stroke="#262626">0.014</text>
<text x="506.55" y="1068.37" fill="#fff" stroke="#fff">0.292</text>
<text x="552.08" y="1068.37" fill="#fff" stroke="#fff">0.164</text>
<text x="597.61" y="1068.37" fill="#fff" stroke="#fff">0.859</text>
<text x="643.13" y="1068.37" fill="#fff" stroke="#fff">0.069</text>
<text x="688.66" y="1068.37" fill="#fff" stroke="#fff">0.156</text>
<text x="734.19" y="1068.37" fill="#fff" stroke="#fff">0.298</text>
<text x="779.72" y="1068.37" fill="#fff" stroke="#fff">0.257</text>
<text x="825.26" y="1068.37" fill="#fff" stroke="#fff">0.643</text>
<text x="870.79" y="1068.37" fill="#fff" stroke="#fff">0.437</text>
<text x="916.32" y="1068.37" fill="#fff" stroke="#fff">0.213</text>
<text x="961.85" y="1068.37" fill="#fff" stroke="#fff">0.092</text>
<text x="1007.38" y="1068.37" fill="#fff" stroke="#fff">0.842</text>
<text x="1052.90" y="1068.37" fill="#fff" stroke="#fff">0.064</text>
<text x="187.83" y="1087.94" fill="#fff" stroke="#fff">0.870</text>
<text x="233.37" y="1087.94" fill="#fff" stroke="#fff">0.396</text>
<text x="278.89" y="1087.94" fill="#fff" stroke="#fff">0.785</text>
<text x="324.43" y="1087.94" fill="#fff" stroke="#fff">0.987</text>
<text x="369.95" y="1087.94" fill="#fff" stroke="#fff">0.981</text>
<text x="415.49" y="1087.94" fill="#fff" stroke="#fff">0.168</text>
<text x="461.01" y="1087.94" fill="#fff" stroke="#fff">0.973</text>
<text x="506.55" y="1087.94" fill="#fff" stroke="#fff">0.200</text>
<text x="552.08" y="1087.94" fill="#262626" stroke="#262626">0.002</text>
<text x="597.61" y="1087.94" fill="#262626" stroke="#262626">0.003</text>
<text x="643.13" y="1087.94" fill="#262626" stroke="#262626">8e-06</text>
<text x="688.66" y="1087.94" fill="#fff" stroke="#fff">0.902</text>
<text x="734.19" y="1087.94" fill="#262626" stroke="#262626">0.012</text>
<text x="779.72" y="1087.94" fill="#262626" stroke="#262626">3e-05</text>
<text x="825.26" y="1087.94" fill="#fff" stroke="#fff">0.738</text>
<text x="870.79" y="1087.94" fill="#fff" stroke="#fff">0.185</text>
<text x="916.32" y="1087.94" fill="#fff" stroke="#fff">0.691</text>
<text x="961.85" y="1087.94" fill="#fff" stroke="#fff">0.203</text>
<text x="1007.38" y="1087.94" fill="#fff" stroke="#fff">0.852</text>
<text x="1052.90" y="1087.94" fill="#fff" stroke="#fff">0.916</text>
<text x="187.83" y="1107.52" fill="#fff" stroke="#fff">0.266</text>
<text x="233.37" y="1107.52" fill="#fff" stroke="#fff">0.103</text>
<text x="278.89" y="1107.52" fill="#262626" stroke="#262626">1e-03</text>
<text x="324.43" y="1107.52" fill="#fff" stroke="#fff">0.097</text>
<text x="369.95" y="1107.52" fill="#262626" stroke="#262626">0.025</text>
<text x="415.49" y="1107.52" fill="#262626" stroke="#262626">0.005</text>
<text x="461.01" y="1107.52" fill="#262626" stroke="#262626">0.015</text>
<text x="506.55" y="1107.52" fill="#262626" stroke="#262626">0.002</text>
<text x="552.08" y="1107.52" fill="#fff" stroke="#fff">0.105</text>
<text x="597.61" y="1107.52" fill="#262626" stroke="#262626">0.021</text>
<text x="643.13" y="1107.52" fill="#262626" stroke="#262626">0.001</text>
<text x="688.66" y="1107.52" fill="#262626" stroke="#262626">0.043</text>
<text x="734.19" y="1107.52" fill="#262626" stroke="#262626">0.007</text>
<text x="779.72" y="1107.52" fill="#262626" stroke="#262626">2e-04</text>
<text x="825.26" y="1107.52" fill="#fff" stroke="#fff">0.078</text>
<text x="870.79" y="1107.52" fill="#fff" stroke="#fff">0.293</text>
<text x="916.32" y="1107.52" fill="#fff" stroke="#fff">0.216</text>
<text x="961.85" y="1107.52" fill="#fff" stroke="#fff">0.778</text>
<text x="1007.38" y="1107.52" fill="#fff" stroke="#fff">0.441</text>
<text x="1052.90" y="1107.52" fill="#fff" stroke="#fff">0.233</text>
<text x="187.83" y="1127.11" fill="#fff" stroke="#fff">0.013</text>
<text x="233.37" y="1127.11" fill="#fff" stroke="#fff">0.012</text>
<text x="278.89" y="1127.11" fill="#262626" stroke="#262626">0.031</text>
<text x="324.43" y="1127.11" fill="#fff" stroke="#fff">0.123</text>
<text x="369.95" y="1127.11" fill="#fff" stroke="#fff">0.753</text>
<text x="415.49" y="1127.11" fill="#fff" stroke="#fff">0.634</text>
<text x="461.01" y="1127.11" fill="#fff" stroke="#fff">0.847</text>
<text x="506.55" y="1127.11" fill="#fff" stroke="#fff">0.661</text>
<text x="552.08" y="1127.11" fill="#fff" stroke="#fff">0.992</text>
<text x="597.61" y="1127.11" fill="#fff" stroke="#fff">0.933</text>
<text x="643.13" y="1127.11" fill="#262626" stroke="#262626">0.002</text>
<text x="688.66" y="1127.11" fill="#fff" stroke="#fff">0.048</text>
<text x="734.19" y="1127.11" fill="#fff" stroke="#fff">0.320</text>
<text x="779.72" y="1127.11" fill="#262626" stroke="#262626">2e-04</text>
<text x="825.26" y="1127.11" fill="#fff" stroke="#fff">6e-04</text>
<text x="870.79" y="1127.11" fill="#fff" stroke="#fff">0.004</text>
<text x="916.32" y="1127.11" fill="#fff" stroke="#fff">0.001</text>
<text x="961.85" y="1127.11" fill="#fff" stroke="#fff">0.009</text>
<text x="1007.38" y="1127.11" fill="#fff" stroke="#fff">0.002</text>
<text x="1052.90" y="1127.11" fill="#fff" stroke="#fff">0.003</text>
<text x="187.83" y="1146.68" fill="#262626" stroke="#262626">2e-12</text>
<text x="233.37" y="1146.68" fill="#262626" stroke="#262626">4e-23</text>
<text x="278.89" y="1146.68" fill="#262626" stroke="#262626">5e-10</text>
<text x="324.43" y="1146.68" fill="#262626" stroke="#262626">1e-13</text>
<text x="369.95" y="1146.68" fill="#262626" stroke="#262626">2e-16</text>
<text x="415.49" y="1146.68" fill="#262626" stroke="#262626">5e-15</text>
<text x="461.01" y="1146.68" fill="#262626" stroke="#262626">6e-08</text>
<text x="506.55" y="1146.68" fill="#262626" stroke="#262626">3e-14</text>
<text x="552.08" y="1146.68" fill="#262626" stroke="#262626">2e-11</text>
<text x="597.61" y="1146.68" fill="#262626" stroke="#262626">1e-15</text>
<text x="643.13" y="1146.68" fill="#262626" stroke="#262626">2e-08</text>
<text x="688.66" y="1146.68" fill="#262626" stroke="#262626">7e-12</text>
<text x="734.19" y="1146.68" fill="#262626" stroke="#262626">1e-10</text>
<text x="779.72" y="1146.68" fill="#262626" stroke="#262626">1e-10</text>
<text x="825.26" y="1146.68" fill="#262626" stroke="#262626">5e-11</text>
<text x="870.79" y="1146.68" fill="#262626" stroke="#262626">2e-19</text>
<text x="916.32" y="1146.68" fill="#262626" stroke="#262626">1e-16</text>
<text x="961.85" y="1146.68" fill="#262626" stroke="#262626">1e-09</text>
<text x="1007.38" y="1146.68" fill="#262626" stroke="#262626">5e-17</text>
<text x="1052.90" y="1146.68" fill="#262626" stroke="#262626">7e-20</text>
<text x="187.83" y="1166.26" fill="#fff" stroke="#fff">0.934</text>
<text x="233.37" y="1166.26" fill="#fff" stroke="#fff">0.366</text>
<text x="278.89" y="1166.26" fill="#fff" stroke="#fff">0.484</text>
<text x="324.43" y="1166.26" fill="#fff" stroke="#fff">0.820</text>
<text x="369.95" y="1166.26" fill="#fff" stroke="#fff">0.937</text>
<text x="415.49" y="1166.26" fill="#fff" stroke="#fff">0.987</text>
<text x="461.01" y="1166.26" fill="#fff" stroke="#fff">0.234</text>
<text x="506.55" y="1166.26" fill="#fff" stroke="#fff">0.650</text>
<text x="552.08" y="1166.26" fill="#fff" stroke="#fff">0.415</text>
<text x="597.61" y="1166.26" fill="#fff" stroke="#fff">0.829</text>
<text x="643.13" y="1166.26" fill="#fff" stroke="#fff">0.066</text>
<text x="688.66" y="1166.26" fill="#fff" stroke="#fff">0.065</text>
<text x="734.19" y="1166.26" fill="#fff" stroke="#fff">0.212</text>
<text x="779.72" y="1166.26" fill="#262626" stroke="#262626">0.001</text>
<text x="825.26" y="1166.26" fill="#fff" stroke="#fff">0.144</text>
<text x="870.79" y="1166.26" fill="#fff" stroke="#fff">0.848</text>
<text x="916.32" y="1166.26" fill="#fff" stroke="#fff">0.637</text>
<text x="961.85" y="1166.26" fill="#fff" stroke="#fff">0.591</text>
<text x="1007.38" y="1166.26" fill="#fff" stroke="#fff">0.194</text>
<text x="1052.90" y="1166.26" fill="#fff" stroke="#fff">0.559</text>
<text x="187.83" y="1185.85" fill="#fff" stroke="#fff">0.001</text>
<text x="233.37" y="1185.85" fill="#fff" stroke="#fff">0.043</text>
<text x="278.89" y="1185.85" fill="#fff" stroke="#fff">0.076</text>
<text x="324.43" y="1185.85" fill="#fff" stroke="#fff">0.939</text>
<text x="369.95" y="1185.85" fill="#fff" stroke="#fff">0.347</text>
<text x="415.49" y="1185.85" fill="#fff" stroke="#fff">0.150</text>
<text x="461.01" y="1185.85" fill="#fff" stroke="#fff">0.413</text>
<text x="506.55" y="1185.85" fill="#fff" stroke="#fff">0.304</text>
<text x="552.08" y="1185.85" fill="#fff" stroke="#fff">0.406</text>
<text x="597.61" y="1185.85" fill="#fff" stroke="#fff">0.176</text>
<text x="643.13" y="1185.85" fill="#262626" stroke="#262626">0.009</text>
<text x="688.66" y="1185.85" fill="#fff" stroke="#fff">0.445</text>
<text x="734.19" y="1185.85" fill="#fff" stroke="#fff">0.484</text>
<text x="779.72" y="1185.85" fill="#262626" stroke="#262626">0.002</text>
<text x="825.26" y="1185.85" fill="#fff" stroke="#fff">0.001</text>
<text x="870.79" y="1185.85" fill="#fff" stroke="#fff">6e-04</text>
<text x="916.32" y="1185.85" fill="#fff" stroke="#fff">9e-05</text>
<text x="961.85" y="1185.85" fill="#fff" stroke="#fff">6e-04</text>
<text x="1007.38" y="1185.85" fill="#fff" stroke="#fff">0.015</text>
<text x="1052.90" y="1185.85" fill="#fff" stroke="#fff">3e-04</text>
<text x="187.83" y="1205.42" fill="#fff" stroke="#fff">0.273</text>
<text x="233.37" y="1205.42" fill="#fff" stroke="#fff">0.360</text>
<text x="278.89" y="1205.42" fill="#fff" stroke="#fff">0.565</text>
<text x="324.43" y="1205.42" fill="#262626" stroke="#262626">0.004</text>
<text x="369.95" y="1205.42" fill="#fff" stroke="#fff">0.389</text>
<text x="415.49" y="1205.42" fill="#fff" stroke="#fff">0.159</text>
<text x="461.01" y="1205.42" fill="#fff" stroke="#fff">0.136</text>
<text x="506.55" y="1205.42" fill="#fff" stroke="#fff">0.749</text>
<text x="552.08" y="1205.42" fill="#fff" stroke="#fff">0.076</text>
<text x="597.61" y="1205.42" fill="#fff" stroke="#fff">0.878</text>
<text x="643.13" y="1205.42" fill="#fff" stroke="#fff">0.609</text>
<text x="688.66" y="1205.42" fill="#fff" stroke="#fff">0.878</text>
<text x="734.19" y="1205.42" fill="#fff" stroke="#fff">0.522</text>
<text x="779.72" y="1205.42" fill="#fff" stroke="#fff">0.193</text>
<text x="825.26" y="1205.42" fill="#fff" stroke="#fff">0.903</text>
<text x="870.79" y="1205.42" fill="#fff" stroke="#fff">0.215</text>
<text x="916.32" y="1205.42" fill="#fff" stroke="#fff">0.756</text>
<text x="961.85" y="1205.42" fill="#fff" stroke="#fff">0.818</text>
<text x="1007.38" y="1205.42" fill="#fff" stroke="#fff">0.042</text>
<text x="1052.90" y="1205.42" fill="#fff" stroke="#fff">0.890</text>
<text x="187.83" y="1225.00" fill="#fff" stroke="#fff">0.878</text>
<text x="233.37" y="1225.00" fill="#fff" stroke="#fff">0.816</text>
<text x="278.89" y="1225.00" fill="#fff" stroke="#fff">0.199</text>
<text x="324.43" y="1225.00" fill="#fff" stroke="#fff">0.959</text>
<text x="369.95" y="1225.00" fill="#fff" stroke="#fff">0.147</text>
<text x="415.49" y="1225.00" fill="#fff" stroke="#fff">0.637</text>
<text x="461.01" y="1225.00" fill="#fff" stroke="#fff">0.445</text>
<text x="506.55" y="1225.00" fill="#fff" stroke="#fff">0.354</text>
<text x="552.08" y="1225.00" fill="#fff" stroke="#fff">0.782</text>
<text x="597.61" y="1225.00" fill="#fff" stroke="#fff">0.075</text>
<text x="643.13" y="1225.00" fill="#fff" stroke="#fff">0.104</text>
<text x="688.66" y="1225.00" fill="#fff" stroke="#fff">0.824</text>
<text x="734.19" y="1225.00" fill="#fff" stroke="#fff">0.113</text>
<text x="779.72" y="1225.00" fill="#262626" stroke="#262626">0.025</text>
<text x="825.26" y="1225.00" fill="#fff" stroke="#fff">0.038</text>
<text x="870.79" y="1225.00" fill="#fff" stroke="#fff">0.090</text>
<text x="916.32" y="1225.00" fill="#fff" stroke="#fff">0.523</text>
<text x="961.85" y="1225.00" fill="#fff" stroke="#fff">0.677</text>
<text x="1007.38" y="1225.00" fill="#fff" stroke="#fff">0.828</text>
<text x="1052.90" y="1225.00" fill="#fff" stroke="#fff">0.911</text>
<text x="187.83" y="1244.59" fill="#fff" stroke="#fff">0.987</text>
<text x="233.37" y="1244.59" fill="#262626" stroke="#262626">0.020</text>
<text x="278.89" y="1244.59" fill="#fff" stroke="#fff">0.137</text>
<text x="324.43" y="1244.59" fill="#262626" stroke="#262626">0.021</text>
<text x="369.95" y="1244.59" fill="#fff" stroke="#fff">0.054</text>
<text x="415.49" y="1244.59" fill="#fff" stroke="#fff">0.231</text>
<text x="461.01" y="1244.59" fill="#262626" stroke="#262626">0.015</text>
<text x="506.55" y="1244.59" fill="#fff" stroke="#fff">0.052</text>
<text x="552.08" y="1244.59" fill="#fff" stroke="#fff">0.526</text>
<text x="597.61" y="1244.59" fill="#fff" stroke="#fff">0.096</text>
<text x="643.13" y="1244.59" fill="#fff" stroke="#fff">0.910</text>
<text x="688.66" y="1244.59" fill="#fff" stroke="#fff">0.585</text>
<text x="734.19" y="1244.59" fill="#262626" stroke="#262626">0.006</text>
<text x="779.72" y="1244.59" fill="#fff" stroke="#fff">0.643</text>
<text x="825.26" y="1244.59" fill="#fff" stroke="#fff">0.705</text>
<text x="870.79" y="1244.59" fill="#fff" stroke="#fff">0.104</text>
<text x="916.32" y="1244.59" fill="#fff" stroke="#fff">0.628</text>
<text x="961.85" y="1244.59" fill="#fff" stroke="#fff">0.929</text>
<text x="1007.38" y="1244.59" fill="#fff" stroke="#fff">0.310</text>
<text x="1052.90" y="1244.59" fill="#fff" stroke="#fff">0.094</text>
<text x="187.83" y="1264.16" fill="#fff" stroke="#fff">7e-04</text>
<text x="233.37" y="1264.16" fill="#fff" stroke="#fff">0.881</text>
<text x="278.89" y="1264.16" fill="#fff" stroke="#fff">0.109</text>
<text x="324.43" y="1264.16" fill="#fff" stroke="#fff">0.122</text>
<text x="369.95" y="1264.16" fill="#fff" stroke="#fff">0.043</text>
<text x="415.49" y="1264.16" fill="#fff" stroke="#fff">0.007</text>
<text x="461.01" y="1264.16" fill="#fff" stroke="#fff">0.231</text>
<text x="506.55" y="1264.16" fill="#fff" stroke="#fff">0.188</text>
<text x="552.08" y="1264.16" fill="#fff" stroke="#fff">0.003</text>
<text x="597.61" y="1264.16" fill="#fff" stroke="#fff">0.004</text>
<text x="643.13" y="1264.16" fill="#fff" stroke="#fff">0.187</text>
<text x="688.66" y="1264.16" fill="#fff" stroke="#fff">0.019</text>
<text x="734.19" y="1264.16" fill="#fff" stroke="#fff">0.117</text>
<text x="779.72" y="1264.16" fill="#fff" stroke="#fff">0.696</text>
<text x="825.26" y="1264.16" fill="#fff" stroke="#fff">2e-04</text>
<text x="870.79" y="1264.16" fill="#fff" stroke="#fff">0.006</text>
<text x="916.32" y="1264.16" fill="#fff" stroke="#fff">4e-04</text>
<text x="961.85" y="1264.16" fill="#fff" stroke="#fff">6e-04</text>
<text x="1007.38" y="1264.16" fill="#fff" stroke="#fff">0.164</text>
<text x="1052.90" y="1264.16" fill="#fff" stroke="#fff">0.010</text>
<text x="187.83" y="1283.74" fill="#fff" stroke="#fff">0.828</text>
<text x="233.37" y="1283.74" fill="#fff" stroke="#fff">0.576</text>
<text x="278.89" y="1283.74" fill="#fff" stroke="#fff">0.765</text>
<text x="324.43" y="1283.74" fill="#fff" stroke="#fff">0.536</text>
<text x="369.95" y="1283.74" fill="#fff" stroke="#fff">0.857</text>
<text x="415.49" y="1283.74" fill="#fff" stroke="#fff">0.087</text>
<text x="461.01" y="1283.74" fill="#fff" stroke="#fff">0.241</text>
<text x="506.55" y="1283.74" fill="#fff" stroke="#fff">0.650</text>
<text x="552.08" y="1283.74" fill="#fff" stroke="#fff">0.294</text>
<text x="597.61" y="1283.74" fill="#fff" stroke="#fff">0.128</text>
<text x="643.13" y="1283.74" fill="#fff" stroke="#fff">0.385</text>
<text x="688.66" y="1283.74" fill="#fff" stroke="#fff">0.899</text>
<text x="734.19" y="1283.74" fill="#fff" stroke="#fff">0.112</text>
<text x="779.72" y="1283.74" fill="#fff" stroke="#fff">0.373</text>
<text x="825.26" y="1283.74" fill="#fff" stroke="#fff">0.363</text>
<text x="870.79" y="1283.74" fill="#fff" stroke="#fff">0.129</text>
<text x="916.32" y="1283.74" fill="#fff" stroke="#fff">0.368</text>
<text x="961.85" y="1283.74" fill="#fff" stroke="#fff">0.517</text>
<text x="1007.38" y="1283.74" fill="#fff" stroke="#fff">0.380</text>
<text x="1052.90" y="1283.74" fill="#fff" stroke="#fff">0.682</text>
<text x="187.83" y="1303.32" fill="#262626" stroke="#262626">0.015</text>
<text x="233.37" y="1303.32" fill="#fff" stroke="#fff">0.163</text>
<text x="278.89" y="1303.32" fill="#fff" stroke="#fff">0.113</text>
<text x="324.43" y="1303.32" fill="#262626" stroke="#262626">1e-04</text>
<text x="369.95" y="1303.32" fill="#fff" stroke="#fff">0.360</text>
<text x="415.49" y="1303.32" fill="#fff" stroke="#fff">0.129</text>
<text x="461.01" y="1303.32" fill="#262626" stroke="#262626">0.002</text>
<text x="506.55" y="1303.32" fill="#fff" stroke="#fff">0.428</text>
<text x="552.08" y="1303.32" fill="#262626" stroke="#262626">0.045</text>
<text x="597.61" y="1303.32" fill="#262626" stroke="#262626">0.001</text>
<text x="643.13" y="1303.32" fill="#fff" stroke="#fff">0.434</text>
<text x="688.66" y="1303.32" fill="#262626" stroke="#262626">0.047</text>
<text x="734.19" y="1303.32" fill="#262626" stroke="#262626">0.037</text>
<text x="779.72" y="1303.32" fill="#fff" stroke="#fff">0.690</text>
<text x="825.26" y="1303.32" fill="#fff" stroke="#fff">0.206</text>
<text x="870.79" y="1303.32" fill="#fff" stroke="#fff">0.297</text>
<text x="916.32" y="1303.32" fill="#fff" stroke="#fff">0.623</text>
<text x="961.85" y="1303.32" fill="#fff" stroke="#fff">0.127</text>
<text x="1007.38" y="1303.32" fill="#fff" stroke="#fff">0.281</text>
<text x="1052.90" y="1303.32" fill="#fff" stroke="#fff">0.054</text>
<text x="187.83" y="1322.90" fill="#262626" stroke="#262626">0.007</text>
<text x="233.37" y="1322.90" fill="#262626" stroke="#262626">0.035</text>
<text x="278.89" y="1322.90" fill="#fff" stroke="#fff">0.403</text>
<text x="324.43" y="1322.90" fill="#262626" stroke="#262626">0.003</text>
<text x="369.95" y="1322.90" fill="#262626" stroke="#262626">0.042</text>
<text x="415.49" y="1322.90" fill="#fff" stroke="#fff">0.128</text>
<text x="461.01" y="1322.90" fill="#fff" stroke="#fff">0.468</text>
<text x="506.55" y="1322.90" fill="#fff" stroke="#fff">0.092</text>
<text x="552.08" y="1322.90" fill="#fff" stroke="#fff">0.264</text>
<text x="597.61" y="1322.90" fill="#fff" stroke="#fff">0.209</text>
<text x="643.13" y="1322.90" fill="#fff" stroke="#fff">0.827</text>
<text x="688.66" y="1322.90" fill="#262626" stroke="#262626">0.036</text>
<text x="734.19" y="1322.90" fill="#fff" stroke="#fff">0.402</text>
<text x="779.72" y="1322.90" fill="#fff" stroke="#fff">0.521</text>
<text x="825.26" y="1322.90" fill="#262626" stroke="#262626">0.003</text>
<text x="870.79" y="1322.90" fill="#262626" stroke="#262626">0.004</text>
<text x="916.32" y="1322.90" fill="#fff" stroke="#fff">0.152</text>
<text x="961.85" y="1322.90" fill="#262626" stroke="#262626">0.014</text>
<text x="1007.38" y="1322.90" fill="#fff" stroke="#fff">0.146</text>
<text x="1052.90" y="1322.90" fill="#262626" stroke="#262626">0.005</text>
<text x="187.83" y="1342.48" fill="#fff" stroke="#fff">0.362</text>
<text x="233.37" y="1342.48" fill="#fff" stroke="#fff">0.717</text>
<text x="278.89" y="1342.48" fill="#fff" stroke="#fff">0.792</text>
<text x="324.43" y="1342.48" fill="#fff" stroke="#fff">0.437</text>
<text x="369.95" y="1342.48" fill="#fff" stroke="#fff">0.404</text>
<text x="415.49" y="1342.48" fill="#fff" stroke="#fff">0.137</text>
<text x="461.01" y="1342.48" fill="#fff" stroke="#fff">0.301</text>
<text x="506.55" y="1342.48" fill="#fff" stroke="#fff">0.608</text>
<text x="552.08" y="1342.48" fill="#fff" stroke="#fff">0.799</text>
<text x="597.61" y="1342.48" fill="#fff" stroke="#fff">0.642</text>
<text x="643.13" y="1342.48" fill="#fff" stroke="#fff">0.290</text>
<text x="688.66" y="1342.48" fill="#fff" stroke="#fff">0.177</text>
<text x="734.19" y="1342.48" fill="#fff" stroke="#fff">0.419</text>
<text x="779.72" y="1342.48" fill="#fff" stroke="#fff">0.190</text>
<text x="825.26" y="1342.48" fill="#fff" stroke="#fff">0.637</text>
<text x="870.79" y="1342.48" fill="#fff" stroke="#fff">0.073</text>
<text x="916.32" y="1342.48" fill="#fff" stroke="#fff">0.969</text>
<text x="961.85" y="1342.48" fill="#fff" stroke="#fff">0.265</text>
<text x="1007.38" y="1342.48" fill="#fff" stroke="#fff">0.660</text>
<text x="1052.90" y="1342.48" fill="#fff" stroke="#fff">0.416</text>
<text x="187.83" y="1362.07" fill="#fff" stroke="#fff">0.146</text>
<text x="233.37" y="1362.07" fill="#fff" stroke="#fff">0.345</text>
<text x="278.89" y="1362.07" fill="#fff" stroke="#fff">0.095</text>
<text x="324.43" y="1362.07" fill="#fff" stroke="#fff">0.738</text>
<text x="369.95" y="1362.07" fill="#fff" stroke="#fff">0.668</text>
<text x="415.49" y="1362.07" fill="#262626" stroke="#262626">0.018</text>
<text x="461.01" y="1362.07" fill="#fff" stroke="#fff">0.074</text>
<text x="506.55" y="1362.07" fill="#fff" stroke="#fff">0.576</text>
<text x="552.08" y="1362.07" fill="#fff" stroke="#fff">0.225</text>
<text x="597.61" y="1362.07" fill="#fff" stroke="#fff">0.215</text>
<text x="643.13" y="1362.07" fill="#262626" stroke="#262626">0.015</text>
<text x="688.66" y="1362.07" fill="#fff" stroke="#fff">0.214</text>
<text x="734.19" y="1362.07" fill="#fff" stroke="#fff">0.340</text>
<text x="779.72" y="1362.07" fill="#262626" stroke="#262626">0.004</text>
<text x="825.26" y="1362.07" fill="#fff" stroke="#fff">0.030</text>
<text x="870.79" y="1362.07" fill="#fff" stroke="#fff">0.622</text>
<text x="916.32" y="1362.07" fill="#fff" stroke="#fff">0.246</text>
<text x="961.85" y="1362.07" fill="#fff" stroke="#fff">0.026</text>
<text x="1007.38" y="1362.07" fill="#fff" stroke="#fff">0.620</text>
<text x="1052.90" y="1362.07" fill="#fff" stroke="#fff">0.551</text>
<text x="187.83" y="1381.64" fill="#fff" stroke="#fff">0.820</text>
<text x="233.37" y="1381.64" fill="#fff" stroke="#fff">0.337</text>
<text x="278.89" y="1381.64" fill="#fff" stroke="#fff">0.294</text>
<text x="324.43" y="1381.64" fill="#fff" stroke="#fff">0.288</text>
<text x="369.95" y="1381.64" fill="#fff" stroke="#fff">0.161</text>
<text x="415.49" y="1381.64" fill="#fff" stroke="#fff">0.843</text>
<text x="461.01" y="1381.64" fill="#fff" stroke="#fff">0.151</text>
<text x="506.55" y="1381.64" fill="#fff" stroke="#fff">0.590</text>
<text x="552.08" y="1381.64" fill="#fff" stroke="#fff">0.384</text>
<text x="597.61" y="1381.64" fill="#fff" stroke="#fff">0.494</text>
<text x="643.13" y="1381.64" fill="#fff" stroke="#fff">0.129</text>
<text x="688.66" y="1381.64" fill="#fff" stroke="#fff">0.217</text>
<text x="734.19" y="1381.64" fill="#fff" stroke="#fff">1.000</text>
<text x="779.72" y="1381.64" fill="#fff" stroke="#fff">0.090</text>
<text x="825.26" y="1381.64" fill="#fff" stroke="#fff">0.345</text>
<text x="870.79" y="1381.64" fill="#fff" stroke="#fff">0.979</text>
<text x="916.32" y="1381.64" fill="#fff" stroke="#fff">0.858</text>
<text x="961.85" y="1381.64" fill="#fff" stroke="#fff">0.560</text>
<text x="1007.38" y="1381.64" fill="#fff" stroke="#fff">0.311</text>
<text x="1052.90" y="1381.64" fill="#fff" stroke="#fff">0.417</text>
<text x="187.83" y="1401.22" fill="#fff" stroke="#fff">0.983</text>
<text x="233.37" y="1401.22" fill="#fff" stroke="#fff">0.553</text>
<text x="278.89" y="1401.22" fill="#fff" stroke="#fff">0.166</text>
<text x="324.43" y="1401.22" fill="#fff" stroke="#fff">0.186</text>
<text x="369.95" y="1401.22" fill="#fff" stroke="#fff">0.293</text>
<text x="415.49" y="1401.22" fill="#fff" stroke="#fff">0.427</text>
<text x="461.01" y="1401.22" fill="#fff" stroke="#fff">0.054</text>
<text x="506.55" y="1401.22" fill="#fff" stroke="#fff">0.493</text>
<text x="552.08" y="1401.22" fill="#fff" stroke="#fff">0.117</text>
<text x="597.61" y="1401.22" fill="#262626" stroke="#262626">0.022</text>
<text x="643.13" y="1401.22" fill="#fff" stroke="#fff">0.880</text>
<text x="688.66" y="1401.22" fill="#fff" stroke="#fff">0.228</text>
<text x="734.19" y="1401.22" fill="#fff" stroke="#fff">0.089</text>
<text x="779.72" y="1401.22" fill="#fff" stroke="#fff">0.498</text>
<text x="825.26" y="1401.22" fill="#fff" stroke="#fff">0.515</text>
<text x="870.79" y="1401.22" fill="#fff" stroke="#fff">0.870</text>
<text x="916.32" y="1401.22" fill="#fff" stroke="#fff">0.426</text>
<text x="961.85" y="1401.22" fill="#fff" stroke="#fff">0.419</text>
<text x="1007.38" y="1401.22" fill="#fff" stroke="#fff">0.621</text>
<text x="1052.90" y="1401.22" fill="#fff" stroke="#fff">0.895</text>
<text x="187.83" y="1420.80" fill="#fff" stroke="#fff">0.661</text>
<text x="233.37" y="1420.80" fill="#fff" stroke="#fff">0.692</text>
<text x="278.89" y="1420.80" fill="#fff" stroke="#fff">0.971</text>
<text x="324.43" y="1420.80" fill="#fff" stroke="#fff">0.974</text>
<text x="369.95" y="1420.80" fill="#fff" stroke="#fff">0.857</text>
<text x="415.49" y="1420.80" fill="#fff" stroke="#fff">0.773</text>
<text x="461.01" y="1420.80" fill="#fff" stroke="#fff">0.471</text>
<text x="506.55" y="1420.80" fill="#fff" stroke="#fff">0.435</text>
<text x="552.08" y="1420.80" fill="#fff" stroke="#fff">0.299</text>
<text x="597.61" y="1420.80" fill="#fff" stroke="#fff">0.527</text>
<text x="643.13" y="1420.80" fill="#fff" stroke="#fff">0.430</text>
<text x="688.66" y="1420.80" fill="#fff" stroke="#fff">0.677</text>
<text x="734.19" y="1420.80" fill="#fff" stroke="#fff">0.887</text>
<text x="779.72" y="1420.80" fill="#fff" stroke="#fff">0.338</text>
<text x="825.26" y="1420.80" fill="#fff" stroke="#fff">0.904</text>
<text x="870.79" y="1420.80" fill="#fff" stroke="#fff">0.652</text>
<text x="916.32" y="1420.80" fill="#fff" stroke="#fff">0.836</text>
<text x="961.85" y="1420.80" fill="#fff" stroke="#fff">0.257</text>
<text x="1007.38" y="1420.80" fill="#fff" stroke="#fff">0.325</text>
<text x="1052.90" y="1420.80" fill="#fff" stroke="#fff">0.371</text>
<text x="187.83" y="1440.38" fill="#fff" stroke="#fff">0.738</text>
<text x="233.37" y="1440.38" fill="#fff" stroke="#fff">0.827</text>
<text x="278.89" y="1440.38" fill="#fff" stroke="#fff">0.255</text>
<text x="324.43" y="1440.38" fill="#fff" stroke="#fff">0.345</text>
<text x="369.95" y="1440.38" fill="#fff" stroke="#fff">0.084</text>
<text x="415.49" y="1440.38" fill="#fff" stroke="#fff">0.348</text>
<text x="461.01" y="1440.38" fill="#fff" stroke="#fff">0.104</text>
<text x="506.55" y="1440.38" fill="#fff" stroke="#fff">0.185</text>
<text x="552.08" y="1440.38" fill="#fff" stroke="#fff">0.444</text>
<text x="597.61" y="1440.38" fill="#fff" stroke="#fff">0.296</text>
<text x="643.13" y="1440.38" fill="#fff" stroke="#fff">0.956</text>
<text x="688.66" y="1440.38" fill="#fff" stroke="#fff">0.080</text>
<text x="734.19" y="1440.38" fill="#262626" stroke="#262626">0.047</text>
<text x="779.72" y="1440.38" fill="#fff" stroke="#fff">0.098</text>
<text x="825.26" y="1440.38" fill="#fff" stroke="#fff">0.755</text>
<text x="870.79" y="1440.38" fill="#fff" stroke="#fff">0.798</text>
<text x="916.32" y="1440.38" fill="#fff" stroke="#fff">0.660</text>
<text x="961.85" y="1440.38" fill="#fff" stroke="#fff">0.665</text>
<text x="1007.38" y="1440.38" fill="#fff" stroke="#fff">0.638</text>
<text x="1052.90" y="1440.38" fill="#fff" stroke="#fff">0.820</text>
<text x="187.83" y="1459.96" fill="#fff" stroke="#fff">6e-04</text>
<text x="233.37" y="1459.96" fill="#fff" stroke="#fff">1e-04</text>
<text x="278.89" y="1459.96" fill="#fff" stroke="#fff">4e-13</text>
<text x="324.43" y="1459.96" fill="#fff" stroke="#fff">0.797</text>
<text x="369.95" y="1459.96" fill="#262626" stroke="#262626">4e-06</text>
<text x="415.49" y="1459.96" fill="#fff" stroke="#fff">3e-04</text>
<text x="461.01" y="1459.96" fill="#262626" stroke="#262626">2e-07</text>
<text x="506.55" y="1459.96" fill="#262626" stroke="#262626">2e-10</text>
<text x="552.08" y="1459.96" fill="#fff" stroke="#fff">0.914</text>
<text x="597.61" y="1459.96" fill="#262626" stroke="#262626">0.007</text>
<text x="643.13" y="1459.96" fill="#262626" stroke="#262626">0.030</text>
<text x="688.66" y="1459.96" fill="#262626" stroke="#262626">5e-08</text>
<text x="734.19" y="1459.96" fill="#262626" stroke="#262626">6e-25</text>
<text x="779.72" y="1459.96" fill="#262626" stroke="#262626">4e-20</text>
<text x="825.26" y="1459.96" fill="#fff" stroke="#fff">3e-22</text>
<text x="870.79" y="1459.96" fill="#fff" stroke="#fff">1e-07</text>
<text x="916.32" y="1459.96" fill="#fff" stroke="#fff">2e-27</text>
<text x="961.85" y="1459.96" fill="#fff" stroke="#fff">4e-14</text>
<text x="1007.38" y="1459.96" fill="#fff" stroke="#fff">4e-13</text>
<text x="1052.90" y="1459.96" fill="#fff" stroke="#fff">2e-06</text>
<text x="187.83" y="1479.54" fill="#fff" stroke="#fff">9e-04</text>
<text x="233.37" y="1479.54" fill="#fff" stroke="#fff">0.481</text>
<text x="278.89" y="1479.54" fill="#fff" stroke="#fff">0.211</text>
<text x="324.43" y="1479.54" fill="#fff" stroke="#fff">0.195</text>
<text x="369.95" y="1479.54" fill="#fff" stroke="#fff">0.368</text>
<text x="415.49" y="1479.54" fill="#fff" stroke="#fff">0.412</text>
<text x="461.01" y="1479.54" fill="#fff" stroke="#fff">2e-05</text>
<text x="506.55" y="1479.54" fill="#fff" stroke="#fff">0.245</text>
<text x="552.08" y="1479.54" fill="#fff" stroke="#fff">0.219</text>
<text x="597.61" y="1479.54" fill="#fff" stroke="#fff">0.240</text>
<text x="643.13" y="1479.54" fill="#262626" stroke="#262626">1e-08</text>
<text x="688.66" y="1479.54" fill="#fff" stroke="#fff">0.055</text>
<text x="734.19" y="1479.54" fill="#262626" stroke="#262626">0.023</text>
<text x="779.72" y="1479.54" fill="#262626" stroke="#262626">7e-13</text>
<text x="825.26" y="1479.54" fill="#fff" stroke="#fff">0.007</text>
<text x="870.79" y="1479.54" fill="#fff" stroke="#fff">0.005</text>
<text x="916.32" y="1479.54" fill="#fff" stroke="#fff">0.003</text>
<text x="961.85" y="1479.54" fill="#fff" stroke="#fff">3e-07</text>
<text x="1007.38" y="1479.54" fill="#fff" stroke="#fff">0.092</text>
<text x="1052.90" y="1479.54" fill="#fff" stroke="#fff">0.100</text>
<text x="187.83" y="1499.12" fill="#fff" stroke="#fff">0.428</text>
<text x="233.37" y="1499.12" fill="#fff" stroke="#fff">0.881</text>
<text x="278.89" y="1499.12" fill="#262626" stroke="#262626">4e-04</text>
<text x="324.43" y="1499.12" fill="#262626" stroke="#262626">0.041</text>
<text x="369.95" y="1499.12" fill="#fff" stroke="#fff">0.262</text>
<text x="415.49" y="1499.12" fill="#262626" stroke="#262626">0.010</text>
<text x="461.01" y="1499.12" fill="#fff" stroke="#fff">0.296</text>
<text x="506.55" y="1499.12" fill="#262626" stroke="#262626">5e-04</text>
<text x="552.08" y="1499.12" fill="#fff" stroke="#fff">0.275</text>
<text x="597.61" y="1499.12" fill="#fff" stroke="#fff">0.095</text>
<text x="643.13" y="1499.12" fill="#262626" stroke="#262626">5e-07</text>
<text x="688.66" y="1499.12" fill="#262626" stroke="#262626">6e-04</text>
<text x="734.19" y="1499.12" fill="#262626" stroke="#262626">0.017</text>
<text x="779.72" y="1499.12" fill="#262626" stroke="#262626">2e-04</text>
<text x="825.26" y="1499.12" fill="#fff" stroke="#fff">0.185</text>
<text x="870.79" y="1499.12" fill="#fff" stroke="#fff">8e-05</text>
<text x="916.32" y="1499.12" fill="#fff" stroke="#fff">0.058</text>
<text x="961.85" y="1499.12" fill="#fff" stroke="#fff">0.235</text>
<text x="1007.38" y="1499.12" fill="#fff" stroke="#fff">0.014</text>
<text x="1052.90" y="1499.12" fill="#fff" stroke="#fff">0.608</text>
<text x="187.83" y="1518.70" fill="#fff" stroke="#fff">0.011</text>
<text x="233.37" y="1518.70" fill="#fff" stroke="#fff">0.538</text>
<text x="278.89" y="1518.70" fill="#fff" stroke="#fff">0.087</text>
<text x="324.43" y="1518.70" fill="#fff" stroke="#fff">0.237</text>
<text x="369.95" y="1518.70" fill="#fff" stroke="#fff">0.951</text>
<text x="415.49" y="1518.70" fill="#fff" stroke="#fff">0.467</text>
<text x="461.01" y="1518.70" fill="#fff" stroke="#fff">0.408</text>
<text x="506.55" y="1518.70" fill="#fff" stroke="#fff">0.447</text>
<text x="552.08" y="1518.70" fill="#fff" stroke="#fff">0.523</text>
<text x="597.61" y="1518.70" fill="#fff" stroke="#fff">0.144</text>
<text x="643.13" y="1518.70" fill="#262626" stroke="#262626">0.029</text>
<text x="688.66" y="1518.70" fill="#262626" stroke="#262626">0.019</text>
<text x="734.19" y="1518.70" fill="#fff" stroke="#fff">0.744</text>
<text x="779.72" y="1518.70" fill="#262626" stroke="#262626">0.041</text>
<text x="825.26" y="1518.70" fill="#fff" stroke="#fff">0.007</text>
<text x="870.79" y="1518.70" fill="#fff" stroke="#fff">0.047</text>
<text x="916.32" y="1518.70" fill="#fff" stroke="#fff">0.539</text>
<text x="961.85" y="1518.70" fill="#fff" stroke="#fff">0.002</text>
<text x="1007.38" y="1518.70" fill="#fff" stroke="#fff">0.971</text>
<text x="1052.90" y="1518.70" fill="#fff" stroke="#fff">0.178</text>
<text x="187.83" y="1538.28" fill="#fff" stroke="#fff">0.294</text>
<text x="233.37" y="1538.28" fill="#fff" stroke="#fff">0.183</text>
<text x="278.89" y="1538.28" fill="#262626" stroke="#262626">0.014</text>
<text x="324.43" y="1538.28" fill="#fff" stroke="#fff">0.165</text>
<text x="369.95" y="1538.28" fill="#262626" stroke="#262626">6e-04</text>
<text x="415.49" y="1538.28" fill="#fff" stroke="#fff">0.678</text>
<text x="461.01" y="1538.28" fill="#fff" stroke="#fff">0.562</text>
<text x="506.55" y="1538.28" fill="#262626" stroke="#262626">2e-06</text>
<text x="552.08" y="1538.28" fill="#262626" stroke="#262626">0.050</text>
<text x="597.61" y="1538.28" fill="#262626" stroke="#262626">2e-07</text>
<text x="643.13" y="1538.28" fill="#262626" stroke="#262626">1e-07</text>
<text x="688.66" y="1538.28" fill="#262626" stroke="#262626">0.040</text>
<text x="734.19" y="1538.28" fill="#262626" stroke="#262626">1e-11</text>
<text x="779.72" y="1538.28" fill="#262626" stroke="#262626">3e-18</text>
<text x="825.26" y="1538.28" fill="#fff" stroke="#fff">0.014</text>
<text x="870.79" y="1538.28" fill="#fff" stroke="#fff">8e-04</text>
<text x="916.32" y="1538.28" fill="#fff" stroke="#fff">0.038</text>
<text x="961.85" y="1538.28" fill="#fff" stroke="#fff">0.003</text>
<text x="1007.38" y="1538.28" fill="#fff" stroke="#fff">0.009</text>
<text x="1052.90" y="1538.28" fill="#fff" stroke="#fff">0.043</text>
<text x="187.83" y="1557.86" fill="#262626" stroke="#262626">0.002</text>
<text x="233.37" y="1557.86" fill="#262626" stroke="#262626">4e-07</text>
<text x="278.89" y="1557.86" fill="#262626" stroke="#262626">3e-11</text>
<text x="324.43" y="1557.86" fill="#262626" stroke="#262626">2e-11</text>
<text x="369.95" y="1557.86" fill="#262626" stroke="#262626">2e-08</text>
<text x="415.49" y="1557.86" fill="#262626" stroke="#262626">5e-12</text>
<text x="461.01" y="1557.86" fill="#262626" stroke="#262626">5e-13</text>
<text x="506.55" y="1557.86" fill="#262626" stroke="#262626">2e-09</text>
<text x="552.08" y="1557.86" fill="#262626" stroke="#262626">2e-09</text>
<text x="597.61" y="1557.86" fill="#262626" stroke="#262626">0.026</text>
<text x="643.13" y="1557.86" fill="#262626" stroke="#262626">9e-10</text>
<text x="688.66" y="1557.86" fill="#262626" stroke="#262626">5e-22</text>
<text x="734.19" y="1557.86" fill="#262626" stroke="#262626">2e-15</text>
<text x="779.72" y="1557.86" fill="#262626" stroke="#262626">3e-18</text>
<text x="825.26" y="1557.86" fill="#262626" stroke="#262626">2e-04</text>
<text x="870.79" y="1557.86" fill="#262626" stroke="#262626">4e-05</text>
<text x="916.32" y="1557.86" fill="#262626" stroke="#262626">6e-04</text>
<text x="961.85" y="1557.86" fill="#fff" stroke="#fff">0.235</text>
<text x="1007.38" y="1557.86" fill="#262626" stroke="#262626">0.014</text>
<text x="1052.90" y="1557.86" fill="#262626" stroke="#262626">2e-04</text>
<text x="187.83" y="1577.44" fill="#fff" stroke="#fff">0.133</text>
<text x="233.37" y="1577.44" fill="#262626" stroke="#262626">0.020</text>
<text x="278.89" y="1577.44" fill="#fff" stroke="#fff">0.969</text>
<text x="324.43" y="1577.44" fill="#fff" stroke="#fff">0.545</text>
<text x="369.95" y="1577.44" fill="#fff" stroke="#fff">0.219</text>
<text x="415.49" y="1577.44" fill="#262626" stroke="#262626">0.027</text>
<text x="461.01" y="1577.44" fill="#fff" stroke="#fff">0.272</text>
<text x="506.55" y="1577.44" fill="#262626" stroke="#262626">0.017</text>
<text x="552.08" y="1577.44" fill="#262626" stroke="#262626">1e-04</text>
<text x="597.61" y="1577.44" fill="#262626" stroke="#262626">9e-04</text>
<text x="643.13" y="1577.44" fill="#fff" stroke="#fff">0.509</text>
<text x="688.66" y="1577.44" fill="#262626" stroke="#262626">6e-13</text>
<text x="734.19" y="1577.44" fill="#262626" stroke="#262626">5e-07</text>
<text x="779.72" y="1577.44" fill="#262626" stroke="#262626">2e-08</text>
<text x="825.26" y="1577.44" fill="#fff" stroke="#fff">0.225</text>
<text x="870.79" y="1577.44" fill="#fff" stroke="#fff">0.706</text>
<text x="916.32" y="1577.44" fill="#fff" stroke="#fff">0.010</text>
<text x="961.85" y="1577.44" fill="#fff" stroke="#fff">7e-04</text>
<text x="1007.38" y="1577.44" fill="#fff" stroke="#fff">0.790</text>
<text x="1052.90" y="1577.44" fill="#fff" stroke="#fff">0.427</text>
</g>
<g font-size="12.55" text-anchor="end" fill="#000" stroke="#000">
<text x="156.07" y="1029.67">NSCLC Subtyping</text>
<text x="156.07" y="1049.25">LUAD CPTAC EGFR</text>
<text x="156.07" y="1068.83">LUAD CPTAC KRAS</text>
<text x="156.07" y="1088.41">LUAD CPTAC STK11</text>
<text x="156.07" y="1107.99">LUAD CPTAC TP53</text>
<text x="156.07" y="1127.57">STAD Bern MSI</text>
<text x="156.07" y="1147.15">STAD Bern N STATUS</text>
<text x="156.07" y="1166.73">STAD Kiel EBV</text>
<text x="156.07" y="1186.31">STAD Kiel MSI</text>
<text x="156.07" y="1205.89">STAD Kiel N STATUS</text>
<text x="156.07" y="1225.47">STAD Kiel M STATUS</text>
<text x="156.07" y="1245.05">BRCA CPTAC ERBB2</text>
<text x="156.07" y="1264.63">BRCA CPTAC ESR1</text>
<text x="156.07" y="1284.21">BRCA CPTAC PGR</text>
<text x="156.07" y="1303.79">BRCA CPTAC PIK3CA</text>
<text x="156.07" y="1323.37">BRCA IEO N STATUS</text>
<text x="156.07" y="1342.95">CPTAC CRC Sidedness</text>
<text x="156.07" y="1362.53">CRC CPTAC MSI</text>
<text x="156.07" y="1382.11">CRC CPTAC BRAF</text>
<text x="156.07" y="1401.69">CRC CPTAC KRAS</text>
<text x="156.07" y="1421.27">CRC CPTAC PIK3CA</text>
<text x="156.07" y="1440.85">CRC CPTAC N STATUS</text>
<text x="156.07" y="1460.43">DACHS CRC Sidedness</text>
<text x="156.07" y="1480.01">CRC DACHS MSI</text>
<text x="156.07" y="1499.59">CRC DACHS BRAF</text>
<text x="156.07" y="1519.17">CRC DACHS KRAS</text>
<text x="156.07" y="1538.75">CRC DACHS CIMP</text>
<text x="156.07" y="1558.33">CRC DACHS N STATUS</text>
<text x="156.07" y="1577.91">CRC DACHS M STATUS</text>
</g>
<path d="M160.57 1025.79h4.50M160.57 1045.37h4.50M160.57 1064.95h4.50M160.57 1084.53h4.50M160.57 1104.11h4.50M160.57 1123.69h4.50M160.57 1143.27h4.50M160.57 1162.85h4.50M160.57 1182.43h4.50M160.57 1202.01h4.50M160.57 1221.59h4.50M160.57 1241.17h4.50M160.57 1260.75h4.50M160.57 1280.33h4.50M160.57 1299.91h4.50M160.57 1319.49h4.50M160.57 1339.07h4.50M160.57 1358.65h4.50M160.57 1378.23h4.50M160.57 1397.81h4.50M160.57 1417.39h4.50M160.57 1436.97h4.50M160.57 1456.55h4.50M160.57 1476.13h4.50M160.57 1495.71h4.50M160.57 1515.29h4.50M160.57 1534.87h4.50M160.57 1554.45h4.50M160.57 1574.03h4.50" stroke="#111" stroke-width="1.2" fill="none"/>
<path d="M187.83 1583.82v4.50M233.37 1583.82v4.50M278.89 1583.82v4.50M324.43 1583.82v4.50M369.95 1583.82v4.50M415.49 1583.82v4.50M461.01 1583.82v4.50M506.55 1583.82v4.50M552.08 1583.82v4.50M597.61 1583.82v4.50M643.13 1583.82v4.50M688.66 1583.82v4.50M734.19 1583.82v4.50M779.72 1583.82v4.50M825.26 1583.82v4.50M870.79 1583.82v4.50M916.32 1583.82v4.50M961.85 1583.82v4.50M1007.38 1583.82v4.50M1052.90 1583.82v4.50" stroke="#111" stroke-width="1.2" fill="none"/>
<g font-size="12.55" text-anchor="end" fill="#000" stroke="#000">
<text transform="translate(185.71 1599.56) rotate(-45)">Virchow2</text>
<text transform="translate(231.24 1599.56) rotate(-45)">ProvGigaPath</text>
<text transform="translate(276.77 1599.56) rotate(-45)">DinoSSLPath</text>
<text transform="translate(322.30 1599.56) rotate(-45)">H-optimus-0</text>
<text transform="translate(367.83 1599.56) rotate(-45)">UNI</text>
<text transform="translate(413.36 1599.56) rotate(-45)">Panakeia*</text>
<text transform="translate(458.89 1599.56) rotate(-45)">Virchow</text>
<text transform="translate(504.42 1599.56) rotate(-45)">CTransPath</text>
<text transform="translate(549.95 1599.56) rotate(-45)">Hibou-L</text>
<text transform="translate(595.48 1599.56) rotate(-45)">Hibou-B</text>
<text transform="translate(641.01 1599.56) rotate(-45)">BiomedCLIP</text>
<text transform="translate(686.54 1599.56) rotate(-45)">Kaiko</text>
<text transform="translate(732.07 1599.56) rotate(-45)">Phikon</text>
<text transform="translate(777.60 1599.56) rotate(-45)">PLIP</text>
<text transform="translate(823.13 1599.56) rotate(-45)">Concat-CONCH-V2</text>
<text transform="translate(868.66 1599.56) rotate(-45)">Concat-CONCH-GP</text>
<text transform="translate(914.19 1599.56) rotate(-45)">Concat-V2-GP</text>
<text transform="translate(959.72 1599.56) rotate(-45)">Avg-CONCH-V2</text>
<text transform="translate(1005.25 1599.56) rotate(-45)">Avg-CONCH-GP</text>
<text transform="translate(1050.78 1599.56) rotate(-45)">Avg-V2-GP</text>
</g>
<rect x="803.69" y="1015.30" width="273.28" height="569.90" fill="none" stroke="#000" stroke-width="2.5"/>
<text x="1633.20" y="998.9" font-size="15.14" text-anchor="middle">P-Values of two-sided DeLong Test comparing Virchow2 with all models/ensembles</text>
<text x="1087.5" y="996" font-size="30" font-weight="bold">C</text>
<rect x="1252.42" y="1015.25" width="912.10" height="569.32" fill="#fbf6fb"/>
<rect x="1253.22" y="1016.75" width="44.73" height="18.08" fill="#808080"/>
<rect x="1299.45" y="1016.75" width="44.03" height="18.08" fill="#808080"/>
<rect x="1344.98" y="1016.75" width="44.03" height="18.08" fill="#d8bfd8"/>
<rect x="1390.51" y="1016.75" width="44.03" height="18.08" fill="#808080"/>
<rect x="1436.04" y="1016.75" width="44.03" height="18.08" fill="#808080"/>
<rect x="1481.57" y="1016.75" width="44.03" height="18.08" fill="#d8bfd8"/>
<rect x="1527.10" y="1016.75" width="44.03" height="18.08" fill="#808080"/>
<rect x="1572.63" y="1016.75" width="44.03" height="18.08" fill="#808080"/>
<rect x="1618.16" y="1016.75" width="44.03" height="18.08" fill="#808080"/>
<rect x="1663.69" y="1016.75" width="44.03" height="18.08" fill="#d8bfd8"/>
<rect x="1709.22" y="1016.75" width="44.03" height="18.08" fill="#808080"/>
<rect x="1754.75" y="1016.75" width="44.03" height="18.08" fill="#808080"/>
<rect x="1800.28" y="1016.75" width="44.03" height="18.08" fill="#d8bfd8"/>
<rect x="1845.81" y="1016.75" width="44.03" height="18.08" fill="#808080"/>
<rect x="1891.34" y="1016.75" width="44.03" height="18.08" fill="#808080"/>
<rect x="1936.87" y="1016.75" width="44.03" height="18.08" fill="#4a245f"/>
<rect x="1982.40" y="1016.75" width="44.03" height="18.08" fill="#4a245f"/>
<rect x="2027.93" y="1016.75" width="44.03" height="18.08" fill="#4a245f"/>
<rect x="2073.46" y="1016.75" width="44.03" height="18.08" fill="#4a245f"/>
<rect x="2118.99" y="1016.75" width="44.03" height="18.08" fill="#808080"/>
<rect x="1253.22" y="1036.33" width="44.73" height="18.08" fill="#808080"/>
<rect x="1299.45" y="1036.33" width="44.03" height="18.08" fill="#4a245f"/>
<rect x="1344.98" y="1036.33" width="44.03" height="18.08" fill="#808080"/>
<rect x="1390.51" y="1036.33" width="44.03" height="18.08" fill="#808080"/>
<rect x="1436.04" y="1036.33" width="44.03" height="18.08" fill="#4a245f"/>
<rect x="1481.57" y="1036.33" width="44.03" height="18.08" fill="#808080"/>
<rect x="1527.10" y="1036.33" width="44.03" height="18.08" fill="#808080"/>
<rect x="1572.63" y="1036.33" width="44.03" height="18.08" fill="#808080"/>
<rect x="1618.16" y="1036.33" width="44.03" height="18.08" fill="#808080"/>
<rect x="1663.69" y="1036.33" width="44.03" height="18.08" fill="#4a245f"/>
<rect x="1709.22" y="1036.33" width="44.03" height="18.08" fill="#808080"/>
<rect x="1754.75" y="1036.33" width="44.03" height="18.08" fill="#808080"/>
<rect x="1800.28" y="1036.33" width="44.03" height="18.08" fill="#808080"/>
<rect x="1845.81" y="1036.33" width="44.03" height="18.08" fill="#808080"/>
<rect x="1891.34" y="1036.33" width="44.03" height="18.08" fill="#808080"/>
<rect x="1936.87" y="1036.33" width="44.03" height="18.08" fill="#4a245f"/>
<rect x="1982.40" y="1036.33" width="44.03" height="18.08" fill="#4a245f"/>
<rect x="2027.93" y="1036.33" width="44.03" height="18.08" fill="#808080"/>
<rect x="2073.46" y="1036.33" width="44.03" height="18.08" fill="#4a245f"/>
<rect x="2118.99" y="1036.33" width="44.03" height="18.08" fill="#4a245f"/>
<rect x="1253.22" y="1055.91" width="44.73" height="18.08" fill="#4a245f"/>
<rect x="1299.45" y="1055.91" width="44.03" height="18.08" fill="#808080"/>
<rect x="1344.98" y="1055.91" width="44.03" height="18.08" fill="#808080"/>
<rect x="1390.51" y="1055.91" width="44.03" height="18.08" fill="#808080"/>
<rect x="1436.04" y="1055.91" width="44.03" height="18.08" fill="#4a245f"/>
<rect x="1481.57" y="1055.91" width="44.03" height="18.08" fill="#808080"/>
<rect x="1527.10" y="1055.91" width="44.03" height="18.08" fill="#808080"/>
<rect x="1572.63" y="1055.91" width="44.03" height="18.08" fill="#808080"/>
<rect x="1618.16" y="1055.91" width="44.03" height="18.08" fill="#4a245f"/>
<rect x="1663.69" y="1055.91" width="44.03" height="18.08" fill="#4a245f"/>
<rect x="1709.22" y="1055.91" width="44.03" height="18.08" fill="#808080"/>
<rect x="1754.75" y="1055.91" width="44.03" height="18.08" fill="#808080"/>
<rect x="1800.28" y="1055.91" width="44.03" height="18.08" fill="#808080"/>
<rect x="1845.81" y="1055.91" width="44.03" height="18.08" fill="#808080"/>
<rect x="1891.34" y="1055.91" width="44.03" height="18.08" fill="#4a245f"/>
<rect x="1936.87" y="1055.91" width="44.03" height="18.08" fill="#808080"/>
<rect x="1982.40" y="1055.91" width="44.03" height="18.08" fill="#808080"/>
<rect x="2027.93" y="1055.91" width="44.03" height="18.08" fill="#4a245f"/>
<rect x="2073.46" y="1055.91" width="44.03" height="18.08" fill="#808080"/>
<rect x="2118.99" y="1055.91" width="44.03" height="18.08" fill="#808080"/>
<rect x="1253.22" y="1075.49" width="44.73" height="18.08" fill="#808080"/>
<rect x="1299.45" y="1075.49" width="44.03" height="18.08" fill="#808080"/>
<rect x="1344.98" y="1075.49" width="44.03" height="18.08" fill="#808080"/>
<rect x="1390.51" y="1075.49" width="44.03" height="18.08" fill="#808080"/>
<rect x="1436.04" y="1075.49" width="44.03" height="18.08" fill="#808080"/>
<rect x="1481.57" y="1075.49" width="44.03" height="18.08" fill="#808080"/>
<rect x="1527.10" y="1075.49" width="44.03" height="18.08" fill="#808080"/>
<rect x="1572.63" y="1075.49" width="44.03" height="18.08" fill="#808080"/>
<rect x="1618.16" y="1075.49" width="44.03" height="18.08" fill="#d8bfd8"/>
<rect x="1663.69" y="1075.49" width="44.03" height="18.08" fill="#d8bfd8"/>
<rect x="1709.22" y="1075.49" width="44.03" height="18.08" fill="#d8bfd8"/>
<rect x="1754.75" y="1075.49" width="44.03" height="18.08" fill="#808080"/>
<rect x="1800.28" y="1075.49" width="44.03" height="18.08" fill="#d8bfd8"/>
<rect x="1845.81" y="1075.49" width="44.03" height="18.08" fill="#d8bfd8"/>
<rect x="1891.34" y="1075.49" width="44.03" height="18.08" fill="#808080"/>
<rect x="1936.87" y="1075.49" width="44.03" height="18.08" fill="#808080"/>
<rect x="1982.40" y="1075.49" width="44.03" height="18.08" fill="#808080"/>
<rect x="2027.93" y="1075.49" width="44.03" height="18.08" fill="#808080"/>
<rect x="2073.46" y="1075.49" width="44.03" height="18.08" fill="#808080"/>
<rect x="2118.99" y="1075.49" width="44.03" height="18.08" fill="#808080"/>
<rect x="1253.22" y="1095.07" width="44.73" height="18.08" fill="#808080"/>
<rect x="1299.45" y="1095.07" width="44.03" height="18.08" fill="#808080"/>
<rect x="1344.98" y="1095.07" width="44.03" height="18.08" fill="#808080"/>
<rect x="1390.51" y="1095.07" width="44.03" height="18.08" fill="#808080"/>
<rect x="1436.04" y="1095.07" width="44.03" height="18.08" fill="#808080"/>
<rect x="1481.57" y="1095.07" width="44.03" height="18.08" fill="#808080"/>
<rect x="1527.10" y="1095.07" width="44.03" height="18.08" fill="#808080"/>
<rect x="1572.63" y="1095.07" width="44.03" height="18.08" fill="#808080"/>
<rect x="1618.16" y="1095.07" width="44.03" height="18.08" fill="#808080"/>
<rect x="1663.69" y="1095.07" width="44.03" height="18.08" fill="#808080"/>
<rect x="1709.22" y="1095.07" width="44.03" height="18.08" fill="#808080"/>
<rect x="1754.75" y="1095.07" width="44.03" height="18.08" fill="#808080"/>
<rect x="1800.28" y="1095.07" width="44.03" height="18.08" fill="#808080"/>
<rect x="1845.81" y="1095.07" width="44.03" height="18.08" fill="#d8bfd8"/>
<rect x="1891.34" y="1095.07" width="44.03" height="18.08" fill="#808080"/>
<rect x="1936.87" y="1095.07" width="44.03" height="18.08" fill="#808080"/>
<rect x="1982.40" y="1095.07" width="44.03" height="18.08" fill="#808080"/>
<rect x="2027.93" y="1095.07" width="44.03" height="18.08" fill="#4a245f"/>
<rect x="2073.46" y="1095.07" width="44.03" height="18.08" fill="#808080"/>
<rect x="2118.99" y="1095.07" width="44.03" height="18.08" fill="#808080"/>
<rect x="1253.22" y="1114.65" width="44.73" height="18.08" fill="#d8bfd8"/>
<rect x="1299.45" y="1114.65" width="44.03" height="18.08" fill="#808080"/>
<rect x="1344.98" y="1114.65" width="44.03" height="18.08" fill="#d8bfd8"/>
<rect x="1390.51" y="1114.65" width="44.03" height="18.08" fill="#808080"/>
<rect x="1436.04" y="1114.65" width="44.03" height="18.08" fill="#d8bfd8"/>
<rect x="1481.57" y="1114.65" width="44.03" height="18.08" fill="#d8bfd8"/>
<rect x="1527.10" y="1114.65" width="44.03" height="18.08" fill="#d8bfd8"/>
<rect x="1572.63" y="1114.65" width="44.03" height="18.08" fill="#d8bfd8"/>
<rect x="1618.16" y="1114.65" width="44.03" height="18.08" fill="#d8bfd8"/>
<rect x="1663.69" y="1114.65" width="44.03" height="18.08" fill="#808080"/>
<rect x="1709.22" y="1114.65" width="44.03" height="18.08" fill="#d8bfd8"/>
<rect x="1754.75" y="1114.65" width="44.03" height="18.08" fill="#808080"/>
<rect x="1800.28" y="1114.65" width="44.03" height="18.08" fill="#d8bfd8"/>
<rect x="1845.81" y="1114.65" width="44.03" height="18.08" fill="#d8bfd8"/>
<rect x="1891.34" y="1114.65" width="44.03" height="18.08" fill="#808080"/>
<rect x="1936.87" y="1114.65" width="44.03" height="18.08" fill="#808080"/>
<rect x="1982.40" y="1114.65" width="44.03" height="18.08" fill="#808080"/>
<rect x="2027.93" y="1114.65" width="44.03" height="18.08" fill="#d8bfd8"/>
<rect x="2073.46" y="1114.65" width="44.03" height="18.08" fill="#808080"/>
<rect x="2118.99" y="1114.65" width="44.03" height="18.08" fill="#808080"/>
<rect x="1253.22" y="1134.23" width="44.73" height="18.08" fill="#4a245f"/>
<rect x="1299.45" y="1134.23" width="44.03" height="18.08" fill="#d8bfd8"/>
<rect x="1344.98" y="1134.23" width="44.03" height="18.08" fill="#808080"/>
<rect x="1390.51" y="1134.23" width="44.03" height="18.08" fill="#d8bfd8"/>
<rect x="1436.04" y="1134.23" width="44.03" height="18.08" fill="#d8bfd8"/>
<rect x="1481.57" y="1134.23" width="44.03" height="18.08" fill="#d8bfd8"/>
<rect x="1527.10" y="1134.23" width="44.03" height="18.08" fill="#808080"/>
<rect x="1572.63" y="1134.23" width="44.03" height="18.08" fill="#808080"/>
<rect x="1618.16" y="1134.23" width="44.03" height="18.08" fill="#808080"/>
<rect x="1663.69" y="1134.23" width="44.03" height="18.08" fill="#d8bfd8"/>
<rect x="1709.22" y="1134.23" width="44.03" height="18.08" fill="#808080"/>
<rect x="1754.75" y="1134.23" width="44.03" height="18.08" fill="#808080"/>
<rect x="1800.28" y="1134.23" width="44.03" height="18.08" fill="#808080"/>
<rect x="1845.81" y="1134.23" width="44.03" height="18.08" fill="#808080"/>
<rect x="1891.34" y="1134.23" width="44.03" height="18.08" fill="#4a245f"/>
<rect x="1936.87" y="1134.23" width="44.03" height="18.08" fill="#d8bfd8"/>
<rect x="1982.40" y="1134.23" width="44.03" height="18.08" fill="#d8bfd8"/>
<rect x="2027.93" y="1134.23" width="44.03" height="18.08" fill="#4a245f"/>
<rect x="2073.46" y="1134.23" width="44.03" height="18.08" fill="#808080"/>
<rect x="2118.99" y="1134.23" width="44.03" height="18.08" fill="#d8bfd8"/>
<rect x="1253.22" y="1153.81" width="44.73" height="18.08" fill="#808080"/>
<rect x="1299.45" y="1153.81" width="44.03" height="18.08" fill="#808080"/>
<rect x="1344.98" y="1153.81" width="44.03" height="18.08" fill="#808080"/>
<rect x="1390.51" y="1153.81" width="44.03" height="18.08" fill="#808080"/>
<rect x="1436.04" y="1153.81" width="44.03" height="18.08" fill="#808080"/>
<rect x="1481.57" y="1153.81" width="44.03" height="18.08" fill="#808080"/>
<rect x="1527.10" y="1153.81" width="44.03" height="18.08" fill="#808080"/>
<rect x="1572.63" y="1153.81" width="44.03" height="18.08" fill="#808080"/>
<rect x="1618.16" y="1153.81" width="44.03" height="18.08" fill="#808080"/>
<rect x="1663.69" y="1153.81" width="44.03" height="18.08" fill="#808080"/>
<rect x="1709.22" y="1153.81" width="44.03" height="18.08" fill="#808080"/>
<rect x="1754.75" y="1153.81" width="44.03" height="18.08" fill="#d8bfd8"/>
<rect x="1800.28" y="1153.81" width="44.03" height="18.08" fill="#d8bfd8"/>
<rect x="1845.81" y="1153.81" width="44.03" height="18.08" fill="#808080"/>
<rect x="1891.34" y="1153.81" width="44.03" height="18.08" fill="#808080"/>
<rect x="1936.87" y="1153.81" width="44.03" height="18.08" fill="#808080"/>
<rect x="1982.40" y="1153.81" width="44.03" height="18.08" fill="#808080"/>
<rect x="2027.93" y="1153.81" width="44.03" height="18.08" fill="#808080"/>
<rect x="2073.46" y="1153.81" width="44.03" height="18.08" fill="#808080"/>
<rect x="2118.99" y="1153.81" width="44.03" height="18.08" fill="#808080"/>
<rect x="1253.22" y="1173.39" width="44.73" height="18.08" fill="#d8bfd8"/>
<rect x="1299.45" y="1173.39" width="44.03" height="18.08" fill="#808080"/>
<rect x="1344.98" y="1173.39" width="44.03" height="18.08" fill="#d8bfd8"/>
<rect x="1390.51" y="1173.39" width="44.03" height="18.08" fill="#d8bfd8"/>
<rect x="1436.04" y="1173.39" width="44.03" height="18.08" fill="#d8bfd8"/>
<rect x="1481.57" y="1173.39" width="44.03" height="18.08" fill="#808080"/>
<rect x="1527.10" y="1173.39" width="44.03" height="18.08" fill="#d8bfd8"/>
<rect x="1572.63" y="1173.39" width="44.03" height="18.08" fill="#d8bfd8"/>
<rect x="1618.16" y="1173.39" width="44.03" height="18.08" fill="#d8bfd8"/>
<rect x="1663.69" y="1173.39" width="44.03" height="18.08" fill="#808080"/>
<rect x="1709.22" y="1173.39" width="44.03" height="18.08" fill="#d8bfd8"/>
<rect x="1754.75" y="1173.39" width="44.03" height="18.08" fill="#d8bfd8"/>
<rect x="1800.28" y="1173.39" width="44.03" height="18.08" fill="#d8bfd8"/>
<rect x="1845.81" y="1173.39" width="44.03" height="18.08" fill="#d8bfd8"/>
<rect x="1891.34" y="1173.39" width="44.03" height="18.08" fill="#808080"/>
<rect x="1936.87" y="1173.39" width="44.03" height="18.08" fill="#808080"/>
<rect x="1982.40" y="1173.39" width="44.03" height="18.08" fill="#808080"/>
<rect x="2027.93" y="1173.39" width="44.03" height="18.08" fill="#d8bfd8"/>
<rect x="2073.46" y="1173.39" width="44.03" height="18.08" fill="#d8bfd8"/>
<rect x="2118.99" y="1173.39" width="44.03" height="18.08" fill="#808080"/>
<rect x="1253.22" y="1192.97" width="44.73" height="18.08" fill="#808080"/>
<rect x="1299.45" y="1192.97" width="44.03" height="18.08" fill="#4a245f"/>
<rect x="1344.98" y="1192.97" width="44.03" height="18.08" fill="#808080"/>
<rect x="1390.51" y="1192.97" width="44.03" height="18.08" fill="#d8bfd8"/>
<rect x="1436.04" y="1192.97" width="44.03" height="18.08" fill="#808080"/>
<rect x="1481.57" y="1192.97" width="44.03" height="18.08" fill="#808080"/>
<rect x="1527.10" y="1192.97" width="44.03" height="18.08" fill="#808080"/>
<rect x="1572.63" y="1192.97" width="44.03" height="18.08" fill="#808080"/>
<rect x="1618.16" y="1192.97" width="44.03" height="18.08" fill="#808080"/>
<rect x="1663.69" y="1192.97" width="44.03" height="18.08" fill="#808080"/>
<rect x="1709.22" y="1192.97" width="44.03" height="18.08" fill="#808080"/>
<rect x="1754.75" y="1192.97" width="44.03" height="18.08" fill="#808080"/>
<rect x="1800.28" y="1192.97" width="44.03" height="18.08" fill="#808080"/>
<rect x="1845.81" y="1192.97" width="44.03" height="18.08" fill="#808080"/>
<rect x="1891.34" y="1192.97" width="44.03" height="18.08" fill="#4a245f"/>
<rect x="1936.87" y="1192.97" width="44.03" height="18.08" fill="#4a245f"/>
<rect x="1982.40" y="1192.97" width="44.03" height="18.08" fill="#4a245f"/>
<rect x="2027.93" y="1192.97" width="44.03" height="18.08" fill="#4a245f"/>
<rect x="2073.46" y="1192.97" width="44.03" height="18.08" fill="#4a245f"/>
<rect x="2118.99" y="1192.97" width="44.03" height="18.08" fill="#4a245f"/>
<rect x="1253.22" y="1212.55" width="44.73" height="18.08" fill="#808080"/>
<rect x="1299.45" y="1212.55" width="44.03" height="18.08" fill="#808080"/>
<rect x="1344.98" y="1212.55" width="44.03" height="18.08" fill="#808080"/>
<rect x="1390.51" y="1212.55" width="44.03" height="18.08" fill="#808080"/>
<rect x="1436.04" y="1212.55" width="44.03" height="18.08" fill="#808080"/>
<rect x="1481.57" y="1212.55" width="44.03" height="18.08" fill="#808080"/>
<rect x="1527.10" y="1212.55" width="44.03" height="18.08" fill="#808080"/>
<rect x="1572.63" y="1212.55" width="44.03" height="18.08" fill="#808080"/>
<rect x="1618.16" y="1212.55" width="44.03" height="18.08" fill="#808080"/>
<rect x="1663.69" y="1212.55" width="44.03" height="18.08" fill="#d8bfd8"/>
<rect x="1709.22" y="1212.55" width="44.03" height="18.08" fill="#808080"/>
<rect x="1754.75" y="1212.55" width="44.03" height="18.08" fill="#808080"/>
<rect x="1800.28" y="1212.55" width="44.03" height="18.08" fill="#808080"/>
<rect x="1845.81" y="1212.55" width="44.03" height="18.08" fill="#d8bfd8"/>
<rect x="1891.34" y="1212.55" width="44.03" height="18.08" fill="#808080"/>
<rect x="1936.87" y="1212.55" width="44.03" height="18.08" fill="#808080"/>
<rect x="1982.40" y="1212.55" width="44.03" height="18.08" fill="#808080"/>
<rect x="2027.93" y="1212.55" width="44.03" height="18.08" fill="#808080"/>
<rect x="2073.46" y="1212.55" width="44.03" height="18.08" fill="#808080"/>
<rect x="2118.99" y="1212.55" width="44.03" height="18.08" fill="#808080"/>
<rect x="1253.22" y="1232.13" width="44.73" height="18.08" fill="#808080"/>
<rect x="1299.45" y="1232.13" width="44.03" height="18.08" fill="#808080"/>
<rect x="1344.98" y="1232.13" width="44.03" height="18.08" fill="#808080"/>
<rect x="1390.51" y="1232.13" width="44.03" height="18.08" fill="#808080"/>
<rect x="1436.04" y="1232.13" width="44.03" height="18.08" fill="#808080"/>
<rect x="1481.57" y="1232.13" width="44.03" height="18.08" fill="#808080"/>
<rect x="1527.10" y="1232.13" width="44.03" height="18.08" fill="#d8bfd8"/>
<rect x="1572.63" y="1232.13" width="44.03" height="18.08" fill="#808080"/>
<rect x="1618.16" y="1232.13" width="44.03" height="18.08" fill="#808080"/>
<rect x="1663.69" y="1232.13" width="44.03" height="18.08" fill="#808080"/>
<rect x="1709.22" y="1232.13" width="44.03" height="18.08" fill="#808080"/>
<rect x="1754.75" y="1232.13" width="44.03" height="18.08" fill="#808080"/>
<rect x="1800.28" y="1232.13" width="44.03" height="18.08" fill="#d8bfd8"/>
<rect x="1845.81" y="1232.13" width="44.03" height="18.08" fill="#808080"/>
<rect x="1891.34" y="1232.13" width="44.03" height="18.08" fill="#808080"/>
<rect x="1936.87" y="1232.13" width="44.03" height="18.08" fill="#808080"/>
<rect x="1982.40" y="1232.13" width="44.03" height="18.08" fill="#808080"/>
<rect x="2027.93" y="1232.13" width="44.03" height="18.08" fill="#808080"/>
<rect x="2073.46" y="1232.13" width="44.03" height="18.08" fill="#808080"/>
<rect x="2118.99" y="1232.13" width="44.03" height="18.08" fill="#808080"/>
<rect x="1253.22" y="1251.71" width="44.73" height="18.08" fill="#d8bfd8"/>
<rect x="1299.45" y="1251.71" width="44.03" height="18.08" fill="#d8bfd8"/>
<rect x="1344.98" y="1251.71" width="44.03" height="18.08" fill="#d8bfd8"/>
<rect x="1390.51" y="1251.71" width="44.03" height="18.08" fill="#808080"/>
<rect x="1436.04" y="1251.71" width="44.03" height="18.08" fill="#d8bfd8"/>
<rect x="1481.57" y="1251.71" width="44.03" height="18.08" fill="#808080"/>
<rect x="1527.10" y="1251.71" width="44.03" height="18.08" fill="#d8bfd8"/>
<rect x="1572.63" y="1251.71" width="44.03" height="18.08" fill="#d8bfd8"/>
<rect x="1618.16" y="1251.71" width="44.03" height="18.08" fill="#808080"/>
<rect x="1663.69" y="1251.71" width="44.03" height="18.08" fill="#808080"/>
<rect x="1709.22" y="1251.71" width="44.03" height="18.08" fill="#808080"/>
<rect x="1754.75" y="1251.71" width="44.03" height="18.08" fill="#808080"/>
<rect x="1800.28" y="1251.71" width="44.03" height="18.08" fill="#d8bfd8"/>
<rect x="1845.81" y="1251.71" width="44.03" height="18.08" fill="#d8bfd8"/>
<rect x="1891.34" y="1251.71" width="44.03" height="18.08" fill="#808080"/>
<rect x="1936.87" y="1251.71" width="44.03" height="18.08" fill="#d8bfd8"/>
<rect x="1982.40" y="1251.71" width="44.03" height="18.08" fill="#808080"/>
<rect x="2027.93" y="1251.71" width="44.03" height="18.08" fill="#d8bfd8"/>
<rect x="2073.46" y="1251.71" width="44.03" height="18.08" fill="#d8bfd8"/>
<rect x="2118.99" y="1251.71" width="44.03" height="18.08" fill="#d8bfd8"/>
<rect x="1253.22" y="1271.29" width="44.73" height="18.08" fill="#808080"/>
<rect x="1299.45" y="1271.29" width="44.03" height="18.08" fill="#808080"/>
<rect x="1344.98" y="1271.29" width="44.03" height="18.08" fill="#808080"/>
<rect x="1390.51" y="1271.29" width="44.03" height="18.08" fill="#808080"/>
<rect x="1436.04" y="1271.29" width="44.03" height="18.08" fill="#808080"/>
<rect x="1481.57" y="1271.29" width="44.03" height="18.08" fill="#808080"/>
<rect x="1527.10" y="1271.29" width="44.03" height="18.08" fill="#808080"/>
<rect x="1572.63" y="1271.29" width="44.03" height="18.08" fill="#808080"/>
<rect x="1618.16" y="1271.29" width="44.03" height="18.08" fill="#808080"/>
<rect x="1663.69" y="1271.29" width="44.03" height="18.08" fill="#808080"/>
<rect x="1709.22" y="1271.29" width="44.03" height="18.08" fill="#808080"/>
<rect x="1754.75" y="1271.29" width="44.03" height="18.08" fill="#808080"/>
<rect x="1800.28" y="1271.29" width="44.03" height="18.08" fill="#808080"/>
<rect x="1845.81" y="1271.29" width="44.03" height="18.08" fill="#808080"/>
<rect x="1891.34" y="1271.29" width="44.03" height="18.08" fill="#808080"/>
<rect x="1936.87" y="1271.29" width="44.03" height="18.08" fill="#808080"/>
<rect x="1982.40" y="1271.29" width="44.03" height="18.08" fill="#808080"/>
<rect x="2027.93" y="1271.29" width="44.03" height="18.08" fill="#808080"/>
<rect x="2073.46" y="1271.29" width="44.03" height="18.08" fill="#808080"/>
<rect x="2118.99" y="1271.29" width="44.03" height="18.08" fill="#808080"/>
<rect x="1253.22" y="1290.87" width="44.73" height="18.08" fill="#4a245f"/>
<rect x="1299.45" y="1290.87" width="44.03" height="18.08" fill="#808080"/>
<rect x="1344.98" y="1290.87" width="44.03" height="18.08" fill="#808080"/>
<rect x="1390.51" y="1290.87" width="44.03" height="18.08" fill="#808080"/>
<rect x="1436.04" y="1290.87" width="44.03" height="18.08" fill="#4a245f"/>
<rect x="1481.57" y="1290.87" width="44.03" height="18.08" fill="#808080"/>
<rect x="1527.10" y="1290.87" width="44.03" height="18.08" fill="#808080"/>
<rect x="1572.63" y="1290.87" width="44.03" height="18.08" fill="#808080"/>
<rect x="1618.16" y="1290.87" width="44.03" height="18.08" fill="#808080"/>
<rect x="1663.69" y="1290.87" width="44.03" height="18.08" fill="#808080"/>
<rect x="1709.22" y="1290.87" width="44.03" height="18.08" fill="#4a245f"/>
<rect x="1754.75" y="1290.87" width="44.03" height="18.08" fill="#808080"/>
<rect x="1800.28" y="1290.87" width="44.03" height="18.08" fill="#808080"/>
<rect x="1845.81" y="1290.87" width="44.03" height="18.08" fill="#808080"/>
<rect x="1891.34" y="1290.87" width="44.03" height="18.08" fill="#4a245f"/>
<rect x="1936.87" y="1290.87" width="44.03" height="18.08" fill="#4a245f"/>
<rect x="1982.40" y="1290.87" width="44.03" height="18.08" fill="#4a245f"/>
<rect x="2027.93" y="1290.87" width="44.03" height="18.08" fill="#4a245f"/>
<rect x="2073.46" y="1290.87" width="44.03" height="18.08" fill="#808080"/>
<rect x="2118.99" y="1290.87" width="44.03" height="18.08" fill="#808080"/>
<rect x="1253.22" y="1310.45" width="44.73" height="18.08" fill="#4a245f"/>
<rect x="1299.45" y="1310.45" width="44.03" height="18.08" fill="#808080"/>
<rect x="1344.98" y="1310.45" width="44.03" height="18.08" fill="#808080"/>
<rect x="1390.51" y="1310.45" width="44.03" height="18.08" fill="#808080"/>
<rect x="1436.04" y="1310.45" width="44.03" height="18.08" fill="#808080"/>
<rect x="1481.57" y="1310.45" width="44.03" height="18.08" fill="#808080"/>
<rect x="1527.10" y="1310.45" width="44.03" height="18.08" fill="#808080"/>
<rect x="1572.63" y="1310.45" width="44.03" height="18.08" fill="#808080"/>
<rect x="1618.16" y="1310.45" width="44.03" height="18.08" fill="#808080"/>
<rect x="1663.69" y="1310.45" width="44.03" height="18.08" fill="#808080"/>
<rect x="1709.22" y="1310.45" width="44.03" height="18.08" fill="#4a245f"/>
<rect x="1754.75" y="1310.45" width="44.03" height="18.08" fill="#808080"/>
<rect x="1800.28" y="1310.45" width="44.03" height="18.08" fill="#808080"/>
<rect x="1845.81" y="1310.45" width="44.03" height="18.08" fill="#4a245f"/>
<rect x="1891.34" y="1310.45" width="44.03" height="18.08" fill="#808080"/>
<rect x="1936.87" y="1310.45" width="44.03" height="18.08" fill="#808080"/>
<rect x="1982.40" y="1310.45" width="44.03" height="18.08" fill="#4a245f"/>
<rect x="2027.93" y="1310.45" width="44.03" height="18.08" fill="#4a245f"/>
<rect x="2073.46" y="1310.45" width="44.03" height="18.08" fill="#4a245f"/>
<rect x="2118.99" y="1310.45" width="44.03" height="18.08" fill="#808080"/>
<rect x="1253.22" y="1330.03" width="44.73" height="18.08" fill="#808080"/>
<rect x="1299.45" y="1330.03" width="44.03" height="18.08" fill="#808080"/>
<rect x="1344.98" y="1330.03" width="44.03" height="18.08" fill="#808080"/>
<rect x="1390.51" y="1330.03" width="44.03" height="18.08" fill="#808080"/>
<rect x="1436.04" y="1330.03" width="44.03" height="18.08" fill="#808080"/>
<rect x="1481.57" y="1330.03" width="44.03" height="18.08" fill="#808080"/>
<rect x="1527.10" y="1330.03" width="44.03" height="18.08" fill="#808080"/>
<rect x="1572.63" y="1330.03" width="44.03" height="18.08" fill="#808080"/>
<rect x="1618.16" y="1330.03" width="44.03" height="18.08" fill="#808080"/>
<rect x="1663.69" y="1330.03" width="44.03" height="18.08" fill="#808080"/>
<rect x="1709.22" y="1330.03" width="44.03" height="18.08" fill="#808080"/>
<rect x="1754.75" y="1330.03" width="44.03" height="18.08" fill="#808080"/>
<rect x="1800.28" y="1330.03" width="44.03" height="18.08" fill="#808080"/>
<rect x="1845.81" y="1330.03" width="44.03" height="18.08" fill="#808080"/>
<rect x="1891.34" y="1330.03" width="44.03" height="18.08" fill="#808080"/>
<rect x="1936.87" y="1330.03" width="44.03" height="18.08" fill="#808080"/>
<rect x="1982.40" y="1330.03" width="44.03" height="18.08" fill="#808080"/>
<rect x="2027.93" y="1330.03" width="44.03" height="18.08" fill="#808080"/>
<rect x="2073.46" y="1330.03" width="44.03" height="18.08" fill="#808080"/>
<rect x="2118.99" y="1330.03" width="44.03" height="18.08" fill="#808080"/>
<rect x="1253.22" y="1349.61" width="44.73" height="18.08" fill="#808080"/>
<rect x="1299.45" y="1349.61" width="44.03" height="18.08" fill="#808080"/>
<rect x="1344.98" y="1349.61" width="44.03" height="18.08" fill="#d8bfd8"/>
<rect x="1390.51" y="1349.61" width="44.03" height="18.08" fill="#808080"/>
<rect x="1436.04" y="1349.61" width="44.03" height="18.08" fill="#808080"/>
<rect x="1481.57" y="1349.61" width="44.03" height="18.08" fill="#d8bfd8"/>
<rect x="1527.10" y="1349.61" width="44.03" height="18.08" fill="#d8bfd8"/>
<rect x="1572.63" y="1349.61" width="44.03" height="18.08" fill="#808080"/>
<rect x="1618.16" y="1349.61" width="44.03" height="18.08" fill="#808080"/>
<rect x="1663.69" y="1349.61" width="44.03" height="18.08" fill="#808080"/>
<rect x="1709.22" y="1349.61" width="44.03" height="18.08" fill="#d8bfd8"/>
<rect x="1754.75" y="1349.61" width="44.03" height="18.08" fill="#808080"/>
<rect x="1800.28" y="1349.61" width="44.03" height="18.08" fill="#808080"/>
<rect x="1845.81" y="1349.61" width="44.03" height="18.08" fill="#d8bfd8"/>
<rect x="1891.34" y="1349.61" width="44.03" height="18.08" fill="#808080"/>
<rect x="1936.87" y="1349.61" width="44.03" height="18.08" fill="#808080"/>
<rect x="1982.40" y="1349.61" width="44.03" height="18.08" fill="#808080"/>
<rect x="2027.93" y="1349.61" width="44.03" height="18.08" fill="#808080"/>
<rect x="2073.46" y="1349.61" width="44.03" height="18.08" fill="#808080"/>
<rect x="2118.99" y="1349.61" width="44.03" height="18.08" fill="#808080"/>
<rect x="1253.22" y="1369.19" width="44.73" height="18.08" fill="#808080"/>
<rect x="1299.45" y="1369.19" width="44.03" height="18.08" fill="#808080"/>
<rect x="1344.98" y="1369.19" width="44.03" height="18.08" fill="#808080"/>
<rect x="1390.51" y="1369.19" width="44.03" height="18.08" fill="#808080"/>
<rect x="1436.04" y="1369.19" width="44.03" height="18.08" fill="#808080"/>
<rect x="1481.57" y="1369.19" width="44.03" height="18.08" fill="#808080"/>
<rect x="1527.10" y="1369.19" width="44.03" height="18.08" fill="#808080"/>
<rect x="1572.63" y="1369.19" width="44.03" height="18.08" fill="#808080"/>
<rect x="1618.16" y="1369.19" width="44.03" height="18.08" fill="#808080"/>
<rect x="1663.69" y="1369.19" width="44.03" height="18.08" fill="#808080"/>
<rect x="1709.22" y="1369.19" width="44.03" height="18.08" fill="#808080"/>
<rect x="1754.75" y="1369.19" width="44.03" height="18.08" fill="#808080"/>
<rect x="1800.28" y="1369.19" width="44.03" height="18.08" fill="#808080"/>
<rect x="1845.81" y="1369.19" width="44.03" height="18.08" fill="#808080"/>
<rect x="1891.34" y="1369.19" width="44.03" height="18.08" fill="#808080"/>
<rect x="1936.87" y="1369.19" width="44.03" height="18.08" fill="#808080"/>
<rect x="1982.40" y="1369.19" width="44.03" height="18.08" fill="#808080"/>
<rect x="2027.93" y="1369.19" width="44.03" height="18.08" fill="#808080"/>
<rect x="2073.46" y="1369.19" width="44.03" height="18.08" fill="#808080"/>
<rect x="2118.99" y="1369.19" width="44.03" height="18.08" fill="#808080"/>
<rect x="1253.22" y="1388.77" width="44.73" height="18.08" fill="#808080"/>
<rect x="1299.45" y="1388.77" width="44.03" height="18.08" fill="#808080"/>
<rect x="1344.98" y="1388.77" width="44.03" height="18.08" fill="#808080"/>
<rect x="1390.51" y="1388.77" width="44.03" height="18.08" fill="#d8bfd8"/>
<rect x="1436.04" y="1388.77" width="44.03" height="18.08" fill="#808080"/>
<rect x="1481.57" y="1388.77" width="44.03" height="18.08" fill="#808080"/>
<rect x="1527.10" y="1388.77" width="44.03" height="18.08" fill="#d8bfd8"/>
<rect x="1572.63" y="1388.77" width="44.03" height="18.08" fill="#808080"/>
<rect x="1618.16" y="1388.77" width="44.03" height="18.08" fill="#808080"/>
<rect x="1663.69" y="1388.77" width="44.03" height="18.08" fill="#808080"/>
<rect x="1709.22" y="1388.77" width="44.03" height="18.08" fill="#808080"/>
<rect x="1754.75" y="1388.77" width="44.03" height="18.08" fill="#808080"/>
<rect x="1800.28" y="1388.77" width="44.03" height="18.08" fill="#808080"/>
<rect x="1845.81" y="1388.77" width="44.03" height="18.08" fill="#808080"/>
<rect x="1891.34" y="1388.77" width="44.03" height="18.08" fill="#808080"/>
<rect x="1936.87" y="1388.77" width="44.03" height="18.08" fill="#808080"/>
<rect x="1982.40" y="1388.77" width="44.03" height="18.08" fill="#808080"/>
<rect x="2027.93" y="1388.77" width="44.03" height="18.08" fill="#808080"/>
<rect x="2073.46" y="1388.77" width="44.03" height="18.08" fill="#808080"/>
<rect x="2118.99" y="1388.77" width="44.03" height="18.08" fill="#808080"/>
<rect x="1253.22" y="1408.35" width="44.73" height="18.08" fill="#808080"/>
<rect x="1299.45" y="1408.35" width="44.03" height="18.08" fill="#808080"/>
<rect x="1344.98" y="1408.35" width="44.03" height="18.08" fill="#808080"/>
<rect x="1390.51" y="1408.35" width="44.03" height="18.08" fill="#808080"/>
<rect x="1436.04" y="1408.35" width="44.03" height="18.08" fill="#808080"/>
<rect x="1481.57" y="1408.35" width="44.03" height="18.08" fill="#808080"/>
<rect x="1527.10" y="1408.35" width="44.03" height="18.08" fill="#808080"/>
<rect x="1572.63" y="1408.35" width="44.03" height="18.08" fill="#808080"/>
<rect x="1618.16" y="1408.35" width="44.03" height="18.08" fill="#808080"/>
<rect x="1663.69" y="1408.35" width="44.03" height="18.08" fill="#808080"/>
<rect x="1709.22" y="1408.35" width="44.03" height="18.08" fill="#808080"/>
<rect x="1754.75" y="1408.35" width="44.03" height="18.08" fill="#808080"/>
<rect x="1800.28" y="1408.35" width="44.03" height="18.08" fill="#808080"/>
<rect x="1845.81" y="1408.35" width="44.03" height="18.08" fill="#808080"/>
<rect x="1891.34" y="1408.35" width="44.03" height="18.08" fill="#808080"/>
<rect x="1936.87" y="1408.35" width="44.03" height="18.08" fill="#808080"/>
<rect x="1982.40" y="1408.35" width="44.03" height="18.08" fill="#808080"/>
<rect x="2027.93" y="1408.35" width="44.03" height="18.08" fill="#808080"/>
<rect x="2073.46" y="1408.35" width="44.03" height="18.08" fill="#808080"/>
<rect x="2118.99" y="1408.35" width="44.03" height="18.08" fill="#808080"/>
<rect x="1253.22" y="1427.93" width="44.73" height="18.08" fill="#808080"/>
<rect x="1299.45" y="1427.93" width="44.03" height="18.08" fill="#808080"/>
<rect x="1344.98" y="1427.93" width="44.03" height="18.08" fill="#808080"/>
<rect x="1390.51" y="1427.93" width="44.03" height="18.08" fill="#808080"/>
<rect x="1436.04" y="1427.93" width="44.03" height="18.08" fill="#808080"/>
<rect x="1481.57" y="1427.93" width="44.03" height="18.08" fill="#808080"/>
<rect x="1527.10" y="1427.93" width="44.03" height="18.08" fill="#808080"/>
<rect x="1572.63" y="1427.93" width="44.03" height="18.08" fill="#808080"/>
<rect x="1618.16" y="1427.93" width="44.03" height="18.08" fill="#808080"/>
<rect x="1663.69" y="1427.93" width="44.03" height="18.08" fill="#808080"/>
<rect x="1709.22" y="1427.93" width="44.03" height="18.08" fill="#808080"/>
<rect x="1754.75" y="1427.93" width="44.03" height="18.08" fill="#d8bfd8"/>
<rect x="1800.28" y="1427.93" width="44.03" height="18.08" fill="#808080"/>
<rect x="1845.81" y="1427.93" width="44.03" height="18.08" fill="#808080"/>
<rect x="1891.34" y="1427.93" width="44.03" height="18.08" fill="#808080"/>
<rect x="1936.87" y="1427.93" width="44.03" height="18.08" fill="#808080"/>
<rect x="1982.40" y="1427.93" width="44.03" height="18.08" fill="#808080"/>
<rect x="2027.93" y="1427.93" width="44.03" height="18.08" fill="#808080"/>
<rect x="2073.46" y="1427.93" width="44.03" height="18.08" fill="#808080"/>
<rect x="2118.99" y="1427.93" width="44.03" height="18.08" fill="#808080"/>
<rect x="1253.22" y="1447.51" width="44.73" height="18.08" fill="#d8bfd8"/>
<rect x="1299.45" y="1447.51" width="44.03" height="18.08" fill="#808080"/>
<rect x="1344.98" y="1447.51" width="44.03" height="18.08" fill="#4a245f"/>
<rect x="1390.51" y="1447.51" width="44.03" height="18.08" fill="#d8bfd8"/>
<rect x="1436.04" y="1447.51" width="44.03" height="18.08" fill="#d8bfd8"/>
<rect x="1481.57" y="1447.51" width="44.03" height="18.08" fill="#808080"/>
<rect x="1527.10" y="1447.51" width="44.03" height="18.08" fill="#d8bfd8"/>
<rect x="1572.63" y="1447.51" width="44.03" height="18.08" fill="#d8bfd8"/>
<rect x="1618.16" y="1447.51" width="44.03" height="18.08" fill="#d8bfd8"/>
<rect x="1663.69" y="1447.51" width="44.03" height="18.08" fill="#d8bfd8"/>
<rect x="1709.22" y="1447.51" width="44.03" height="18.08" fill="#d8bfd8"/>
<rect x="1754.75" y="1447.51" width="44.03" height="18.08" fill="#d8bfd8"/>
<rect x="1800.28" y="1447.51" width="44.03" height="18.08" fill="#d8bfd8"/>
<rect x="1845.81" y="1447.51" width="44.03" height="18.08" fill="#d8bfd8"/>
<rect x="1891.34" y="1447.51" width="44.03" height="18.08" fill="#4a245f"/>
<rect x="1936.87" y="1447.51" width="44.03" height="18.08" fill="#808080"/>
<rect x="1982.40" y="1447.51" width="44.03" height="18.08" fill="#4a245f"/>
<rect x="2027.93" y="1447.51" width="44.03" height="18.08" fill="#808080"/>
<rect x="2073.46" y="1447.51" width="44.03" height="18.08" fill="#808080"/>
<rect x="2118.99" y="1447.51" width="44.03" height="18.08" fill="#4a245f"/>
<rect x="1253.22" y="1467.09" width="44.73" height="18.08" fill="#d8bfd8"/>
<rect x="1299.45" y="1467.09" width="44.03" height="18.08" fill="#d8bfd8"/>
<rect x="1344.98" y="1467.09" width="44.03" height="18.08" fill="#d8bfd8"/>
<rect x="1390.51" y="1467.09" width="44.03" height="18.08" fill="#d8bfd8"/>
<rect x="1436.04" y="1467.09" width="44.03" height="18.08" fill="#d8bfd8"/>
<rect x="1481.57" y="1467.09" width="44.03" height="18.08" fill="#d8bfd8"/>
<rect x="1527.10" y="1467.09" width="44.03" height="18.08" fill="#808080"/>
<rect x="1572.63" y="1467.09" width="44.03" height="18.08" fill="#d8bfd8"/>
<rect x="1618.16" y="1467.09" width="44.03" height="18.08" fill="#d8bfd8"/>
<rect x="1663.69" y="1467.09" width="44.03" height="18.08" fill="#d8bfd8"/>
<rect x="1709.22" y="1467.09" width="44.03" height="18.08" fill="#d8bfd8"/>
<rect x="1754.75" y="1467.09" width="44.03" height="18.08" fill="#d8bfd8"/>
<rect x="1800.28" y="1467.09" width="44.03" height="18.08" fill="#d8bfd8"/>
<rect x="1845.81" y="1467.09" width="44.03" height="18.08" fill="#d8bfd8"/>
<rect x="1891.34" y="1467.09" width="44.03" height="18.08" fill="#d8bfd8"/>
<rect x="1936.87" y="1467.09" width="44.03" height="18.08" fill="#d8bfd8"/>
<rect x="1982.40" y="1467.09" width="44.03" height="18.08" fill="#808080"/>
<rect x="2027.93" y="1467.09" width="44.03" height="18.08" fill="#808080"/>
<rect x="2073.46" y="1467.09" width="44.03" height="18.08" fill="#d8bfd8"/>
<rect x="2118.99" y="1467.09" width="44.03" height="18.08" fill="#d8bfd8"/>
<rect x="1253.22" y="1486.67" width="44.73" height="18.08" fill="#808080"/>
<rect x="1299.45" y="1486.67" width="44.03" height="18.08" fill="#808080"/>
<rect x="1344.98" y="1486.67" width="44.03" height="18.08" fill="#d8bfd8"/>
<rect x="1390.51" y="1486.67" width="44.03" height="18.08" fill="#808080"/>
<rect x="1436.04" y="1486.67" width="44.03" height="18.08" fill="#808080"/>
<rect x="1481.57" y="1486.67" width="44.03" height="18.08" fill="#d8bfd8"/>
<rect x="1527.10" y="1486.67" width="44.03" height="18.08" fill="#808080"/>
<rect x="1572.63" y="1486.67" width="44.03" height="18.08" fill="#d8bfd8"/>
<rect x="1618.16" y="1486.67" width="44.03" height="18.08" fill="#808080"/>
<rect x="1663.69" y="1486.67" width="44.03" height="18.08" fill="#4a245f"/>
<rect x="1709.22" y="1486.67" width="44.03" height="18.08" fill="#d8bfd8"/>
<rect x="1754.75" y="1486.67" width="44.03" height="18.08" fill="#d8bfd8"/>
<rect x="1800.28" y="1486.67" width="44.03" height="18.08" fill="#808080"/>
<rect x="1845.81" y="1486.67" width="44.03" height="18.08" fill="#d8bfd8"/>
<rect x="1891.34" y="1486.67" width="44.03" height="18.08" fill="#4a245f"/>
<rect x="1936.87" y="1486.67" width="44.03" height="18.08" fill="#4a245f"/>
<rect x="1982.40" y="1486.67" width="44.03" height="18.08" fill="#4a245f"/>
<rect x="2027.93" y="1486.67" width="44.03" height="18.08" fill="#4a245f"/>
<rect x="2073.46" y="1486.67" width="44.03" height="18.08" fill="#4a245f"/>
<rect x="2118.99" y="1486.67" width="44.03" height="18.08" fill="#4a245f"/>
<rect x="1253.22" y="1506.25" width="44.73" height="18.08" fill="#d8bfd8"/>
<rect x="1299.45" y="1506.25" width="44.03" height="18.08" fill="#d8bfd8"/>
<rect x="1344.98" y="1506.25" width="44.03" height="18.08" fill="#d8bfd8"/>
<rect x="1390.51" y="1506.25" width="44.03" height="18.08" fill="#808080"/>
<rect x="1436.04" y="1506.25" width="44.03" height="18.08" fill="#d8bfd8"/>
<rect x="1481.57" y="1506.25" width="44.03" height="18.08" fill="#d8bfd8"/>
<rect x="1527.10" y="1506.25" width="44.03" height="18.08" fill="#d8bfd8"/>
<rect x="1572.63" y="1506.25" width="44.03" height="18.08" fill="#d8bfd8"/>
<rect x="1618.16" y="1506.25" width="44.03" height="18.08" fill="#d8bfd8"/>
<rect x="1663.69" y="1506.25" width="44.03" height="18.08" fill="#d8bfd8"/>
<rect x="1709.22" y="1506.25" width="44.03" height="18.08" fill="#d8bfd8"/>
<rect x="1754.75" y="1506.25" width="44.03" height="18.08" fill="#d8bfd8"/>
<rect x="1800.28" y="1506.25" width="44.03" height="18.08" fill="#808080"/>
<rect x="1845.81" y="1506.25" width="44.03" height="18.08" fill="#d8bfd8"/>
<rect x="1891.34" y="1506.25" width="44.03" height="18.08" fill="#808080"/>
<rect x="1936.87" y="1506.25" width="44.03" height="18.08" fill="#808080"/>
<rect x="1982.40" y="1506.25" width="44.03" height="18.08" fill="#d8bfd8"/>
<rect x="2027.93" y="1506.25" width="44.03" height="18.08" fill="#808080"/>
<rect x="2073.46" y="1506.25" width="44.03" height="18.08" fill="#d8bfd8"/>
<rect x="2118.99" y="1506.25" width="44.03" height="18.08" fill="#d8bfd8"/>
<rect x="1253.22" y="1525.83" width="44.73" height="18.08" fill="#808080"/>
<rect x="1299.45" y="1525.83" width="44.03" height="18.08" fill="#808080"/>
<rect x="1344.98" y="1525.83" width="44.03" height="18.08" fill="#d8bfd8"/>
<rect x="1390.51" y="1525.83" width="44.03" height="18.08" fill="#d8bfd8"/>
<rect x="1436.04" y="1525.83" width="44.03" height="18.08" fill="#d8bfd8"/>
<rect x="1481.57" y="1525.83" width="44.03" height="18.08" fill="#808080"/>
<rect x="1527.10" y="1525.83" width="44.03" height="18.08" fill="#808080"/>
<rect x="1572.63" y="1525.83" width="44.03" height="18.08" fill="#d8bfd8"/>
<rect x="1618.16" y="1525.83" width="44.03" height="18.08" fill="#d8bfd8"/>
<rect x="1663.69" y="1525.83" width="44.03" height="18.08" fill="#d8bfd8"/>
<rect x="1709.22" y="1525.83" width="44.03" height="18.08" fill="#d8bfd8"/>
<rect x="1754.75" y="1525.83" width="44.03" height="18.08" fill="#d8bfd8"/>
<rect x="1800.28" y="1525.83" width="44.03" height="18.08" fill="#d8bfd8"/>
<rect x="1845.81" y="1525.83" width="44.03" height="18.08" fill="#d8bfd8"/>
<rect x="1891.34" y="1525.83" width="44.03" height="18.08" fill="#808080"/>
<rect x="1936.87" y="1525.83" width="44.03" height="18.08" fill="#808080"/>
<rect x="1982.40" y="1525.83" width="44.03" height="18.08" fill="#808080"/>
<rect x="2027.93" y="1525.83" width="44.03" height="18.08" fill="#808080"/>
<rect x="2073.46" y="1525.83" width="44.03" height="18.08" fill="#808080"/>
<rect x="2118.99" y="1525.83" width="44.03" height="18.08" fill="#808080"/>
<rect x="1253.22" y="1545.41" width="44.73" height="18.08" fill="#4a245f"/>
<rect x="1299.45" y="1545.41" width="44.03" height="18.08" fill="#d8bfd8"/>
<rect x="1344.98" y="1545.41" width="44.03" height="18.08" fill="#d8bfd8"/>
<rect x="1390.51" y="1545.41" width="44.03" height="18.08" fill="#d8bfd8"/>
<rect x="1436.04" y="1545.41" width="44.03" height="18.08" fill="#d8bfd8"/>
<rect x="1481.57" y="1545.41" width="44.03" height="18.08" fill="#d8bfd8"/>
<rect x="1527.10" y="1545.41" width="44.03" height="18.08" fill="#d8bfd8"/>
<rect x="1572.63" y="1545.41" width="44.03" height="18.08" fill="#d8bfd8"/>
<rect x="1618.16" y="1545.41" width="44.03" height="18.08" fill="#d8bfd8"/>
<rect x="1663.69" y="1545.41" width="44.03" height="18.08" fill="#808080"/>
<rect x="1709.22" y="1545.41" width="44.03" height="18.08" fill="#d8bfd8"/>
<rect x="1754.75" y="1545.41" width="44.03" height="18.08" fill="#d8bfd8"/>
<rect x="1800.28" y="1545.41" width="44.03" height="18.08" fill="#d8bfd8"/>
<rect x="1845.81" y="1545.41" width="44.03" height="18.08" fill="#d8bfd8"/>
<rect x="1891.34" y="1545.41" width="44.03" height="18.08" fill="#808080"/>
<rect x="1936.87" y="1545.41" width="44.03" height="18.08" fill="#808080"/>
<rect x="1982.40" y="1545.41" width="44.03" height="18.08" fill="#808080"/>
<rect x="2027.93" y="1545.41" width="44.03" height="18.08" fill="#4a245f"/>
<rect x="2073.46" y="1545.41" width="44.03" height="18.08" fill="#4a245f"/>
<rect x="2118.99" y="1545.41" width="44.03" height="18.08" fill="#d8bfd8"/>
<rect x="1253.22" y="1564.99" width="44.73" height="18.08" fill="#808080"/>
<rect x="1299.45" y="1564.99" width="44.03" height="18.08" fill="#d8bfd8"/>
<rect x="1344.98" y="1564.99" width="44.03" height="18.08" fill="#808080"/>
<rect x="1390.51" y="1564.99" width="44.03" height="18.08" fill="#808080"/>
<rect x="1436.04" y="1564.99" width="44.03" height="18.08" fill="#d8bfd8"/>
<rect x="1481.57" y="1564.99" width="44.03" height="18.08" fill="#d8bfd8"/>
<rect x="1527.10" y="1564.99" width="44.03" height="18.08" fill="#d8bfd8"/>
<rect x="1572.63" y="1564.99" width="44.03" height="18.08" fill="#d8bfd8"/>
<rect x="1618.16" y="1564.99" width="44.03" height="18.08" fill="#d8bfd8"/>
<rect x="1663.69" y="1564.99" width="44.03" height="18.08" fill="#d8bfd8"/>
<rect x="1709.22" y="1564.99" width="44.03" height="18.08" fill="#d8bfd8"/>
<rect x="1754.75" y="1564.99" width="44.03" height="18.08" fill="#d8bfd8"/>
<rect x="1800.28" y="1564.99" width="44.03" height="18.08" fill="#d8bfd8"/>
<rect x="1845.81" y="1564.99" width="44.03" height="18.08" fill="#d8bfd8"/>
<rect x="1891.34" y="1564.99" width="44.03" height="18.08" fill="#808080"/>
<rect x="1936.87" y="1564.99" width="44.03" height="18.08" fill="#d8bfd8"/>
<rect x="1982.40" y="1564.99" width="44.03" height="18.08" fill="#808080"/>
<rect x="2027.93" y="1564.99" width="44.03" height="18.08" fill="#808080"/>
<rect x="2073.46" y="1564.99" width="44.03" height="18.08" fill="#808080"/>
<rect x="2118.99" y="1564.99" width="44.03" height="18.08" fill="#d8bfd8"/>
<g font-size="12.55" text-anchor="middle">
<text x="1275.93" y="1029.20" fill="#fff" stroke="#fff">0.050</text>
<text x="1321.46" y="1029.20" fill="#fff" stroke="#fff">0.439</text>
<text x="1366.99" y="1029.20" fill="#262626" stroke="#262626">0.028</text>
<text x="1412.52" y="1029.20" fill="#fff" stroke="#fff">0.876</text>
<text x="1458.05" y="1029.20" fill="#fff" stroke="#fff">0.373</text>
<text x="1503.58" y="1029.20" fill="#262626" stroke="#262626">0.005</text>
<text x="1549.11" y="1029.20" fill="#fff" stroke="#fff">0.655</text>
<text x="1594.64" y="1029.20" fill="#fff" stroke="#fff">0.890</text>
<text x="1640.17" y="1029.20" fill="#fff" stroke="#fff">0.053</text>
<text x="1685.70" y="1029.20" fill="#262626" stroke="#262626">0.028</text>
<text x="1731.23" y="1029.20" fill="#fff" stroke="#fff">0.217</text>
<text x="1776.76" y="1029.20" fill="#fff" stroke="#fff">0.100</text>
<text x="1822.29" y="1029.20" fill="#262626" stroke="#262626">0.006</text>
<text x="1867.82" y="1029.20" fill="#fff" stroke="#fff">0.105</text>
<text x="1913.36" y="1029.20" fill="#fff" stroke="#fff">0.095</text>
<text x="1958.88" y="1029.20" fill="#fff" stroke="#fff">0.038</text>
<text x="2004.41" y="1029.20" fill="#fff" stroke="#fff">0.024</text>
<text x="2049.94" y="1029.20" fill="#fff" stroke="#fff">0.023</text>
<text x="2095.47" y="1029.20" fill="#fff" stroke="#fff">0.024</text>
<text x="2141.01" y="1029.20" fill="#fff" stroke="#fff">0.091</text>
<text x="1275.93" y="1048.78" fill="#fff" stroke="#fff">0.180</text>
<text x="1321.46" y="1048.78" fill="#fff" stroke="#fff">0.029</text>
<text x="1366.99" y="1048.78" fill="#fff" stroke="#fff">0.436</text>
<text x="1412.52" y="1048.78" fill="#fff" stroke="#fff">0.299</text>
<text x="1458.05" y="1048.78" fill="#fff" stroke="#fff">0.029</text>
<text x="1503.58" y="1048.78" fill="#fff" stroke="#fff">0.964</text>
<text x="1549.11" y="1048.78" fill="#fff" stroke="#fff">0.988</text>
<text x="1594.64" y="1048.78" fill="#fff" stroke="#fff">0.199</text>
<text x="1640.17" y="1048.78" fill="#fff" stroke="#fff">0.622</text>
<text x="1685.70" y="1048.78" fill="#fff" stroke="#fff">0.033</text>
<text x="1731.23" y="1048.78" fill="#fff" stroke="#fff">0.497</text>
<text x="1776.76" y="1048.78" fill="#fff" stroke="#fff">0.719</text>
<text x="1822.29" y="1048.78" fill="#fff" stroke="#fff">0.206</text>
<text x="1867.82" y="1048.78" fill="#fff" stroke="#fff">0.811</text>
<text x="1913.36" y="1048.78" fill="#fff" stroke="#fff">0.690</text>
<text x="1958.88" y="1048.78" fill="#fff" stroke="#fff">0.005</text>
<text x="2004.41" y="1048.78" fill="#fff" stroke="#fff">0.039</text>
<text x="2049.94" y="1048.78" fill="#fff" stroke="#fff">0.140</text>
<text x="2095.47" y="1048.78" fill="#fff" stroke="#fff">0.013</text>
<text x="2141.01" y="1048.78" fill="#fff" stroke="#fff">0.019</text>
<text x="1275.93" y="1068.37" fill="#fff" stroke="#fff">0.022</text>
<text x="1321.46" y="1068.37" fill="#fff" stroke="#fff">0.249</text>
<text x="1366.99" y="1068.37" fill="#fff" stroke="#fff">0.841</text>
<text x="1412.52" y="1068.37" fill="#fff" stroke="#fff">0.642</text>
<text x="1458.05" y="1068.37" fill="#fff" stroke="#fff">0.033</text>
<text x="1503.58" y="1068.37" fill="#fff" stroke="#fff">0.884</text>
<text x="1549.11" y="1068.37" fill="#fff" stroke="#fff">0.524</text>
<text x="1594.64" y="1068.37" fill="#fff" stroke="#fff">0.154</text>
<text x="1640.17" y="1068.37" fill="#fff" stroke="#fff">0.007</text>
<text x="1685.70" y="1068.37" fill="#fff" stroke="#fff">0.022</text>
<text x="1731.23" y="1068.37" fill="#fff" stroke="#fff">0.876</text>
<text x="1776.76" y="1068.37" fill="#fff" stroke="#fff">0.421</text>
<text x="1822.29" y="1068.37" fill="#fff" stroke="#fff">0.205</text>
<text x="1867.82" y="1068.37" fill="#fff" stroke="#fff">0.633</text>
<text x="1913.36" y="1068.37" fill="#fff" stroke="#fff">0.009</text>
<text x="1958.88" y="1068.37" fill="#fff" stroke="#fff">0.076</text>
<text x="2004.41" y="1068.37" fill="#fff" stroke="#fff">0.228</text>
<text x="2049.94" y="1068.37" fill="#fff" stroke="#fff">0.020</text>
<text x="2095.47" y="1068.37" fill="#fff" stroke="#fff">0.051</text>
<text x="2141.01" y="1068.37" fill="#fff" stroke="#fff">0.371</text>
<text x="1275.93" y="1087.94" fill="#fff" stroke="#fff">0.870</text>
<text x="1321.46" y="1087.94" fill="#fff" stroke="#fff">0.312</text>
<text x="1366.99" y="1087.94" fill="#fff" stroke="#fff">0.604</text>
<text x="1412.52" y="1087.94" fill="#fff" stroke="#fff">0.823</text>
<text x="1458.05" y="1087.94" fill="#fff" stroke="#fff">0.871</text>
<text x="1503.58" y="1087.94" fill="#fff" stroke="#fff">0.050</text>
<text x="1549.11" y="1087.94" fill="#fff" stroke="#fff">0.783</text>
<text x="1594.64" y="1087.94" fill="#fff" stroke="#fff">0.118</text>
<text x="1640.17" y="1087.94" fill="#262626" stroke="#262626">0.001</text>
<text x="1685.70" y="1087.94" fill="#262626" stroke="#262626">0.002</text>
<text x="1731.23" y="1087.94" fill="#262626" stroke="#262626">4e-05</text>
<text x="1776.76" y="1087.94" fill="#fff" stroke="#fff">0.687</text>
<text x="1822.29" y="1087.94" fill="#262626" stroke="#262626">0.002</text>
<text x="1867.82" y="1087.94" fill="#262626" stroke="#262626">2e-04</text>
<text x="1913.36" y="1087.94" fill="#fff" stroke="#fff">0.909</text>
<text x="1958.88" y="1087.94" fill="#fff" stroke="#fff">0.207</text>
<text x="2004.41" y="1087.94" fill="#fff" stroke="#fff">0.790</text>
<text x="2049.94" y="1087.94" fill="#fff" stroke="#fff">0.296</text>
<text x="2095.47" y="1087.94" fill="#fff" stroke="#fff">0.960</text>
<text x="2141.01" y="1087.94" fill="#fff" stroke="#fff">0.633</text>
<text x="1275.93" y="1107.52" fill="#fff" stroke="#fff">0.266</text>
<text x="1321.46" y="1107.52" fill="#fff" stroke="#fff">0.302</text>
<text x="1366.99" y="1107.52" fill="#fff" stroke="#fff">0.109</text>
<text x="1412.52" y="1107.52" fill="#fff" stroke="#fff">0.317</text>
<text x="1458.05" y="1107.52" fill="#fff" stroke="#fff">0.079</text>
<text x="1503.58" y="1107.52" fill="#fff" stroke="#fff">0.136</text>
<text x="1549.11" y="1107.52" fill="#fff" stroke="#fff">0.077</text>
<text x="1594.64" y="1107.52" fill="#fff" stroke="#fff">0.155</text>
<text x="1640.17" y="1107.52" fill="#fff" stroke="#fff">0.428</text>
<text x="1685.70" y="1107.52" fill="#fff" stroke="#fff">0.151</text>
<text x="1731.23" y="1107.52" fill="#fff" stroke="#fff">0.122</text>
<text x="1776.76" y="1107.52" fill="#fff" stroke="#fff">0.215</text>
<text x="1822.29" y="1107.52" fill="#fff" stroke="#fff">0.102</text>
<text x="1867.82" y="1107.52" fill="#262626" stroke="#262626">0.018</text>
<text x="1913.36" y="1107.52" fill="#fff" stroke="#fff">0.823</text>
<text x="1958.88" y="1107.52" fill="#fff" stroke="#fff">0.769</text>
<text x="2004.41" y="1107.52" fill="#fff" stroke="#fff">0.605</text>
<text x="2049.94" y="1107.52" fill="#fff" stroke="#fff">0.038</text>
<text x="2095.47" y="1107.52" fill="#fff" stroke="#fff">0.399</text>
<text x="2141.01" y="1107.52" fill="#fff" stroke="#fff">0.726</text>
<text x="1275.93" y="1127.11" fill="#262626" stroke="#262626">0.013</text>
<text x="1321.46" y="1127.11" fill="#fff" stroke="#fff">0.932</text>
<text x="1366.99" y="1127.11" fill="#262626" stroke="#262626">7e-05</text>
<text x="1412.52" y="1127.11" fill="#fff" stroke="#fff">0.251</text>
<text x="1458.05" y="1127.11" fill="#262626" stroke="#262626">0.008</text>
<text x="1503.58" y="1127.11" fill="#262626" stroke="#262626">0.004</text>
<text x="1549.11" y="1127.11" fill="#262626" stroke="#262626">0.005</text>
<text x="1594.64" y="1127.11" fill="#262626" stroke="#262626">0.002</text>
<text x="1640.17" y="1127.11" fill="#262626" stroke="#262626">0.014</text>
<text x="1685.70" y="1127.11" fill="#fff" stroke="#fff">0.069</text>
<text x="1731.23" y="1127.11" fill="#262626" stroke="#262626">5e-06</text>
<text x="1776.76" y="1127.11" fill="#fff" stroke="#fff">0.675</text>
<text x="1822.29" y="1127.11" fill="#262626" stroke="#262626">0.004</text>
<text x="1867.82" y="1127.11" fill="#262626" stroke="#262626">3e-07</text>
<text x="1913.36" y="1127.11" fill="#fff" stroke="#fff">0.623</text>
<text x="1958.88" y="1127.11" fill="#fff" stroke="#fff">0.656</text>
<text x="2004.41" y="1127.11" fill="#fff" stroke="#fff">0.062</text>
<text x="2049.94" y="1127.11" fill="#262626" stroke="#262626">0.043</text>
<text x="2095.47" y="1127.11" fill="#fff" stroke="#fff">0.216</text>
<text x="2141.01" y="1127.11" fill="#fff" stroke="#fff">0.420</text>
<text x="1275.93" y="1146.68" fill="#fff" stroke="#fff">2e-12</text>
<text x="1321.46" y="1146.68" fill="#262626" stroke="#262626">7e-09</text>
<text x="1366.99" y="1146.68" fill="#fff" stroke="#fff">0.088</text>
<text x="1412.52" y="1146.68" fill="#262626" stroke="#262626">0.029</text>
<text x="1458.05" y="1146.68" fill="#262626" stroke="#262626">0.002</text>
<text x="1503.58" y="1146.68" fill="#262626" stroke="#262626">0.047</text>
<text x="1549.11" y="1146.68" fill="#fff" stroke="#fff">0.097</text>
<text x="1594.64" y="1146.68" fill="#fff" stroke="#fff">0.082</text>
<text x="1640.17" y="1146.68" fill="#fff" stroke="#fff">0.278</text>
<text x="1685.70" y="1146.68" fill="#262626" stroke="#262626">0.002</text>
<text x="1731.23" y="1146.68" fill="#fff" stroke="#fff">0.135</text>
<text x="1776.76" y="1146.68" fill="#fff" stroke="#fff">0.683</text>
<text x="1822.29" y="1146.68" fill="#fff" stroke="#fff">0.518</text>
<text x="1867.82" y="1146.68" fill="#fff" stroke="#fff">0.393</text>
<text x="1913.36" y="1146.68" fill="#fff" stroke="#fff">2e-07</text>
<text x="1958.88" y="1146.68" fill="#262626" stroke="#262626">0.023</text>
<text x="2004.41" y="1146.68" fill="#262626" stroke="#262626">5e-05</text>
<text x="2049.94" y="1146.68" fill="#fff" stroke="#fff">2e-12</text>
<text x="2095.47" y="1146.68" fill="#fff" stroke="#fff">0.877</text>
<text x="2141.01" y="1146.68" fill="#262626" stroke="#262626">2e-07</text>
<text x="1275.93" y="1166.26" fill="#fff" stroke="#fff">0.934</text>
<text x="1321.46" y="1166.26" fill="#fff" stroke="#fff">0.267</text>
<text x="1366.99" y="1166.26" fill="#fff" stroke="#fff">0.152</text>
<text x="1412.52" y="1166.26" fill="#fff" stroke="#fff">0.640</text>
<text x="1458.05" y="1166.26" fill="#fff" stroke="#fff">0.826</text>
<text x="1503.58" y="1166.26" fill="#fff" stroke="#fff">0.846</text>
<text x="1549.11" y="1166.26" fill="#fff" stroke="#fff">0.062</text>
<text x="1594.64" y="1166.26" fill="#fff" stroke="#fff">0.238</text>
<text x="1640.17" y="1166.26" fill="#fff" stroke="#fff">0.155</text>
<text x="1685.70" y="1166.26" fill="#fff" stroke="#fff">0.369</text>
<text x="1731.23" y="1166.26" fill="#fff" stroke="#fff">0.233</text>
<text x="1776.76" y="1166.26" fill="#262626" stroke="#262626">0.033</text>
<text x="1822.29" y="1166.26" fill="#262626" stroke="#262626">0.038</text>
<text x="1867.82" y="1166.26" fill="#fff" stroke="#fff">0.080</text>
<text x="1913.36" y="1166.26" fill="#fff" stroke="#fff">0.404</text>
<text x="1958.88" y="1166.26" fill="#fff" stroke="#fff">0.832</text>
<text x="2004.41" y="1166.26" fill="#fff" stroke="#fff">0.300</text>
<text x="2049.94" y="1166.26" fill="#fff" stroke="#fff">0.668</text>
<text x="2095.47" y="1166.26" fill="#fff" stroke="#fff">0.436</text>
<text x="2141.01" y="1166.26" fill="#fff" stroke="#fff">0.163</text>
<text x="1275.93" y="1185.85" fill="#262626" stroke="#262626">0.001</text>
<text x="1321.46" y="1185.85" fill="#fff" stroke="#fff">0.097</text>
<text x="1366.99" y="1185.85" fill="#262626" stroke="#262626">2e-04</text>
<text x="1412.52" y="1185.85" fill="#262626" stroke="#262626">0.014</text>
<text x="1458.05" y="1185.85" fill="#262626" stroke="#262626">0.002</text>
<text x="1503.58" y="1185.85" fill="#fff" stroke="#fff">0.088</text>
<text x="1549.11" y="1185.85" fill="#262626" stroke="#262626">0.004</text>
<text x="1594.64" y="1185.85" fill="#262626" stroke="#262626">5e-04</text>
<text x="1640.17" y="1185.85" fill="#262626" stroke="#262626">0.007</text>
<text x="1685.70" y="1185.85" fill="#fff" stroke="#fff">0.050</text>
<text x="1731.23" y="1185.85" fill="#262626" stroke="#262626">3e-05</text>
<text x="1776.76" y="1185.85" fill="#262626" stroke="#262626">0.039</text>
<text x="1822.29" y="1185.85" fill="#262626" stroke="#262626">0.006</text>
<text x="1867.82" y="1185.85" fill="#262626" stroke="#262626">2e-07</text>
<text x="1913.36" y="1185.85" fill="#fff" stroke="#fff">0.162</text>
<text x="1958.88" y="1185.85" fill="#fff" stroke="#fff">0.089</text>
<text x="2004.41" y="1185.85" fill="#fff" stroke="#fff">0.963</text>
<text x="2049.94" y="1185.85" fill="#262626" stroke="#262626">0.004</text>
<text x="2095.47" y="1185.85" fill="#262626" stroke="#262626">0.013</text>
<text x="2141.01" y="1185.85" fill="#fff" stroke="#fff">0.364</text>
<text x="1275.93" y="1205.42" fill="#fff" stroke="#fff">0.273</text>
<text x="1321.46" y="1205.42" fill="#fff" stroke="#fff">0.013</text>
<text x="1366.99" y="1205.42" fill="#fff" stroke="#fff">0.562</text>
<text x="1412.52" y="1205.42" fill="#262626" stroke="#262626">0.010</text>
<text x="1458.05" y="1205.42" fill="#fff" stroke="#fff">0.738</text>
<text x="1503.58" y="1205.42" fill="#fff" stroke="#fff">0.657</text>
<text x="1549.11" y="1205.42" fill="#fff" stroke="#fff">0.593</text>
<text x="1594.64" y="1205.42" fill="#fff" stroke="#fff">0.335</text>
<text x="1640.17" y="1205.42" fill="#fff" stroke="#fff">0.427</text>
<text x="1685.70" y="1205.42" fill="#fff" stroke="#fff">0.348</text>
<text x="1731.23" y="1205.42" fill="#fff" stroke="#fff">0.628</text>
<text x="1776.76" y="1205.42" fill="#fff" stroke="#fff">0.157</text>
<text x="1822.29" y="1205.42" fill="#fff" stroke="#fff">0.768</text>
<text x="1867.82" y="1205.42" fill="#fff" stroke="#fff">0.708</text>
<text x="1913.36" y="1205.42" fill="#fff" stroke="#fff">0.024</text>
<text x="1958.88" y="1205.42" fill="#fff" stroke="#fff">0.008</text>
<text x="2004.41" y="1205.42" fill="#fff" stroke="#fff">0.041</text>
<text x="2049.94" y="1205.42" fill="#fff" stroke="#fff">0.048</text>
<text x="2095.47" y="1205.42" fill="#fff" stroke="#fff">6e-04</text>
<text x="2141.01" y="1205.42" fill="#fff" stroke="#fff">0.002</text>
<text x="1275.93" y="1225.00" fill="#fff" stroke="#fff">0.878</text>
<text x="1321.46" y="1225.00" fill="#fff" stroke="#fff">0.687</text>
<text x="1366.99" y="1225.00" fill="#fff" stroke="#fff">0.117</text>
<text x="1412.52" y="1225.00" fill="#fff" stroke="#fff">0.912</text>
<text x="1458.05" y="1225.00" fill="#fff" stroke="#fff">0.070</text>
<text x="1503.58" y="1225.00" fill="#fff" stroke="#fff">0.571</text>
<text x="1549.11" y="1225.00" fill="#fff" stroke="#fff">0.324</text>
<text x="1594.64" y="1225.00" fill="#fff" stroke="#fff">0.322</text>
<text x="1640.17" y="1225.00" fill="#fff" stroke="#fff">0.709</text>
<text x="1685.70" y="1225.00" fill="#262626" stroke="#262626">0.034</text>
<text x="1731.23" y="1225.00" fill="#fff" stroke="#fff">0.097</text>
<text x="1776.76" y="1225.00" fill="#fff" stroke="#fff">0.727</text>
<text x="1822.29" y="1225.00" fill="#fff" stroke="#fff">0.136</text>
<text x="1867.82" y="1225.00" fill="#262626" stroke="#262626">0.041</text>
<text x="1913.36" y="1225.00" fill="#fff" stroke="#fff">0.051</text>
<text x="1958.88" y="1225.00" fill="#fff" stroke="#fff">0.102</text>
<text x="2004.41" y="1225.00" fill="#fff" stroke="#fff">0.197</text>
<text x="2049.94" y="1225.00" fill="#fff" stroke="#fff">0.899</text>
<text x="2095.47" y="1225.00" fill="#fff" stroke="#fff">0.760</text>
<text x="2141.01" y="1225.00" fill="#fff" stroke="#fff">0.534</text>
<text x="1275.93" y="1244.59" fill="#fff" stroke="#fff">0.987</text>
<text x="1321.46" y="1244.59" fill="#fff" stroke="#fff">0.052</text>
<text x="1366.99" y="1244.59" fill="#fff" stroke="#fff">0.213</text>
<text x="1412.52" y="1244.59" fill="#fff" stroke="#fff">0.071</text>
<text x="1458.05" y="1244.59" fill="#fff" stroke="#fff">0.079</text>
<text x="1503.58" y="1244.59" fill="#fff" stroke="#fff">0.250</text>
<text x="1549.11" y="1244.59" fill="#262626" stroke="#262626">0.013</text>
<text x="1594.64" y="1244.59" fill="#fff" stroke="#fff">0.088</text>
<text x="1640.17" y="1244.59" fill="#fff" stroke="#fff">0.622</text>
<text x="1685.70" y="1244.59" fill="#fff" stroke="#fff">0.108</text>
<text x="1731.23" y="1244.59" fill="#fff" stroke="#fff">0.907</text>
<text x="1776.76" y="1244.59" fill="#fff" stroke="#fff">0.569</text>
<text x="1822.29" y="1244.59" fill="#262626" stroke="#262626">0.022</text>
<text x="1867.82" y="1244.59" fill="#fff" stroke="#fff">0.664</text>
<text x="1913.36" y="1244.59" fill="#fff" stroke="#fff">0.649</text>
<text x="1958.88" y="1244.59" fill="#fff" stroke="#fff">0.224</text>
<text x="2004.41" y="1244.59" fill="#fff" stroke="#fff">0.542</text>
<text x="2049.94" y="1244.59" fill="#fff" stroke="#fff">0.948</text>
<text x="2095.47" y="1244.59" fill="#fff" stroke="#fff">0.660</text>
<text x="2141.01" y="1244.59" fill="#fff" stroke="#fff">0.127</text>
<text x="1275.93" y="1264.16" fill="#262626" stroke="#262626">7e-04</text>
<text x="1321.46" y="1264.16" fill="#262626" stroke="#262626">8e-04</text>
<text x="1366.99" y="1264.16" fill="#262626" stroke="#262626">0.021</text>
<text x="1412.52" y="1264.16" fill="#fff" stroke="#fff">0.057</text>
<text x="1458.05" y="1264.16" fill="#262626" stroke="#262626">0.016</text>
<text x="1503.58" y="1264.16" fill="#fff" stroke="#fff">0.197</text>
<text x="1549.11" y="1264.16" fill="#262626" stroke="#262626">0.046</text>
<text x="1594.64" y="1264.16" fill="#262626" stroke="#262626">0.010</text>
<text x="1640.17" y="1264.16" fill="#fff" stroke="#fff">0.577</text>
<text x="1685.70" y="1264.16" fill="#fff" stroke="#fff">0.496</text>
<text x="1731.23" y="1264.16" fill="#fff" stroke="#fff">0.064</text>
<text x="1776.76" y="1264.16" fill="#fff" stroke="#fff">0.144</text>
<text x="1822.29" y="1264.16" fill="#262626" stroke="#262626">1e-05</text>
<text x="1867.82" y="1264.16" fill="#262626" stroke="#262626">0.037</text>
<text x="1913.36" y="1264.16" fill="#fff" stroke="#fff">0.367</text>
<text x="1958.88" y="1264.16" fill="#262626" stroke="#262626">0.006</text>
<text x="2004.41" y="1264.16" fill="#fff" stroke="#fff">0.411</text>
<text x="2049.94" y="1264.16" fill="#262626" stroke="#262626">0.006</text>
<text x="2095.47" y="1264.16" fill="#262626" stroke="#262626">0.003</text>
<text x="2141.01" y="1264.16" fill="#262626" stroke="#262626">0.016</text>
<text x="1275.93" y="1283.74" fill="#fff" stroke="#fff">0.828</text>
<text x="1321.46" y="1283.74" fill="#fff" stroke="#fff">0.445</text>
<text x="1366.99" y="1283.74" fill="#fff" stroke="#fff">0.929</text>
<text x="1412.52" y="1283.74" fill="#fff" stroke="#fff">0.411</text>
<text x="1458.05" y="1283.74" fill="#fff" stroke="#fff">0.944</text>
<text x="1503.58" y="1283.74" fill="#fff" stroke="#fff">0.181</text>
<text x="1549.11" y="1283.74" fill="#fff" stroke="#fff">0.251</text>
<text x="1594.64" y="1283.74" fill="#fff" stroke="#fff">0.459</text>
<text x="1640.17" y="1283.74" fill="#fff" stroke="#fff">0.174</text>
<text x="1685.70" y="1283.74" fill="#fff" stroke="#fff">0.090</text>
<text x="1731.23" y="1283.74" fill="#fff" stroke="#fff">0.372</text>
<text x="1776.76" y="1283.74" fill="#fff" stroke="#fff">0.685</text>
<text x="1822.29" y="1283.74" fill="#fff" stroke="#fff">0.052</text>
<text x="1867.82" y="1283.74" fill="#fff" stroke="#fff">0.375</text>
<text x="1913.36" y="1283.74" fill="#fff" stroke="#fff">0.357</text>
<text x="1958.88" y="1283.74" fill="#fff" stroke="#fff">0.474</text>
<text x="2004.41" y="1283.74" fill="#fff" stroke="#fff">0.104</text>
<text x="2049.94" y="1283.74" fill="#fff" stroke="#fff">0.829</text>
<text x="2095.47" y="1283.74" fill="#fff" stroke="#fff">0.778</text>
<text x="2141.01" y="1283.74" fill="#fff" stroke="#fff">0.772</text>
<text x="1275.93" y="1303.32" fill="#fff" stroke="#fff">0.015</text>
<text x="1321.46" y="1303.32" fill="#fff" stroke="#fff">0.367</text>
<text x="1366.99" y="1303.32" fill="#fff" stroke="#fff">0.305</text>
<text x="1412.52" y="1303.32" fill="#fff" stroke="#fff">0.273</text>
<text x="1458.05" y="1303.32" fill="#fff" stroke="#fff">0.035</text>
<text x="1503.58" y="1303.32" fill="#fff" stroke="#fff">0.181</text>
<text x="1549.11" y="1303.32" fill="#fff" stroke="#fff">0.862</text>
<text x="1594.64" y="1303.32" fill="#fff" stroke="#fff">0.138</text>
<text x="1640.17" y="1303.32" fill="#fff" stroke="#fff">0.722</text>
<text x="1685.70" y="1303.32" fill="#fff" stroke="#fff">0.213</text>
<text x="1731.23" y="1303.32" fill="#fff" stroke="#fff">0.005</text>
<text x="1776.76" y="1303.32" fill="#fff" stroke="#fff">0.945</text>
<text x="1822.29" y="1303.32" fill="#fff" stroke="#fff">0.720</text>
<text x="1867.82" y="1303.32" fill="#fff" stroke="#fff">0.186</text>
<text x="1913.36" y="1303.32" fill="#fff" stroke="#fff">0.008</text>
<text x="1958.88" y="1303.32" fill="#fff" stroke="#fff">0.023</text>
<text x="2004.41" y="1303.32" fill="#fff" stroke="#fff">0.009</text>
<text x="2049.94" y="1303.32" fill="#fff" stroke="#fff">0.006</text>
<text x="2095.47" y="1303.32" fill="#fff" stroke="#fff">0.055</text>
<text x="2141.01" y="1303.32" fill="#fff" stroke="#fff">0.281</text>
<text x="1275.93" y="1322.90" fill="#fff" stroke="#fff">0.007</text>
<text x="1321.46" y="1322.90" fill="#fff" stroke="#fff">0.825</text>
<text x="1366.99" y="1322.90" fill="#fff" stroke="#fff">0.099</text>
<text x="1412.52" y="1322.90" fill="#fff" stroke="#fff">0.440</text>
<text x="1458.05" y="1322.90" fill="#fff" stroke="#fff">0.498</text>
<text x="1503.58" y="1322.90" fill="#fff" stroke="#fff">0.283</text>
<text x="1549.11" y="1322.90" fill="#fff" stroke="#fff">0.073</text>
<text x="1594.64" y="1322.90" fill="#fff" stroke="#fff">0.321</text>
<text x="1640.17" y="1322.90" fill="#fff" stroke="#fff">0.600</text>
<text x="1685.70" y="1322.90" fill="#fff" stroke="#fff">0.241</text>
<text x="1731.23" y="1322.90" fill="#fff" stroke="#fff">0.015</text>
<text x="1776.76" y="1322.90" fill="#fff" stroke="#fff">0.885</text>
<text x="1822.29" y="1322.90" fill="#fff" stroke="#fff">0.136</text>
<text x="1867.82" y="1322.90" fill="#fff" stroke="#fff">0.005</text>
<text x="1913.36" y="1322.90" fill="#fff" stroke="#fff">0.986</text>
<text x="1958.88" y="1322.90" fill="#fff" stroke="#fff">0.494</text>
<text x="2004.41" y="1322.90" fill="#fff" stroke="#fff">0.026</text>
<text x="2049.94" y="1322.90" fill="#fff" stroke="#fff">0.006</text>
<text x="2095.47" y="1322.90" fill="#fff" stroke="#fff">0.017</text>
<text x="2141.01" y="1322.90" fill="#fff" stroke="#fff">0.935</text>
<text x="1275.93" y="1342.48" fill="#fff" stroke="#fff">0.362</text>
<text x="1321.46" y="1342.48" fill="#fff" stroke="#fff">0.525</text>
<text x="1366.99" y="1342.48" fill="#fff" stroke="#fff">0.289</text>
<text x="1412.52" y="1342.48" fill="#fff" stroke="#fff">0.086</text>
<text x="1458.05" y="1342.48" fill="#fff" stroke="#fff">0.058</text>
<text x="1503.58" y="1342.48" fill="#fff" stroke="#fff">0.565</text>
<text x="1549.11" y="1342.48" fill="#fff" stroke="#fff">0.949</text>
<text x="1594.64" y="1342.48" fill="#fff" stroke="#fff">0.809</text>
<text x="1640.17" y="1342.48" fill="#fff" stroke="#fff">0.512</text>
<text x="1685.70" y="1342.48" fill="#fff" stroke="#fff">0.731</text>
<text x="1731.23" y="1342.48" fill="#fff" stroke="#fff">0.802</text>
<text x="1776.76" y="1342.48" fill="#fff" stroke="#fff">0.514</text>
<text x="1822.29" y="1342.48" fill="#fff" stroke="#fff">0.939</text>
<text x="1867.82" y="1342.48" fill="#fff" stroke="#fff">0.686</text>
<text x="1913.36" y="1342.48" fill="#fff" stroke="#fff">0.232</text>
<text x="1958.88" y="1342.48" fill="#fff" stroke="#fff">0.837</text>
<text x="2004.41" y="1342.48" fill="#fff" stroke="#fff">0.152</text>
<text x="2049.94" y="1342.48" fill="#fff" stroke="#fff">0.504</text>
<text x="2095.47" y="1342.48" fill="#fff" stroke="#fff">0.226</text>
<text x="2141.01" y="1342.48" fill="#fff" stroke="#fff">0.683</text>
<text x="1275.93" y="1362.07" fill="#fff" stroke="#fff">0.146</text>
<text x="1321.46" y="1362.07" fill="#fff" stroke="#fff">0.086</text>
<text x="1366.99" y="1362.07" fill="#262626" stroke="#262626">0.034</text>
<text x="1412.52" y="1362.07" fill="#fff" stroke="#fff">0.631</text>
<text x="1458.05" y="1362.07" fill="#fff" stroke="#fff">0.523</text>
<text x="1503.58" y="1362.07" fill="#262626" stroke="#262626">0.004</text>
<text x="1549.11" y="1362.07" fill="#262626" stroke="#262626">0.012</text>
<text x="1594.64" y="1362.07" fill="#fff" stroke="#fff">0.122</text>
<text x="1640.17" y="1362.07" fill="#fff" stroke="#fff">0.072</text>
<text x="1685.70" y="1362.07" fill="#fff" stroke="#fff">0.105</text>
<text x="1731.23" y="1362.07" fill="#262626" stroke="#262626">0.009</text>
<text x="1776.76" y="1362.07" fill="#fff" stroke="#fff">0.059</text>
<text x="1822.29" y="1362.07" fill="#fff" stroke="#fff">0.111</text>
<text x="1867.82" y="1362.07" fill="#262626" stroke="#262626">0.003</text>
<text x="1913.36" y="1362.07" fill="#fff" stroke="#fff">0.202</text>
<text x="1958.88" y="1362.07" fill="#fff" stroke="#fff">0.256</text>
<text x="2004.41" y="1362.07" fill="#fff" stroke="#fff">0.840</text>
<text x="2049.94" y="1362.07" fill="#fff" stroke="#fff">0.881</text>
<text x="2095.47" y="1362.07" fill="#fff" stroke="#fff">0.381</text>
<text x="2141.01" y="1362.07" fill="#fff" stroke="#fff">0.396</text>
<text x="1275.93" y="1381.64" fill="#fff" stroke="#fff">0.820</text>
<text x="1321.46" y="1381.64" fill="#fff" stroke="#fff">0.597</text>
<text x="1366.99" y="1381.64" fill="#fff" stroke="#fff">0.639</text>
<text x="1412.52" y="1381.64" fill="#fff" stroke="#fff">0.349</text>
<text x="1458.05" y="1381.64" fill="#fff" stroke="#fff">0.448</text>
<text x="1503.58" y="1381.64" fill="#fff" stroke="#fff">0.922</text>
<text x="1549.11" y="1381.64" fill="#fff" stroke="#fff">0.071</text>
<text x="1594.64" y="1381.64" fill="#fff" stroke="#fff">0.613</text>
<text x="1640.17" y="1381.64" fill="#fff" stroke="#fff">0.162</text>
<text x="1685.70" y="1381.64" fill="#fff" stroke="#fff">0.466</text>
<text x="1731.23" y="1381.64" fill="#fff" stroke="#fff">0.184</text>
<text x="1776.76" y="1381.64" fill="#fff" stroke="#fff">0.335</text>
<text x="1822.29" y="1381.64" fill="#fff" stroke="#fff">0.677</text>
<text x="1867.82" y="1381.64" fill="#fff" stroke="#fff">0.159</text>
<text x="1913.36" y="1381.64" fill="#fff" stroke="#fff">0.157</text>
<text x="1958.88" y="1381.64" fill="#fff" stroke="#fff">0.822</text>
<text x="2004.41" y="1381.64" fill="#fff" stroke="#fff">0.832</text>
<text x="2049.94" y="1381.64" fill="#fff" stroke="#fff">0.981</text>
<text x="2095.47" y="1381.64" fill="#fff" stroke="#fff">0.844</text>
<text x="2141.01" y="1381.64" fill="#fff" stroke="#fff">0.539</text>
<text x="1275.93" y="1401.22" fill="#fff" stroke="#fff">0.983</text>
<text x="1321.46" y="1401.22" fill="#fff" stroke="#fff">0.554</text>
<text x="1366.99" y="1401.22" fill="#fff" stroke="#fff">0.299</text>
<text x="1412.52" y="1401.22" fill="#262626" stroke="#262626">0.041</text>
<text x="1458.05" y="1401.22" fill="#fff" stroke="#fff">0.262</text>
<text x="1503.58" y="1401.22" fill="#fff" stroke="#fff">0.344</text>
<text x="1549.11" y="1401.22" fill="#262626" stroke="#262626">0.012</text>
<text x="1594.64" y="1401.22" fill="#fff" stroke="#fff">0.562</text>
<text x="1640.17" y="1401.22" fill="#fff" stroke="#fff">0.212</text>
<text x="1685.70" y="1401.22" fill="#fff" stroke="#fff">0.152</text>
<text x="1731.23" y="1401.22" fill="#fff" stroke="#fff">0.865</text>
<text x="1776.76" y="1401.22" fill="#fff" stroke="#fff">0.306</text>
<text x="1822.29" y="1401.22" fill="#fff" stroke="#fff">0.106</text>
<text x="1867.82" y="1401.22" fill="#fff" stroke="#fff">0.579</text>
<text x="1913.36" y="1401.22" fill="#fff" stroke="#fff">0.417</text>
<text x="1958.88" y="1401.22" fill="#fff" stroke="#fff">0.888</text>
<text x="2004.41" y="1401.22" fill="#fff" stroke="#fff">0.357</text>
<text x="2049.94" y="1401.22" fill="#fff" stroke="#fff">0.413</text>
<text x="2095.47" y="1401.22" fill="#fff" stroke="#fff">0.789</text>
<text x="2141.01" y="1401.22" fill="#fff" stroke="#fff">0.795</text>
<text x="1275.93" y="1420.80" fill="#fff" stroke="#fff">0.661</text>
<text x="1321.46" y="1420.80" fill="#fff" stroke="#fff">0.970</text>
<text x="1366.99" y="1420.80" fill="#fff" stroke="#fff">0.693</text>
<text x="1412.52" y="1420.80" fill="#fff" stroke="#fff">0.725</text>
<text x="1458.05" y="1420.80" fill="#fff" stroke="#fff">0.812</text>
<text x="1503.58" y="1420.80" fill="#fff" stroke="#fff">0.525</text>
<text x="1549.11" y="1420.80" fill="#fff" stroke="#fff">0.210</text>
<text x="1594.64" y="1420.80" fill="#fff" stroke="#fff">0.194</text>
<text x="1640.17" y="1420.80" fill="#fff" stroke="#fff">0.135</text>
<text x="1685.70" y="1420.80" fill="#fff" stroke="#fff">0.313</text>
<text x="1731.23" y="1420.80" fill="#fff" stroke="#fff">0.141</text>
<text x="1776.76" y="1420.80" fill="#fff" stroke="#fff">0.950</text>
<text x="1822.29" y="1420.80" fill="#fff" stroke="#fff">0.555</text>
<text x="1867.82" y="1420.80" fill="#fff" stroke="#fff">0.190</text>
<text x="1913.36" y="1420.80" fill="#fff" stroke="#fff">0.513</text>
<text x="1958.88" y="1420.80" fill="#fff" stroke="#fff">0.970</text>
<text x="2004.41" y="1420.80" fill="#fff" stroke="#fff">0.848</text>
<text x="2049.94" y="1420.80" fill="#fff" stroke="#fff">0.973</text>
<text x="2095.47" y="1420.80" fill="#fff" stroke="#fff">0.961</text>
<text x="2141.01" y="1420.80" fill="#fff" stroke="#fff">0.538</text>
<text x="1275.93" y="1440.38" fill="#fff" stroke="#fff">0.738</text>
<text x="1321.46" y="1440.38" fill="#fff" stroke="#fff">0.943</text>
<text x="1366.99" y="1440.38" fill="#fff" stroke="#fff">0.313</text>
<text x="1412.52" y="1440.38" fill="#fff" stroke="#fff">0.421</text>
<text x="1458.05" y="1440.38" fill="#fff" stroke="#fff">0.121</text>
<text x="1503.58" y="1440.38" fill="#fff" stroke="#fff">0.491</text>
<text x="1549.11" y="1440.38" fill="#fff" stroke="#fff">0.168</text>
<text x="1594.64" y="1440.38" fill="#fff" stroke="#fff">0.148</text>
<text x="1640.17" y="1440.38" fill="#fff" stroke="#fff">0.682</text>
<text x="1685.70" y="1440.38" fill="#fff" stroke="#fff">0.393</text>
<text x="1731.23" y="1440.38" fill="#fff" stroke="#fff">0.732</text>
<text x="1776.76" y="1440.38" fill="#262626" stroke="#262626">0.047</text>
<text x="1822.29" y="1440.38" fill="#fff" stroke="#fff">0.071</text>
<text x="1867.82" y="1440.38" fill="#fff" stroke="#fff">0.120</text>
<text x="1913.36" y="1440.38" fill="#fff" stroke="#fff">0.902</text>
<text x="1958.88" y="1440.38" fill="#fff" stroke="#fff">0.886</text>
<text x="2004.41" y="1440.38" fill="#fff" stroke="#fff">0.968</text>
<text x="2049.94" y="1440.38" fill="#fff" stroke="#fff">0.372</text>
<text x="2095.47" y="1440.38" fill="#fff" stroke="#fff">0.477</text>
<text x="2141.01" y="1440.38" fill="#fff" stroke="#fff">0.370</text>
<text x="1275.93" y="1459.96" fill="#262626" stroke="#262626">6e-04</text>
<text x="1321.46" y="1459.96" fill="#fff" stroke="#fff">0.799</text>
<text x="1366.99" y="1459.96" fill="#fff" stroke="#fff">2e-05</text>
<text x="1412.52" y="1459.96" fill="#262626" stroke="#262626">1e-04</text>
<text x="1458.05" y="1459.96" fill="#262626" stroke="#262626">3e-27</text>
<text x="1503.58" y="1459.96" fill="#fff" stroke="#fff">0.771</text>
<text x="1549.11" y="1459.96" fill="#262626" stroke="#262626">7e-23</text>
<text x="1594.64" y="1459.96" fill="#262626" stroke="#262626">5e-21</text>
<text x="1640.17" y="1459.96" fill="#262626" stroke="#262626">5e-04</text>
<text x="1685.70" y="1459.96" fill="#262626" stroke="#262626">6e-12</text>
<text x="1731.23" y="1459.96" fill="#262626" stroke="#262626">1e-09</text>
<text x="1776.76" y="1459.96" fill="#262626" stroke="#262626">3e-22</text>
<text x="1822.29" y="1459.96" fill="#262626" stroke="#262626">6e-30</text>
<text x="1867.82" y="1459.96" fill="#262626" stroke="#262626">3e-28</text>
<text x="1913.36" y="1459.96" fill="#fff" stroke="#fff">9e-23</text>
<text x="1958.88" y="1459.96" fill="#fff" stroke="#fff">0.585</text>
<text x="2004.41" y="1459.96" fill="#fff" stroke="#fff">4e-43</text>
<text x="2049.94" y="1459.96" fill="#fff" stroke="#fff">0.767</text>
<text x="2095.47" y="1459.96" fill="#fff" stroke="#fff">0.339</text>
<text x="2141.01" y="1459.96" fill="#fff" stroke="#fff">0.017</text>
<text x="1275.93" y="1479.54" fill="#262626" stroke="#262626">9e-04</text>
<text x="1321.46" y="1479.54" fill="#262626" stroke="#262626">3e-08</text>
<text x="1366.99" y="1479.54" fill="#262626" stroke="#262626">0.008</text>
<text x="1412.52" y="1479.54" fill="#262626" stroke="#262626">2e-06</text>
<text x="1458.05" y="1479.54" fill="#262626" stroke="#262626">0.001</text>
<text x="1503.58" y="1479.54" fill="#262626" stroke="#262626">0.001</text>
<text x="1549.11" y="1479.54" fill="#fff" stroke="#fff">0.517</text>
<text x="1594.64" y="1479.54" fill="#262626" stroke="#262626">0.008</text>
<text x="1640.17" y="1479.54" fill="#262626" stroke="#262626">2e-06</text>
<text x="1685.70" y="1479.54" fill="#262626" stroke="#262626">6e-07</text>
<text x="1731.23" y="1479.54" fill="#262626" stroke="#262626">1e-16</text>
<text x="1776.76" y="1479.54" fill="#262626" stroke="#262626">1e-13</text>
<text x="1822.29" y="1479.54" fill="#262626" stroke="#262626">2e-11</text>
<text x="1867.82" y="1479.54" fill="#262626" stroke="#262626">3e-18</text>
<text x="1913.36" y="1479.54" fill="#262626" stroke="#262626">0.012</text>
<text x="1958.88" y="1479.54" fill="#262626" stroke="#262626">0.021</text>
<text x="2004.41" y="1479.54" fill="#fff" stroke="#fff">0.137</text>
<text x="2049.94" y="1479.54" fill="#fff" stroke="#fff">0.349</text>
<text x="2095.47" y="1479.54" fill="#262626" stroke="#262626">0.001</text>
<text x="2141.01" y="1479.54" fill="#262626" stroke="#262626">1e-04</text>
<text x="1275.93" y="1499.12" fill="#fff" stroke="#fff">0.428</text>
<text x="1321.46" y="1499.12" fill="#fff" stroke="#fff">0.310</text>
<text x="1366.99" y="1499.12" fill="#262626" stroke="#262626">5e-05</text>
<text x="1412.52" y="1499.12" fill="#fff" stroke="#fff">0.156</text>
<text x="1458.05" y="1499.12" fill="#fff" stroke="#fff">0.590</text>
<text x="1503.58" y="1499.12" fill="#262626" stroke="#262626">0.003</text>
<text x="1549.11" y="1499.12" fill="#fff" stroke="#fff">0.901</text>
<text x="1594.64" y="1499.12" fill="#262626" stroke="#262626">0.006</text>
<text x="1640.17" y="1499.12" fill="#fff" stroke="#fff">0.689</text>
<text x="1685.70" y="1499.12" fill="#fff" stroke="#fff">0.007</text>
<text x="1731.23" y="1499.12" fill="#262626" stroke="#262626">2e-04</text>
<text x="1776.76" y="1499.12" fill="#262626" stroke="#262626">0.037</text>
<text x="1822.29" y="1499.12" fill="#fff" stroke="#fff">0.168</text>
<text x="1867.82" y="1499.12" fill="#262626" stroke="#262626">0.036</text>
<text x="1913.36" y="1499.12" fill="#fff" stroke="#fff">5e-04</text>
<text x="1958.88" y="1499.12" fill="#fff" stroke="#fff">0.002</text>
<text x="2004.41" y="1499.12" fill="#fff" stroke="#fff">5e-05</text>
<text x="2049.94" y="1499.12" fill="#fff" stroke="#fff">0.007</text>
<text x="2095.47" y="1499.12" fill="#fff" stroke="#fff">0.023</text>
<text x="2141.01" y="1499.12" fill="#fff" stroke="#fff">0.005</text>
<text x="1275.93" y="1518.70" fill="#262626" stroke="#262626">0.011</text>
<text x="1321.46" y="1518.70" fill="#262626" stroke="#262626">0.005</text>
<text x="1366.99" y="1518.70" fill="#262626" stroke="#262626">6e-05</text>
<text x="1412.52" y="1518.70" fill="#fff" stroke="#fff">0.121</text>
<text x="1458.05" y="1518.70" fill="#262626" stroke="#262626">0.012</text>
<text x="1503.58" y="1518.70" fill="#262626" stroke="#262626">0.038</text>
<text x="1549.11" y="1518.70" fill="#262626" stroke="#262626">0.001</text>
<text x="1594.64" y="1518.70" fill="#262626" stroke="#262626">0.002</text>
<text x="1640.17" y="1518.70" fill="#262626" stroke="#262626">7e-04</text>
<text x="1685.70" y="1518.70" fill="#262626" stroke="#262626">3e-04</text>
<text x="1731.23" y="1518.70" fill="#262626" stroke="#262626">1e-04</text>
<text x="1776.76" y="1518.70" fill="#262626" stroke="#262626">3e-06</text>
<text x="1822.29" y="1518.70" fill="#fff" stroke="#fff">0.054</text>
<text x="1867.82" y="1518.70" fill="#262626" stroke="#262626">6e-04</text>
<text x="1913.36" y="1518.70" fill="#fff" stroke="#fff">0.847</text>
<text x="1958.88" y="1518.70" fill="#fff" stroke="#fff">0.478</text>
<text x="2004.41" y="1518.70" fill="#262626" stroke="#262626">0.008</text>
<text x="2049.94" y="1518.70" fill="#fff" stroke="#fff">0.245</text>
<text x="2095.47" y="1518.70" fill="#262626" stroke="#262626">0.012</text>
<text x="2141.01" y="1518.70" fill="#262626" stroke="#262626">0.033</text>
<text x="1275.93" y="1538.28" fill="#fff" stroke="#fff">0.294</text>
<text x="1321.46" y="1538.28" fill="#fff" stroke="#fff">0.816</text>
<text x="1366.99" y="1538.28" fill="#262626" stroke="#262626">3e-04</text>
<text x="1412.52" y="1538.28" fill="#262626" stroke="#262626">0.017</text>
<text x="1458.05" y="1538.28" fill="#262626" stroke="#262626">1e-06</text>
<text x="1503.58" y="1538.28" fill="#fff" stroke="#fff">0.187</text>
<text x="1549.11" y="1538.28" fill="#fff" stroke="#fff">0.772</text>
<text x="1594.64" y="1538.28" fill="#262626" stroke="#262626">5e-09</text>
<text x="1640.17" y="1538.28" fill="#262626" stroke="#262626">6e-04</text>
<text x="1685.70" y="1538.28" fill="#262626" stroke="#262626">1e-09</text>
<text x="1731.23" y="1538.28" fill="#262626" stroke="#262626">7e-09</text>
<text x="1776.76" y="1538.28" fill="#262626" stroke="#262626">4e-04</text>
<text x="1822.29" y="1538.28" fill="#262626" stroke="#262626">1e-17</text>
<text x="1867.82" y="1538.28" fill="#262626" stroke="#262626">3e-18</text>
<text x="1913.36" y="1538.28" fill="#fff" stroke="#fff">0.107</text>
<text x="1958.88" y="1538.28" fill="#fff" stroke="#fff">0.219</text>
<text x="2004.41" y="1538.28" fill="#fff" stroke="#fff">0.159</text>
<text x="2049.94" y="1538.28" fill="#fff" stroke="#fff">0.936</text>
<text x="2095.47" y="1538.28" fill="#fff" stroke="#fff">0.836</text>
<text x="2141.01" y="1538.28" fill="#fff" stroke="#fff">0.281</text>
<text x="1275.93" y="1557.86" fill="#fff" stroke="#fff">0.002</text>
<text x="1321.46" y="1557.86" fill="#262626" stroke="#262626">2e-04</text>
<text x="1366.99" y="1557.86" fill="#262626" stroke="#262626">4e-05</text>
<text x="1412.52" y="1557.86" fill="#262626" stroke="#262626">2e-07</text>
<text x="1458.05" y="1557.86" fill="#262626" stroke="#262626">7e-05</text>
<text x="1503.58" y="1557.86" fill="#262626" stroke="#262626">2e-06</text>
<text x="1549.11" y="1557.86" fill="#262626" stroke="#262626">6e-11</text>
<text x="1594.64" y="1557.86" fill="#262626" stroke="#262626">2e-04</text>
<text x="1640.17" y="1557.86" fill="#262626" stroke="#262626">8e-06</text>
<text x="1685.70" y="1557.86" fill="#fff" stroke="#fff">0.888</text>
<text x="1731.23" y="1557.86" fill="#262626" stroke="#262626">8e-04</text>
<text x="1776.76" y="1557.86" fill="#262626" stroke="#262626">6e-21</text>
<text x="1822.29" y="1557.86" fill="#262626" stroke="#262626">2e-08</text>
<text x="1867.82" y="1557.86" fill="#262626" stroke="#262626">6e-14</text>
<text x="1913.36" y="1557.86" fill="#fff" stroke="#fff">1.000</text>
<text x="1958.88" y="1557.86" fill="#fff" stroke="#fff">0.323</text>
<text x="2004.41" y="1557.86" fill="#fff" stroke="#fff">0.611</text>
<text x="2049.94" y="1557.86" fill="#fff" stroke="#fff">1e-06</text>
<text x="2095.47" y="1557.86" fill="#fff" stroke="#fff">0.038</text>
<text x="2141.01" y="1557.86" fill="#262626" stroke="#262626">0.045</text>
<text x="1275.93" y="1577.44" fill="#fff" stroke="#fff">0.133</text>
<text x="1321.46" y="1577.44" fill="#262626" stroke="#262626">4e-05</text>
<text x="1366.99" y="1577.44" fill="#fff" stroke="#fff">0.069</text>
<text x="1412.52" y="1577.44" fill="#fff" stroke="#fff">0.390</text>
<text x="1458.05" y="1577.44" fill="#262626" stroke="#262626">2e-04</text>
<text x="1503.58" y="1577.44" fill="#262626" stroke="#262626">2e-04</text>
<text x="1549.11" y="1577.44" fill="#262626" stroke="#262626">0.003</text>
<text x="1594.64" y="1577.44" fill="#262626" stroke="#262626">2e-05</text>
<text x="1640.17" y="1577.44" fill="#262626" stroke="#262626">4e-07</text>
<text x="1685.70" y="1577.44" fill="#262626" stroke="#262626">8e-06</text>
<text x="1731.23" y="1577.44" fill="#262626" stroke="#262626">0.010</text>
<text x="1776.76" y="1577.44" fill="#262626" stroke="#262626">3e-14</text>
<text x="1822.29" y="1577.44" fill="#262626" stroke="#262626">4e-10</text>
<text x="1867.82" y="1577.44" fill="#262626" stroke="#262626">3e-13</text>
<text x="1913.36" y="1577.44" fill="#fff" stroke="#fff">0.196</text>
<text x="1958.88" y="1577.44" fill="#262626" stroke="#262626">0.012</text>
<text x="2004.41" y="1577.44" fill="#fff" stroke="#fff">0.092</text>
<text x="2049.94" y="1577.44" fill="#fff" stroke="#fff">0.521</text>
<text x="2095.47" y="1577.44" fill="#fff" stroke="#fff">0.062</text>
<text x="2141.01" y="1577.44" fill="#262626" stroke="#262626">0.033</text>
</g>
<g font-size="12.55" text-anchor="end" fill="#000" stroke="#000">
<text x="1244.17" y="1029.67">NSCLC Subtyping</text>
<text x="1244.17" y="1049.25">LUAD CPTAC EGFR</text>
<text x="1244.17" y="1068.83">LUAD CPTAC KRAS</text>
<text x="1244.17" y="1088.41">LUAD CPTAC STK11</text>
<text x="1244.17" y="1107.99">LUAD CPTAC TP53</text>
<text x="1244.17" y="1127.57">STAD Bern MSI</text>
<text x="1244.17" y="1147.15">STAD Bern N STATUS</text>
<text x="1244.17" y="1166.73">STAD Kiel EBV</text>
<text x="1244.17" y="1186.31">STAD Kiel MSI</text>
<text x="1244.17" y="1205.89">STAD Kiel N STATUS</text>
<text x="1244.17" y="1225.47">STAD Kiel M STATUS</text>
<text x="1244.17" y="1245.05">BRCA CPTAC ERBB2</text>
<text x="1244.17" y="1264.63">BRCA CPTAC ESR1</text>
<text x="1244.17" y="1284.21">BRCA CPTAC PGR</text>
<text x="1244.17" y="1303.79">BRCA CPTAC PIK3CA</text>
<text x="1244.17" y="1323.37">BRCA IEO N STATUS</text>
<text x="1244.17" y="1342.95">CPTAC CRC Sidedness</text>
<text x="1244.17" y="1362.53">CRC CPTAC MSI</text>
<text x="1244.17" y="1382.11">CRC CPTAC BRAF</text>
<text x="1244.17" y="1401.69">CRC CPTAC KRAS</text>
<text x="1244.17" y="1421.27">CRC CPTAC PIK3CA</text>
<text x="1244.17" y="1440.85">CRC CPTAC N STATUS</text>
<text x="1244.17" y="1460.43">DACHS CRC Sidedness</text>
<text x="1244.17" y="1480.01">CRC DACHS MSI</text>
<text x="1244.17" y="1499.59">CRC DACHS BRAF</text>
<text x="1244.17" y="1519.17">CRC DACHS KRAS</text>
<text x="1244.17" y="1538.75">CRC DACHS CIMP</text>
<text x="1244.17" y="1558.33">CRC DACHS N STATUS</text>
<text x="1244.17" y="1577.91">CRC DACHS M STATUS</text>
</g>
<path d="M1248.67 1025.79h4.50M1248.67 1045.37h4.50M1248.67 1064.95h4.50M1248.67 1084.53h4.50M1248.67 1104.11h4.50M1248.67 1123.69h4.50M1248.67 1143.27h4.50M1248.67 1162.85h4.50M1248.67 1182.43h4.50M1248.67 1202.01h4.50M1248.67 1221.59h4.50M1248.67 1241.17h4.50M1248.67 1260.75h4.50M1248.67 1280.33h4.50M1248.67 1299.91h4.50M1248.67 1319.49h4.50M1248.67 1339.07h4.50M1248.67 1358.65h4.50M1248.67 1378.23h4.50M1248.67 1397.81h4.50M1248.67 1417.39h4.50M1248.67 1436.97h4.50M1248.67 1456.55h4.50M1248.67 1476.13h4.50M1248.67 1495.71h4.50M1248.67 1515.29h4.50M1248.67 1534.87h4.50M1248.67 1554.45h4.50M1248.67 1574.03h4.50" stroke="#111" stroke-width="1.2" fill="none"/>
<path d="M1275.93 1583.82v4.50M1321.46 1583.82v4.50M1366.99 1583.82v4.50M1412.52 1583.82v4.50M1458.05 1583.82v4.50M1503.58 1583.82v4.50M1549.11 1583.82v4.50M1594.64 1583.82v4.50M1640.17 1583.82v4.50M1685.70 1583.82v4.50M1731.23 1583.82v4.50M1776.76 1583.82v4.50M1822.29 1583.82v4.50M1867.82 1583.82v4.50M1913.36 1583.82v4.50M1958.88 1583.82v4.50M2004.41 1583.82v4.50M2049.94 1583.82v4.50M2095.47 1583.82v4.50M2141.01 1583.82v4.50" stroke="#111" stroke-width="1.2" fill="none"/>
<g font-size="12.55" text-anchor="end" fill="#000" stroke="#000">
<text transform="translate(1273.81 1599.56) rotate(-45)">CONCH</text>
<text transform="translate(1319.34 1599.56) rotate(-45)">ProvGigaPath</text>
<text transform="translate(1364.87 1599.56) rotate(-45)">DinoSSLPath</text>
<text transform="translate(1410.40 1599.56) rotate(-45)">H-optimus-0</text>
<text transform="translate(1455.93 1599.56) rotate(-45)">UNI</text>
<text transform="translate(1501.46 1599.56) rotate(-45)">Panakeia*</text>
<text transform="translate(1546.99 1599.56) rotate(-45)">Virchow</text>
<text transform="translate(1592.52 1599.56) rotate(-45)">CTransPath</text>
<text transform="translate(1638.05 1599.56) rotate(-45)">Hibou-L</text>
<text transform="translate(1683.58 1599.56) rotate(-45)">Hibou-B</text>
<text transform="translate(1729.11 1599.56) rotate(-45)">BiomedCLIP</text>
<text transform="translate(1774.64 1599.56) rotate(-45)">Kaiko</text>
<text transform="translate(1820.17 1599.56) rotate(-45)">Phikon</text>
<text transform="translate(1865.70 1599.56) rotate(-45)">PLIP</text>
<text transform="translate(1911.23 1599.56) rotate(-45)">Concat-CONCH-V2</text>
<text transform="translate(1956.76 1599.56) rotate(-45)">Concat-CONCH-GP</text>
<text transform="translate(2002.29 1599.56) rotate(-45)">Concat-V2-GP</text>
<text transform="translate(2047.82 1599.56) rotate(-45)">Avg-CONCH-V2</text>
<text transform="translate(2093.35 1599.56) rotate(-45)">Avg-CONCH-GP</text>
<text transform="translate(2138.88 1599.56) rotate(-45)">Avg-V2-GP</text>
</g>
<rect x="1891.79" y="1015.30" width="273.28" height="569.90" fill="none" stroke="#000" stroke-width="2.5"/>
<rect x="39.0" y="1706.8" width="47.2" height="21.5" fill="#d8bfd8"/>
<g font-size="19.2" text-anchor="middle">
<text x="189.3" y="1711.0">CONCH</text><text x="189.3" y="1734.5">significantly better</text>
<text x="494.4" y="1711.0">Other model/ensemble</text><text x="494.4" y="1734.5">significantly better</text>
<text x="779.5" y="1715.0">No significant</text><text x="779.5" y="1738.4">differences</text>
<text x="1000.5" y="1728.8">Ensembles</text>
</g>
<rect x="320.0" y="1706.8" width="47.5" height="21.5" fill="#4a245f"/>
<rect x="646.0" y="1709.0" width="47.8" height="21.6" fill="#808080"/>
<rect x="888.0" y="1713.2" width="42.9" height="16.9" fill="none" stroke="#000" stroke-width="2.5"/>
<rect x="1127.1" y="1711.2" width="47.2" height="21.5" fill="#d8bfd8"/>
<g font-size="19.2" text-anchor="middle">
<text x="1277.4" y="1715.4">Virchow2</text><text x="1277.4" y="1738.9">significantly better</text>
<text x="1582.5" y="1715.4">Other model/ensemble</text><text x="1582.5" y="1738.9">significantly better</text>
<text x="1867.6" y="1719.4">No significant</text><text x="1867.6" y="1742.8">differences</text>
<text x="2088.6" y="1733.2">Ensembles</text>
</g>
<rect x="1408.1" y="1711.2" width="47.5" height="21.5" fill="#4a245f"/>
<rect x="1734.1" y="1713.4" width="47.8" height="21.6" fill="#808080"/>
<rect x="1976.1" y="1717.7" width="42.9" height="16.9" fill="none" stroke="#000" stroke-width="2.5"/>
</svg>
</body></html>
